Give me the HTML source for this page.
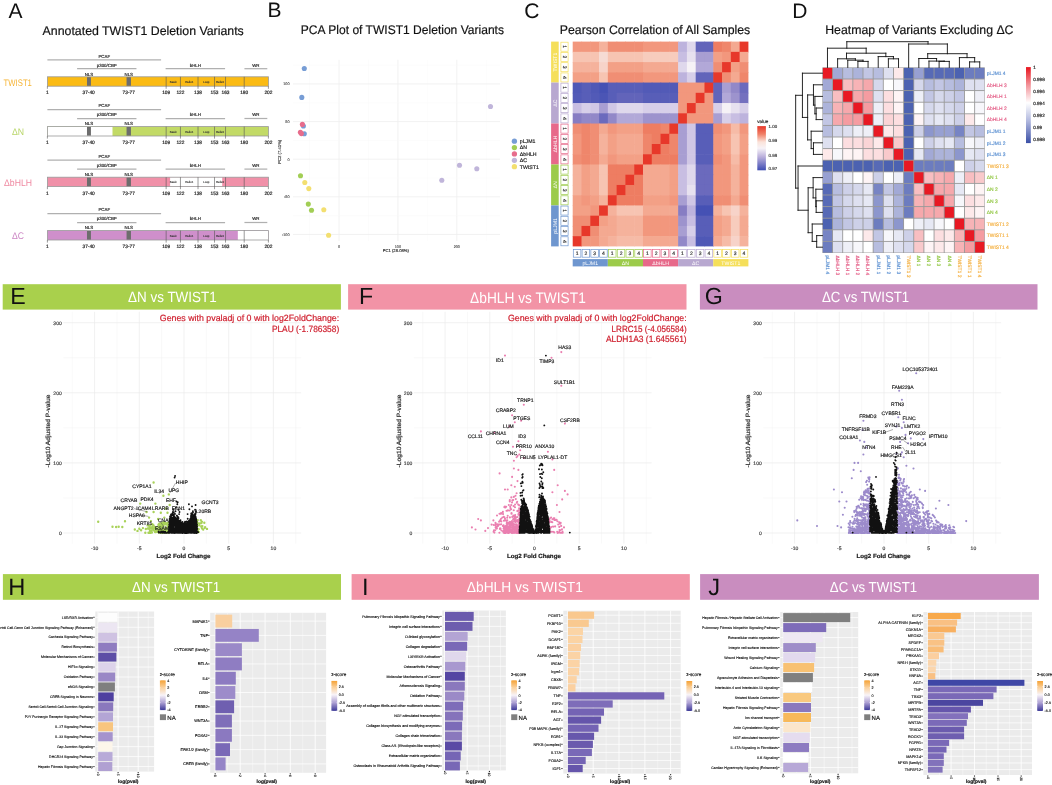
<!DOCTYPE html>
<html><head><meta charset="utf-8"><title>TWIST1 figure</title>
<style>
html,body{margin:0;padding:0;background:#fff;}
body{width:1052px;height:785px;overflow:hidden;}
svg{display:block;font-family:"Liberation Sans", sans-serif;text-rendering:geometricPrecision;will-change:transform;}
</style></head>
<body>
<svg width="1052" height="785" viewBox="0 0 1052 785">
<rect x="0" y="0" width="1052" height="785" fill="#ffffff"/>
<text x="8.6" y="18.2" font-size="21" fill="#111">A</text>
<text x="267.6" y="17.4" font-size="21" fill="#111">B</text>
<text x="524.2" y="17.6" font-size="21" fill="#111">C</text>
<text x="792.2" y="17.7" font-size="21" fill="#111">D</text>
<text x="42.6" y="34.9" font-size="12.5" fill="#111" textLength="201.2" lengthAdjust="spacingAndGlyphs" stroke="#111" stroke-width="0.18">Annotated TWIST1 Deletion Variants</text>
<text x="300.8" y="33.7" font-size="12.5" fill="#111" textLength="203.2" lengthAdjust="spacingAndGlyphs" stroke="#111" stroke-width="0.18">PCA Plot of TWIST1 Deletion Variants</text>
<text x="559.8" y="33.7" font-size="12.5" fill="#111" textLength="190.4" lengthAdjust="spacingAndGlyphs" stroke="#111" stroke-width="0.18">Pearson Correlation of All Samples</text>
<text x="825.2" y="33.9" font-size="12.5" fill="#111" textLength="188.3" lengthAdjust="spacingAndGlyphs" stroke="#111" stroke-width="0.18">Heatmap of Variants Excluding ΔC</text>
<text x="17.75" y="85.6" font-size="9.6" fill="#f6b435" text-anchor="middle" textLength="28.3" lengthAdjust="spacingAndGlyphs">TWIST1</text>
<line x1="47.4" y1="59.8" x2="161.09" y2="59.8" stroke="#b0b0b0" stroke-width="1.25"/>
<text x="104.24" y="57.6" font-size="4.4" fill="#1a1a1a" text-anchor="middle" stroke="#1a1a1a" stroke-width="0.15">PCAF</text>
<line x1="77.09" y1="68.7" x2="136.46" y2="68.7" stroke="#b0b0b0" stroke-width="1.25"/>
<text x="106.77" y="66.5" font-size="4.4" fill="#1a1a1a" text-anchor="middle" stroke="#1a1a1a" stroke-width="0.15">p300/CBP</text>
<line x1="165.6" y1="68.7" x2="225.08" y2="68.7" stroke="#b0b0b0" stroke-width="1.25"/>
<text x="195.34" y="66.5" font-size="4.4" fill="#1a1a1a" text-anchor="middle" stroke="#1a1a1a" stroke-width="0.15">bHLH</text>
<line x1="244.43" y1="68.7" x2="267.3" y2="68.7" stroke="#b0b0b0" stroke-width="1.25"/>
<text x="255.87" y="66.5" font-size="4.4" fill="#1a1a1a" text-anchor="middle" stroke="#1a1a1a" stroke-width="0.15">WR</text>
<rect x="47.4" y="76.8" width="221" height="9.4" fill="#fbbb14"/>
<rect x="47.4" y="76.8" width="221" height="9.4" fill="none" stroke="#9a9a9a" stroke-width="0.8"/>
<rect x="86.98" y="77.2" width="3.96" height="8.6" fill="#6d6d6d"/>
<text x="88.96" y="75.6" font-size="4.4" fill="#1a1a1a" text-anchor="middle" stroke="#1a1a1a" stroke-width="0.15">NLS</text>
<rect x="126.56" y="77.2" width="4.4" height="8.6" fill="#6d6d6d"/>
<text x="128.76" y="75.6" font-size="4.4" fill="#1a1a1a" text-anchor="middle" stroke="#1a1a1a" stroke-width="0.15">NLS</text>
<line x1="166.15" y1="76.8" x2="166.15" y2="88.8" stroke="#555" stroke-width="0.6"/>
<line x1="180.44" y1="76.8" x2="180.44" y2="88.8" stroke="#555" stroke-width="0.6"/>
<line x1="198.03" y1="76.8" x2="198.03" y2="88.8" stroke="#555" stroke-width="0.6"/>
<line x1="214.52" y1="76.8" x2="214.52" y2="88.8" stroke="#555" stroke-width="0.6"/>
<line x1="225.52" y1="76.8" x2="225.52" y2="88.8" stroke="#555" stroke-width="0.6"/>
<line x1="244.21" y1="76.8" x2="244.21" y2="88.8" stroke="#555" stroke-width="0.6"/>
<line x1="47.4" y1="86.2" x2="47.4" y2="88.8" stroke="#555" stroke-width="0.6"/>
<line x1="268.4" y1="86.2" x2="268.4" y2="88.8" stroke="#555" stroke-width="0.6"/>
<text x="173.29" y="82.7" font-size="2.9" fill="#333" text-anchor="middle" stroke="#333" stroke-width="0.1">Basic</text>
<text x="189.24" y="82.7" font-size="2.9" fill="#333" text-anchor="middle" stroke="#333" stroke-width="0.1">Helix1</text>
<text x="206.28" y="82.7" font-size="2.9" fill="#333" text-anchor="middle" stroke="#333" stroke-width="0.1">Loop</text>
<text x="220.02" y="82.7" font-size="2.9" fill="#333" text-anchor="middle" stroke="#333" stroke-width="0.1">Helix2</text>
<text x="47.4" y="94.4" font-size="4.8" fill="#1a1a1a" text-anchor="middle" stroke="#1a1a1a" stroke-width="0.17">1</text>
<text x="88.63" y="94.4" font-size="4.8" fill="#1a1a1a" text-anchor="middle" stroke="#1a1a1a" stroke-width="0.17">37-40</text>
<text x="128.76" y="94.4" font-size="4.8" fill="#1a1a1a" text-anchor="middle" stroke="#1a1a1a" stroke-width="0.17">73-77</text>
<text x="166.15" y="94.4" font-size="4.8" fill="#1a1a1a" text-anchor="middle" stroke="#1a1a1a" stroke-width="0.17">109</text>
<text x="180.44" y="94.4" font-size="4.8" fill="#1a1a1a" text-anchor="middle" stroke="#1a1a1a" stroke-width="0.17">122</text>
<text x="198.03" y="94.4" font-size="4.8" fill="#1a1a1a" text-anchor="middle" stroke="#1a1a1a" stroke-width="0.17">138</text>
<text x="214.52" y="94.4" font-size="4.8" fill="#1a1a1a" text-anchor="middle" stroke="#1a1a1a" stroke-width="0.17">153</text>
<text x="225.52" y="94.4" font-size="4.8" fill="#1a1a1a" text-anchor="middle" stroke="#1a1a1a" stroke-width="0.17">163</text>
<text x="244.21" y="94.4" font-size="4.8" fill="#1a1a1a" text-anchor="middle" stroke="#1a1a1a" stroke-width="0.17">180</text>
<text x="268.4" y="94.4" font-size="4.8" fill="#1a1a1a" text-anchor="middle" stroke="#1a1a1a" stroke-width="0.17">202</text>
<text x="18.05" y="135.4" font-size="9.6" fill="#b9d66a" text-anchor="middle" textLength="12.1" lengthAdjust="spacingAndGlyphs">ΔN</text>
<line x1="47.4" y1="109.6" x2="161.09" y2="109.6" stroke="#b0b0b0" stroke-width="1.25"/>
<text x="104.24" y="107.4" font-size="4.4" fill="#1a1a1a" text-anchor="middle" stroke="#1a1a1a" stroke-width="0.15">PCAF</text>
<line x1="77.09" y1="118.5" x2="136.46" y2="118.5" stroke="#b0b0b0" stroke-width="1.25"/>
<text x="106.77" y="116.3" font-size="4.4" fill="#1a1a1a" text-anchor="middle" stroke="#1a1a1a" stroke-width="0.15">p300/CBP</text>
<line x1="165.6" y1="118.5" x2="225.08" y2="118.5" stroke="#b0b0b0" stroke-width="1.25"/>
<text x="195.34" y="116.3" font-size="4.4" fill="#1a1a1a" text-anchor="middle" stroke="#1a1a1a" stroke-width="0.15">bHLH</text>
<line x1="244.43" y1="118.5" x2="267.3" y2="118.5" stroke="#b0b0b0" stroke-width="1.25"/>
<text x="255.87" y="116.3" font-size="4.4" fill="#1a1a1a" text-anchor="middle" stroke="#1a1a1a" stroke-width="0.15">WR</text>
<rect x="47.4" y="126.6" width="221" height="9.4" fill="#c2da66"/>
<rect x="47.4" y="126.6" width="65.09" height="9.4" fill="white"/>
<rect x="47.4" y="126.6" width="221" height="9.4" fill="none" stroke="#9a9a9a" stroke-width="0.8"/>
<rect x="86.98" y="127" width="3.96" height="8.6" fill="#6d6d6d"/>
<text x="88.96" y="125.4" font-size="4.4" fill="#1a1a1a" text-anchor="middle" stroke="#1a1a1a" stroke-width="0.15">NLS</text>
<rect x="126.56" y="127" width="4.4" height="8.6" fill="#6d6d6d"/>
<text x="128.76" y="125.4" font-size="4.4" fill="#1a1a1a" text-anchor="middle" stroke="#1a1a1a" stroke-width="0.15">NLS</text>
<line x1="166.15" y1="126.6" x2="166.15" y2="138.6" stroke="#555" stroke-width="0.6"/>
<line x1="180.44" y1="126.6" x2="180.44" y2="138.6" stroke="#555" stroke-width="0.6"/>
<line x1="198.03" y1="126.6" x2="198.03" y2="138.6" stroke="#555" stroke-width="0.6"/>
<line x1="214.52" y1="126.6" x2="214.52" y2="138.6" stroke="#555" stroke-width="0.6"/>
<line x1="225.52" y1="126.6" x2="225.52" y2="138.6" stroke="#555" stroke-width="0.6"/>
<line x1="244.21" y1="126.6" x2="244.21" y2="138.6" stroke="#555" stroke-width="0.6"/>
<line x1="47.4" y1="136" x2="47.4" y2="138.6" stroke="#555" stroke-width="0.6"/>
<line x1="268.4" y1="136" x2="268.4" y2="138.6" stroke="#555" stroke-width="0.6"/>
<text x="173.29" y="132.5" font-size="2.9" fill="#333" text-anchor="middle" stroke="#333" stroke-width="0.1">Basic</text>
<text x="189.24" y="132.5" font-size="2.9" fill="#333" text-anchor="middle" stroke="#333" stroke-width="0.1">Helix1</text>
<text x="206.28" y="132.5" font-size="2.9" fill="#333" text-anchor="middle" stroke="#333" stroke-width="0.1">Loop</text>
<text x="220.02" y="132.5" font-size="2.9" fill="#333" text-anchor="middle" stroke="#333" stroke-width="0.1">Helix2</text>
<text x="47.4" y="144.2" font-size="4.8" fill="#1a1a1a" text-anchor="middle" stroke="#1a1a1a" stroke-width="0.17">1</text>
<text x="88.63" y="144.2" font-size="4.8" fill="#1a1a1a" text-anchor="middle" stroke="#1a1a1a" stroke-width="0.17">37-40</text>
<text x="128.76" y="144.2" font-size="4.8" fill="#1a1a1a" text-anchor="middle" stroke="#1a1a1a" stroke-width="0.17">73-77</text>
<text x="166.15" y="144.2" font-size="4.8" fill="#1a1a1a" text-anchor="middle" stroke="#1a1a1a" stroke-width="0.17">109</text>
<text x="180.44" y="144.2" font-size="4.8" fill="#1a1a1a" text-anchor="middle" stroke="#1a1a1a" stroke-width="0.17">122</text>
<text x="198.03" y="144.2" font-size="4.8" fill="#1a1a1a" text-anchor="middle" stroke="#1a1a1a" stroke-width="0.17">138</text>
<text x="214.52" y="144.2" font-size="4.8" fill="#1a1a1a" text-anchor="middle" stroke="#1a1a1a" stroke-width="0.17">153</text>
<text x="225.52" y="144.2" font-size="4.8" fill="#1a1a1a" text-anchor="middle" stroke="#1a1a1a" stroke-width="0.17">163</text>
<text x="244.21" y="144.2" font-size="4.8" fill="#1a1a1a" text-anchor="middle" stroke="#1a1a1a" stroke-width="0.17">180</text>
<text x="268.4" y="144.2" font-size="4.8" fill="#1a1a1a" text-anchor="middle" stroke="#1a1a1a" stroke-width="0.17">202</text>
<text x="18" y="186" font-size="9.6" fill="#ef8aa2" text-anchor="middle" textLength="28" lengthAdjust="spacingAndGlyphs">ΔbHLH</text>
<line x1="47.4" y1="160.2" x2="161.09" y2="160.2" stroke="#b0b0b0" stroke-width="1.25"/>
<text x="104.24" y="158" font-size="4.4" fill="#1a1a1a" text-anchor="middle" stroke="#1a1a1a" stroke-width="0.15">PCAF</text>
<line x1="77.09" y1="169.1" x2="136.46" y2="169.1" stroke="#b0b0b0" stroke-width="1.25"/>
<text x="106.77" y="166.9" font-size="4.4" fill="#1a1a1a" text-anchor="middle" stroke="#1a1a1a" stroke-width="0.15">p300/CBP</text>
<line x1="165.6" y1="169.1" x2="225.08" y2="169.1" stroke="#b0b0b0" stroke-width="1.25"/>
<text x="195.34" y="166.9" font-size="4.4" fill="#1a1a1a" text-anchor="middle" stroke="#1a1a1a" stroke-width="0.15">bHLH</text>
<line x1="244.43" y1="169.1" x2="267.3" y2="169.1" stroke="#b0b0b0" stroke-width="1.25"/>
<text x="255.87" y="166.9" font-size="4.4" fill="#1a1a1a" text-anchor="middle" stroke="#1a1a1a" stroke-width="0.15">WR</text>
<rect x="47.4" y="177.2" width="221" height="9.4" fill="#f090a8"/>
<rect x="170.1" y="177.2" width="52.12" height="9.4" fill="white"/>
<rect x="47.4" y="177.2" width="221" height="9.4" fill="none" stroke="#9a9a9a" stroke-width="0.8"/>
<rect x="86.98" y="177.6" width="3.96" height="8.6" fill="#6d6d6d"/>
<text x="88.96" y="176" font-size="4.4" fill="#1a1a1a" text-anchor="middle" stroke="#1a1a1a" stroke-width="0.15">NLS</text>
<rect x="126.56" y="177.6" width="4.4" height="8.6" fill="#6d6d6d"/>
<text x="128.76" y="176" font-size="4.4" fill="#1a1a1a" text-anchor="middle" stroke="#1a1a1a" stroke-width="0.15">NLS</text>
<line x1="166.15" y1="177.2" x2="166.15" y2="189.2" stroke="#555" stroke-width="0.6"/>
<line x1="180.44" y1="177.2" x2="180.44" y2="189.2" stroke="#555" stroke-width="0.6"/>
<line x1="198.03" y1="177.2" x2="198.03" y2="189.2" stroke="#555" stroke-width="0.6"/>
<line x1="214.52" y1="177.2" x2="214.52" y2="189.2" stroke="#555" stroke-width="0.6"/>
<line x1="225.52" y1="177.2" x2="225.52" y2="189.2" stroke="#555" stroke-width="0.6"/>
<line x1="244.21" y1="177.2" x2="244.21" y2="189.2" stroke="#555" stroke-width="0.6"/>
<line x1="47.4" y1="186.6" x2="47.4" y2="189.2" stroke="#555" stroke-width="0.6"/>
<line x1="268.4" y1="186.6" x2="268.4" y2="189.2" stroke="#555" stroke-width="0.6"/>
<text x="173.29" y="183.1" font-size="2.9" fill="#333" text-anchor="middle" stroke="#333" stroke-width="0.1">Basic</text>
<text x="189.24" y="183.1" font-size="2.9" fill="#333" text-anchor="middle" stroke="#333" stroke-width="0.1">Helix1</text>
<text x="206.28" y="183.1" font-size="2.9" fill="#333" text-anchor="middle" stroke="#333" stroke-width="0.1">Loop</text>
<text x="220.02" y="183.1" font-size="2.9" fill="#333" text-anchor="middle" stroke="#333" stroke-width="0.1">Helix2</text>
<text x="47.4" y="194.8" font-size="4.8" fill="#1a1a1a" text-anchor="middle" stroke="#1a1a1a" stroke-width="0.17">1</text>
<text x="88.63" y="194.8" font-size="4.8" fill="#1a1a1a" text-anchor="middle" stroke="#1a1a1a" stroke-width="0.17">37-40</text>
<text x="128.76" y="194.8" font-size="4.8" fill="#1a1a1a" text-anchor="middle" stroke="#1a1a1a" stroke-width="0.17">73-77</text>
<text x="166.15" y="194.8" font-size="4.8" fill="#1a1a1a" text-anchor="middle" stroke="#1a1a1a" stroke-width="0.17">109</text>
<text x="180.44" y="194.8" font-size="4.8" fill="#1a1a1a" text-anchor="middle" stroke="#1a1a1a" stroke-width="0.17">122</text>
<text x="198.03" y="194.8" font-size="4.8" fill="#1a1a1a" text-anchor="middle" stroke="#1a1a1a" stroke-width="0.17">138</text>
<text x="214.52" y="194.8" font-size="4.8" fill="#1a1a1a" text-anchor="middle" stroke="#1a1a1a" stroke-width="0.17">153</text>
<text x="225.52" y="194.8" font-size="4.8" fill="#1a1a1a" text-anchor="middle" stroke="#1a1a1a" stroke-width="0.17">163</text>
<text x="244.21" y="194.8" font-size="4.8" fill="#1a1a1a" text-anchor="middle" stroke="#1a1a1a" stroke-width="0.17">180</text>
<text x="268.4" y="194.8" font-size="4.8" fill="#1a1a1a" text-anchor="middle" stroke="#1a1a1a" stroke-width="0.17">202</text>
<text x="18" y="239.4" font-size="9.6" fill="#cc86c4" text-anchor="middle" textLength="12" lengthAdjust="spacingAndGlyphs">ΔC</text>
<line x1="47.4" y1="213.6" x2="161.09" y2="213.6" stroke="#b0b0b0" stroke-width="1.25"/>
<text x="104.24" y="211.4" font-size="4.4" fill="#1a1a1a" text-anchor="middle" stroke="#1a1a1a" stroke-width="0.15">PCAF</text>
<line x1="77.09" y1="222.5" x2="136.46" y2="222.5" stroke="#b0b0b0" stroke-width="1.25"/>
<text x="106.77" y="220.3" font-size="4.4" fill="#1a1a1a" text-anchor="middle" stroke="#1a1a1a" stroke-width="0.15">p300/CBP</text>
<line x1="165.6" y1="222.5" x2="225.08" y2="222.5" stroke="#b0b0b0" stroke-width="1.25"/>
<text x="195.34" y="220.3" font-size="4.4" fill="#1a1a1a" text-anchor="middle" stroke="#1a1a1a" stroke-width="0.15">bHLH</text>
<line x1="244.43" y1="222.5" x2="267.3" y2="222.5" stroke="#b0b0b0" stroke-width="1.25"/>
<text x="255.87" y="220.3" font-size="4.4" fill="#1a1a1a" text-anchor="middle" stroke="#1a1a1a" stroke-width="0.15">WR</text>
<rect x="47.4" y="230.6" width="221" height="9.4" fill="#cf8fcb"/>
<rect x="237.83" y="230.6" width="30.57" height="9.4" fill="white"/>
<rect x="47.4" y="230.6" width="221" height="9.4" fill="none" stroke="#9a9a9a" stroke-width="0.8"/>
<rect x="86.98" y="231" width="3.96" height="8.6" fill="#6d6d6d"/>
<text x="88.96" y="229.4" font-size="4.4" fill="#1a1a1a" text-anchor="middle" stroke="#1a1a1a" stroke-width="0.15">NLS</text>
<rect x="126.56" y="231" width="4.4" height="8.6" fill="#6d6d6d"/>
<text x="128.76" y="229.4" font-size="4.4" fill="#1a1a1a" text-anchor="middle" stroke="#1a1a1a" stroke-width="0.15">NLS</text>
<line x1="166.15" y1="230.6" x2="166.15" y2="242.6" stroke="#555" stroke-width="0.6"/>
<line x1="180.44" y1="230.6" x2="180.44" y2="242.6" stroke="#555" stroke-width="0.6"/>
<line x1="198.03" y1="230.6" x2="198.03" y2="242.6" stroke="#555" stroke-width="0.6"/>
<line x1="214.52" y1="230.6" x2="214.52" y2="242.6" stroke="#555" stroke-width="0.6"/>
<line x1="225.52" y1="230.6" x2="225.52" y2="242.6" stroke="#555" stroke-width="0.6"/>
<line x1="244.21" y1="230.6" x2="244.21" y2="242.6" stroke="#555" stroke-width="0.6"/>
<line x1="47.4" y1="240" x2="47.4" y2="242.6" stroke="#555" stroke-width="0.6"/>
<line x1="268.4" y1="240" x2="268.4" y2="242.6" stroke="#555" stroke-width="0.6"/>
<text x="173.29" y="236.5" font-size="2.9" fill="#333" text-anchor="middle" stroke="#333" stroke-width="0.1">Basic</text>
<text x="189.24" y="236.5" font-size="2.9" fill="#333" text-anchor="middle" stroke="#333" stroke-width="0.1">Helix1</text>
<text x="206.28" y="236.5" font-size="2.9" fill="#333" text-anchor="middle" stroke="#333" stroke-width="0.1">Loop</text>
<text x="220.02" y="236.5" font-size="2.9" fill="#333" text-anchor="middle" stroke="#333" stroke-width="0.1">Helix2</text>
<text x="47.4" y="248.2" font-size="4.8" fill="#1a1a1a" text-anchor="middle" stroke="#1a1a1a" stroke-width="0.17">1</text>
<text x="88.63" y="248.2" font-size="4.8" fill="#1a1a1a" text-anchor="middle" stroke="#1a1a1a" stroke-width="0.17">37-40</text>
<text x="128.76" y="248.2" font-size="4.8" fill="#1a1a1a" text-anchor="middle" stroke="#1a1a1a" stroke-width="0.17">73-77</text>
<text x="166.15" y="248.2" font-size="4.8" fill="#1a1a1a" text-anchor="middle" stroke="#1a1a1a" stroke-width="0.17">109</text>
<text x="180.44" y="248.2" font-size="4.8" fill="#1a1a1a" text-anchor="middle" stroke="#1a1a1a" stroke-width="0.17">122</text>
<text x="198.03" y="248.2" font-size="4.8" fill="#1a1a1a" text-anchor="middle" stroke="#1a1a1a" stroke-width="0.17">138</text>
<text x="214.52" y="248.2" font-size="4.8" fill="#1a1a1a" text-anchor="middle" stroke="#1a1a1a" stroke-width="0.17">153</text>
<text x="225.52" y="248.2" font-size="4.8" fill="#1a1a1a" text-anchor="middle" stroke="#1a1a1a" stroke-width="0.17">163</text>
<text x="244.21" y="248.2" font-size="4.8" fill="#1a1a1a" text-anchor="middle" stroke="#1a1a1a" stroke-width="0.17">180</text>
<text x="268.4" y="248.2" font-size="4.8" fill="#1a1a1a" text-anchor="middle" stroke="#1a1a1a" stroke-width="0.17">202</text>
<line x1="309.55" y1="59.8" x2="309.55" y2="241" stroke="#f8f8f8" stroke-width="0.5"/>
<line x1="339" y1="59.8" x2="339" y2="241" stroke="#efefef" stroke-width="0.8"/>
<line x1="368.45" y1="59.8" x2="368.45" y2="241" stroke="#f8f8f8" stroke-width="0.5"/>
<line x1="397.9" y1="59.8" x2="397.9" y2="241" stroke="#efefef" stroke-width="0.8"/>
<line x1="427.35" y1="59.8" x2="427.35" y2="241" stroke="#f8f8f8" stroke-width="0.5"/>
<line x1="456.8" y1="59.8" x2="456.8" y2="241" stroke="#efefef" stroke-width="0.8"/>
<line x1="486.25" y1="59.8" x2="486.25" y2="241" stroke="#f8f8f8" stroke-width="0.5"/>
<line x1="293" y1="234.45" x2="500" y2="234.45" stroke="#efefef" stroke-width="0.8"/>
<line x1="293" y1="215.64" x2="500" y2="215.64" stroke="#f8f8f8" stroke-width="0.5"/>
<line x1="293" y1="196.82" x2="500" y2="196.82" stroke="#efefef" stroke-width="0.8"/>
<line x1="293" y1="178.01" x2="500" y2="178.01" stroke="#f8f8f8" stroke-width="0.5"/>
<line x1="293" y1="159.2" x2="500" y2="159.2" stroke="#efefef" stroke-width="0.8"/>
<line x1="293" y1="140.39" x2="500" y2="140.39" stroke="#f8f8f8" stroke-width="0.5"/>
<line x1="293" y1="121.57" x2="500" y2="121.57" stroke="#efefef" stroke-width="0.8"/>
<line x1="293" y1="102.76" x2="500" y2="102.76" stroke="#f8f8f8" stroke-width="0.5"/>
<line x1="293" y1="83.95" x2="500" y2="83.95" stroke="#efefef" stroke-width="0.8"/>
<line x1="293" y1="65.14" x2="500" y2="65.14" stroke="#f8f8f8" stroke-width="0.5"/>
<text x="289.6" y="85.25" font-size="3.8" fill="#555" text-anchor="end" stroke="#555" stroke-width="0.13">100</text>
<text x="289.6" y="122.87" font-size="3.8" fill="#555" text-anchor="end" stroke="#555" stroke-width="0.13">50</text>
<text x="289.6" y="160.5" font-size="3.8" fill="#555" text-anchor="end" stroke="#555" stroke-width="0.13">0</text>
<text x="289.6" y="198.12" font-size="3.8" fill="#555" text-anchor="end" stroke="#555" stroke-width="0.13">-50</text>
<text x="289.6" y="235.75" font-size="3.8" fill="#555" text-anchor="end" stroke="#555" stroke-width="0.13">-100</text>
<text x="339" y="248" font-size="3.8" fill="#555" text-anchor="middle" stroke="#555" stroke-width="0.13">0</text>
<text x="397.9" y="248" font-size="3.8" fill="#555" text-anchor="middle" stroke="#555" stroke-width="0.13">100</text>
<text x="456.8" y="248" font-size="3.8" fill="#555" text-anchor="middle" stroke="#555" stroke-width="0.13">200</text>
<text x="395.8" y="252.3" font-size="4.2" fill="#333" text-anchor="middle" stroke="#333" stroke-width="0.15">PC1 (28.08%)</text>
<text x="280.6" y="151.7" font-size="4.2" fill="#333" text-anchor="middle" transform="rotate(-90 280.6 151.7)" stroke="#333" stroke-width="0.15">PC2 (7.41%)</text>
<circle cx="304.3" cy="68.5" r="2.55" fill="#779dd5"/>
<circle cx="301.8" cy="97.4" r="2.55" fill="#779dd5"/>
<circle cx="303.4" cy="126" r="2.55" fill="#779dd5"/>
<circle cx="304.3" cy="133.8" r="2.55" fill="#779dd5"/>
<circle cx="302.4" cy="124.4" r="2.55" fill="#e76c8c"/>
<circle cx="300.4" cy="132.2" r="2.55" fill="#e76c8c"/>
<circle cx="301.4" cy="133.6" r="2.55" fill="#e76c8c"/>
<circle cx="300.5" cy="175.8" r="2.55" fill="#a2ce55"/>
<circle cx="308.3" cy="204.1" r="2.55" fill="#a2ce55"/>
<circle cx="311.5" cy="210.3" r="2.55" fill="#a2ce55"/>
<circle cx="304.8" cy="182.5" r="2.55" fill="#f3df70"/>
<circle cx="308.8" cy="188.6" r="2.55" fill="#f3df70"/>
<circle cx="323.8" cy="209.8" r="2.55" fill="#f3df70"/>
<circle cx="328.6" cy="235.2" r="2.55" fill="#f3df70"/>
<circle cx="490.5" cy="106.5" r="2.55" fill="#c0b5da"/>
<circle cx="459.5" cy="165.3" r="2.55" fill="#c0b5da"/>
<circle cx="476.8" cy="168.8" r="2.55" fill="#c0b5da"/>
<circle cx="441.8" cy="180.3" r="2.55" fill="#c0b5da"/>
<circle cx="514.4" cy="141.2" r="2.65" fill="#779dd5"/>
<text x="519.8" y="143.1" font-size="5.2" fill="#222" stroke="#222" stroke-width="0.18">pLJM1</text>
<circle cx="514.4" cy="147.57" r="2.65" fill="#a2ce55"/>
<text x="519.8" y="149.47" font-size="5.2" fill="#222" stroke="#222" stroke-width="0.18">ΔN</text>
<circle cx="514.4" cy="153.94" r="2.65" fill="#e76c8c"/>
<text x="519.8" y="155.84" font-size="5.2" fill="#222" stroke="#222" stroke-width="0.18">ΔbHLH</text>
<circle cx="514.4" cy="160.31" r="2.65" fill="#c0b5da"/>
<text x="519.8" y="162.21" font-size="5.2" fill="#222" stroke="#222" stroke-width="0.18">ΔC</text>
<circle cx="514.4" cy="166.68" r="2.65" fill="#f3df70"/>
<text x="519.8" y="168.58" font-size="5.2" fill="#222" stroke="#222" stroke-width="0.18">TWIST1</text>
<rect x="572.7" y="41.6" width="9.38" height="10.84" fill="#f2977d"/>
<rect x="581.49" y="41.6" width="9.38" height="10.84" fill="#f2977d"/>
<rect x="590.27" y="41.6" width="9.38" height="10.84" fill="#f2977d"/>
<rect x="599.06" y="41.6" width="9.38" height="10.84" fill="#f5b29c"/>
<rect x="607.84" y="41.6" width="9.38" height="10.84" fill="#f08e74"/>
<rect x="616.62" y="41.6" width="9.38" height="10.84" fill="#f08e74"/>
<rect x="625.41" y="41.6" width="9.38" height="10.84" fill="#f08e74"/>
<rect x="634.2" y="41.6" width="9.38" height="10.84" fill="#f08e74"/>
<rect x="642.98" y="41.6" width="9.38" height="10.84" fill="#f2977d"/>
<rect x="651.77" y="41.6" width="9.38" height="10.84" fill="#f2977d"/>
<rect x="660.55" y="41.6" width="9.38" height="10.84" fill="#f2977d"/>
<rect x="669.34" y="41.6" width="9.38" height="10.84" fill="#f2977d"/>
<rect x="678.12" y="41.6" width="9.38" height="10.84" fill="#bdb3dd"/>
<rect x="686.91" y="41.6" width="9.38" height="10.84" fill="#dfd8ec"/>
<rect x="695.69" y="41.6" width="9.38" height="10.84" fill="#6264ba"/>
<rect x="704.48" y="41.6" width="9.38" height="10.84" fill="#6264ba"/>
<rect x="713.26" y="41.6" width="9.38" height="10.84" fill="#ee7d62"/>
<rect x="722.05" y="41.6" width="9.38" height="10.84" fill="#ef866b"/>
<rect x="730.83" y="41.6" width="9.38" height="10.84" fill="#f4a991"/>
<rect x="739.62" y="41.6" width="8.79" height="10.84" fill="#e7382a"/>
<rect x="572.7" y="51.84" width="9.38" height="10.84" fill="#f7c4b2"/>
<rect x="581.49" y="51.84" width="9.38" height="10.84" fill="#f7c4b2"/>
<rect x="590.27" y="51.84" width="9.38" height="10.84" fill="#f7c4b2"/>
<rect x="599.06" y="51.84" width="9.38" height="10.84" fill="#f6dbd4"/>
<rect x="607.84" y="51.84" width="9.38" height="10.84" fill="#f7c4b2"/>
<rect x="616.62" y="51.84" width="9.38" height="10.84" fill="#f7c4b2"/>
<rect x="625.41" y="51.84" width="9.38" height="10.84" fill="#f7c4b2"/>
<rect x="634.2" y="51.84" width="9.38" height="10.84" fill="#f7c4b2"/>
<rect x="642.98" y="51.84" width="9.38" height="10.84" fill="#f7ccbd"/>
<rect x="651.77" y="51.84" width="9.38" height="10.84" fill="#f7ccbd"/>
<rect x="660.55" y="51.84" width="9.38" height="10.84" fill="#f7ccbd"/>
<rect x="669.34" y="51.84" width="9.38" height="10.84" fill="#f7ccbd"/>
<rect x="678.12" y="51.84" width="9.38" height="10.84" fill="#c8bee2"/>
<rect x="686.91" y="51.84" width="9.38" height="10.84" fill="#e7e1ef"/>
<rect x="695.69" y="51.84" width="9.38" height="10.84" fill="#a89ed2"/>
<rect x="704.48" y="51.84" width="9.38" height="10.84" fill="#a89ed2"/>
<rect x="713.26" y="51.84" width="9.38" height="10.84" fill="#f3a086"/>
<rect x="722.05" y="51.84" width="9.38" height="10.84" fill="#f2977d"/>
<rect x="730.83" y="51.84" width="9.38" height="10.84" fill="#e7382a"/>
<rect x="739.62" y="51.84" width="8.79" height="10.84" fill="#f4a991"/>
<rect x="572.7" y="62.08" width="9.38" height="10.84" fill="#f5b29c"/>
<rect x="581.49" y="62.08" width="9.38" height="10.84" fill="#f5b29c"/>
<rect x="590.27" y="62.08" width="9.38" height="10.84" fill="#f5b29c"/>
<rect x="599.06" y="62.08" width="9.38" height="10.84" fill="#f7d3c9"/>
<rect x="607.84" y="62.08" width="9.38" height="10.84" fill="#f3a086"/>
<rect x="616.62" y="62.08" width="9.38" height="10.84" fill="#f3a086"/>
<rect x="625.41" y="62.08" width="9.38" height="10.84" fill="#f3a086"/>
<rect x="634.2" y="62.08" width="9.38" height="10.84" fill="#f3a086"/>
<rect x="642.98" y="62.08" width="9.38" height="10.84" fill="#f4a991"/>
<rect x="651.77" y="62.08" width="9.38" height="10.84" fill="#f4a991"/>
<rect x="660.55" y="62.08" width="9.38" height="10.84" fill="#f4a991"/>
<rect x="669.34" y="62.08" width="9.38" height="10.84" fill="#f4a991"/>
<rect x="678.12" y="62.08" width="9.38" height="10.84" fill="#dfd8ec"/>
<rect x="686.91" y="62.08" width="9.38" height="10.84" fill="#f6f2f6"/>
<rect x="695.69" y="62.08" width="9.38" height="10.84" fill="#b2a8d8"/>
<rect x="704.48" y="62.08" width="9.38" height="10.84" fill="#b2a8d8"/>
<rect x="713.26" y="62.08" width="9.38" height="10.84" fill="#f08e74"/>
<rect x="722.05" y="62.08" width="9.38" height="10.84" fill="#e7382a"/>
<rect x="730.83" y="62.08" width="9.38" height="10.84" fill="#f3a086"/>
<rect x="739.62" y="62.08" width="8.79" height="10.84" fill="#f08e74"/>
<rect x="572.7" y="72.32" width="9.38" height="10.84" fill="#f3a086"/>
<rect x="581.49" y="72.32" width="9.38" height="10.84" fill="#f3a086"/>
<rect x="590.27" y="72.32" width="9.38" height="10.84" fill="#f3a086"/>
<rect x="599.06" y="72.32" width="9.38" height="10.84" fill="#f7c4b2"/>
<rect x="607.84" y="72.32" width="9.38" height="10.84" fill="#f08e74"/>
<rect x="616.62" y="72.32" width="9.38" height="10.84" fill="#f08e74"/>
<rect x="625.41" y="72.32" width="9.38" height="10.84" fill="#f08e74"/>
<rect x="634.2" y="72.32" width="9.38" height="10.84" fill="#f08e74"/>
<rect x="642.98" y="72.32" width="9.38" height="10.84" fill="#f2977d"/>
<rect x="651.77" y="72.32" width="9.38" height="10.84" fill="#f2977d"/>
<rect x="660.55" y="72.32" width="9.38" height="10.84" fill="#f2977d"/>
<rect x="669.34" y="72.32" width="9.38" height="10.84" fill="#f2977d"/>
<rect x="678.12" y="72.32" width="9.38" height="10.84" fill="#bdb3dd"/>
<rect x="686.91" y="72.32" width="9.38" height="10.84" fill="#d7cfe9"/>
<rect x="695.69" y="72.32" width="9.38" height="10.84" fill="#6264ba"/>
<rect x="704.48" y="72.32" width="9.38" height="10.84" fill="#6264ba"/>
<rect x="713.26" y="72.32" width="9.38" height="10.84" fill="#e7382a"/>
<rect x="722.05" y="72.32" width="9.38" height="10.84" fill="#f08e74"/>
<rect x="730.83" y="72.32" width="9.38" height="10.84" fill="#f4a991"/>
<rect x="739.62" y="72.32" width="8.79" height="10.84" fill="#ef866b"/>
<rect x="572.7" y="82.56" width="9.38" height="10.84" fill="#4f58b6"/>
<rect x="581.49" y="82.56" width="9.38" height="10.84" fill="#585eb8"/>
<rect x="590.27" y="82.56" width="9.38" height="10.84" fill="#4f58b6"/>
<rect x="599.06" y="82.56" width="9.38" height="10.84" fill="#4551b4"/>
<rect x="607.84" y="82.56" width="9.38" height="10.84" fill="#585eb8"/>
<rect x="616.62" y="82.56" width="9.38" height="10.84" fill="#585eb8"/>
<rect x="625.41" y="82.56" width="9.38" height="10.84" fill="#585eb8"/>
<rect x="634.2" y="82.56" width="9.38" height="10.84" fill="#585eb8"/>
<rect x="642.98" y="82.56" width="9.38" height="10.84" fill="#525ab7"/>
<rect x="651.77" y="82.56" width="9.38" height="10.84" fill="#525ab7"/>
<rect x="660.55" y="82.56" width="9.38" height="10.84" fill="#525ab7"/>
<rect x="669.34" y="82.56" width="9.38" height="10.84" fill="#525ab7"/>
<rect x="678.12" y="82.56" width="9.38" height="10.84" fill="#f2977d"/>
<rect x="686.91" y="82.56" width="9.38" height="10.84" fill="#f2977d"/>
<rect x="695.69" y="82.56" width="9.38" height="10.84" fill="#f2977d"/>
<rect x="704.48" y="82.56" width="9.38" height="10.84" fill="#e7382a"/>
<rect x="713.26" y="82.56" width="9.38" height="10.84" fill="#6264ba"/>
<rect x="722.05" y="82.56" width="9.38" height="10.84" fill="#a89ed2"/>
<rect x="730.83" y="82.56" width="9.38" height="10.84" fill="#9288c8"/>
<rect x="739.62" y="82.56" width="8.79" height="10.84" fill="#6b6abd"/>
<rect x="572.7" y="92.8" width="9.38" height="10.84" fill="#525ab7"/>
<rect x="581.49" y="92.8" width="9.38" height="10.84" fill="#585eb8"/>
<rect x="590.27" y="92.8" width="9.38" height="10.84" fill="#525ab7"/>
<rect x="599.06" y="92.8" width="9.38" height="10.84" fill="#4b55b5"/>
<rect x="607.84" y="92.8" width="9.38" height="10.84" fill="#585eb8"/>
<rect x="616.62" y="92.8" width="9.38" height="10.84" fill="#6264ba"/>
<rect x="625.41" y="92.8" width="9.38" height="10.84" fill="#6264ba"/>
<rect x="634.2" y="92.8" width="9.38" height="10.84" fill="#6264ba"/>
<rect x="642.98" y="92.8" width="9.38" height="10.84" fill="#585eb8"/>
<rect x="651.77" y="92.8" width="9.38" height="10.84" fill="#585eb8"/>
<rect x="660.55" y="92.8" width="9.38" height="10.84" fill="#585eb8"/>
<rect x="669.34" y="92.8" width="9.38" height="10.84" fill="#585eb8"/>
<rect x="678.12" y="92.8" width="9.38" height="10.84" fill="#f2977d"/>
<rect x="686.91" y="92.8" width="9.38" height="10.84" fill="#f2977d"/>
<rect x="695.69" y="92.8" width="9.38" height="10.84" fill="#e7382a"/>
<rect x="704.48" y="92.8" width="9.38" height="10.84" fill="#f2977d"/>
<rect x="713.26" y="92.8" width="9.38" height="10.84" fill="#6264ba"/>
<rect x="722.05" y="92.8" width="9.38" height="10.84" fill="#b2a8d8"/>
<rect x="730.83" y="92.8" width="9.38" height="10.84" fill="#9d93cd"/>
<rect x="739.62" y="92.8" width="8.79" height="10.84" fill="#7470bf"/>
<rect x="572.7" y="103.04" width="9.38" height="10.84" fill="#c8bee2"/>
<rect x="581.49" y="103.04" width="9.38" height="10.84" fill="#d7cfe9"/>
<rect x="590.27" y="103.04" width="9.38" height="10.84" fill="#d0c7e5"/>
<rect x="599.06" y="103.04" width="9.38" height="10.84" fill="#a89ed2"/>
<rect x="607.84" y="103.04" width="9.38" height="10.84" fill="#d0c7e5"/>
<rect x="616.62" y="103.04" width="9.38" height="10.84" fill="#dfd8ec"/>
<rect x="625.41" y="103.04" width="9.38" height="10.84" fill="#dfd8ec"/>
<rect x="634.2" y="103.04" width="9.38" height="10.84" fill="#dfd8ec"/>
<rect x="642.98" y="103.04" width="9.38" height="10.84" fill="#d7cfe9"/>
<rect x="651.77" y="103.04" width="9.38" height="10.84" fill="#d7cfe9"/>
<rect x="660.55" y="103.04" width="9.38" height="10.84" fill="#d7cfe9"/>
<rect x="669.34" y="103.04" width="9.38" height="10.84" fill="#d7cfe9"/>
<rect x="678.12" y="103.04" width="9.38" height="10.84" fill="#f2977d"/>
<rect x="686.91" y="103.04" width="9.38" height="10.84" fill="#e7382a"/>
<rect x="695.69" y="103.04" width="9.38" height="10.84" fill="#f2977d"/>
<rect x="704.48" y="103.04" width="9.38" height="10.84" fill="#f2977d"/>
<rect x="713.26" y="103.04" width="9.38" height="10.84" fill="#d7cfe9"/>
<rect x="722.05" y="103.04" width="9.38" height="10.84" fill="#f6f2f6"/>
<rect x="730.83" y="103.04" width="9.38" height="10.84" fill="#e7e1ef"/>
<rect x="739.62" y="103.04" width="8.79" height="10.84" fill="#d7cfe9"/>
<rect x="572.7" y="113.28" width="9.38" height="10.84" fill="#877dc3"/>
<rect x="581.49" y="113.28" width="9.38" height="10.84" fill="#9288c8"/>
<rect x="590.27" y="113.28" width="9.38" height="10.84" fill="#9288c8"/>
<rect x="599.06" y="113.28" width="9.38" height="10.84" fill="#6b6abd"/>
<rect x="607.84" y="113.28" width="9.38" height="10.84" fill="#9288c8"/>
<rect x="616.62" y="113.28" width="9.38" height="10.84" fill="#b2a8d8"/>
<rect x="625.41" y="113.28" width="9.38" height="10.84" fill="#b2a8d8"/>
<rect x="634.2" y="113.28" width="9.38" height="10.84" fill="#b2a8d8"/>
<rect x="642.98" y="113.28" width="9.38" height="10.84" fill="#9d93cd"/>
<rect x="651.77" y="113.28" width="9.38" height="10.84" fill="#9d93cd"/>
<rect x="660.55" y="113.28" width="9.38" height="10.84" fill="#9d93cd"/>
<rect x="669.34" y="113.28" width="9.38" height="10.84" fill="#9d93cd"/>
<rect x="678.12" y="113.28" width="9.38" height="10.84" fill="#e7382a"/>
<rect x="686.91" y="113.28" width="9.38" height="10.84" fill="#f2977d"/>
<rect x="695.69" y="113.28" width="9.38" height="10.84" fill="#f2977d"/>
<rect x="704.48" y="113.28" width="9.38" height="10.84" fill="#f2977d"/>
<rect x="713.26" y="113.28" width="9.38" height="10.84" fill="#a89ed2"/>
<rect x="722.05" y="113.28" width="9.38" height="10.84" fill="#d7cfe9"/>
<rect x="730.83" y="113.28" width="9.38" height="10.84" fill="#c8bee2"/>
<rect x="739.62" y="113.28" width="8.79" height="10.84" fill="#bdb3dd"/>
<rect x="572.7" y="123.52" width="9.38" height="10.84" fill="#f08e74"/>
<rect x="581.49" y="123.52" width="9.38" height="10.84" fill="#ef866b"/>
<rect x="590.27" y="123.52" width="9.38" height="10.84" fill="#f08e74"/>
<rect x="599.06" y="123.52" width="9.38" height="10.84" fill="#f4a991"/>
<rect x="607.84" y="123.52" width="9.38" height="10.84" fill="#f2977d"/>
<rect x="616.62" y="123.52" width="9.38" height="10.84" fill="#f3a086"/>
<rect x="625.41" y="123.52" width="9.38" height="10.84" fill="#f3a086"/>
<rect x="634.2" y="123.52" width="9.38" height="10.84" fill="#f3a086"/>
<rect x="642.98" y="123.52" width="9.38" height="10.84" fill="#ee7d62"/>
<rect x="651.77" y="123.52" width="9.38" height="10.84" fill="#ee7d62"/>
<rect x="660.55" y="123.52" width="9.38" height="10.84" fill="#ef866b"/>
<rect x="669.34" y="123.52" width="9.38" height="10.84" fill="#e7382a"/>
<rect x="678.12" y="123.52" width="9.38" height="10.84" fill="#a89ed2"/>
<rect x="686.91" y="123.52" width="9.38" height="10.84" fill="#d0c7e5"/>
<rect x="695.69" y="123.52" width="9.38" height="10.84" fill="#585eb8"/>
<rect x="704.48" y="123.52" width="9.38" height="10.84" fill="#585eb8"/>
<rect x="713.26" y="123.52" width="9.38" height="10.84" fill="#f08e74"/>
<rect x="722.05" y="123.52" width="9.38" height="10.84" fill="#f2977d"/>
<rect x="730.83" y="123.52" width="9.38" height="10.84" fill="#f6bba7"/>
<rect x="739.62" y="123.52" width="8.79" height="10.84" fill="#f2977d"/>
<rect x="572.7" y="133.76" width="9.38" height="10.84" fill="#f2977d"/>
<rect x="581.49" y="133.76" width="9.38" height="10.84" fill="#ef866b"/>
<rect x="590.27" y="133.76" width="9.38" height="10.84" fill="#f08e74"/>
<rect x="599.06" y="133.76" width="9.38" height="10.84" fill="#f5b29c"/>
<rect x="607.84" y="133.76" width="9.38" height="10.84" fill="#f3a086"/>
<rect x="616.62" y="133.76" width="9.38" height="10.84" fill="#f4a991"/>
<rect x="625.41" y="133.76" width="9.38" height="10.84" fill="#f4a991"/>
<rect x="634.2" y="133.76" width="9.38" height="10.84" fill="#f4a991"/>
<rect x="642.98" y="133.76" width="9.38" height="10.84" fill="#ef866b"/>
<rect x="651.77" y="133.76" width="9.38" height="10.84" fill="#ee7d62"/>
<rect x="660.55" y="133.76" width="9.38" height="10.84" fill="#e7382a"/>
<rect x="669.34" y="133.76" width="9.38" height="10.84" fill="#ef866b"/>
<rect x="678.12" y="133.76" width="9.38" height="10.84" fill="#a89ed2"/>
<rect x="686.91" y="133.76" width="9.38" height="10.84" fill="#d0c7e5"/>
<rect x="695.69" y="133.76" width="9.38" height="10.84" fill="#585eb8"/>
<rect x="704.48" y="133.76" width="9.38" height="10.84" fill="#585eb8"/>
<rect x="713.26" y="133.76" width="9.38" height="10.84" fill="#f2977d"/>
<rect x="722.05" y="133.76" width="9.38" height="10.84" fill="#f3a086"/>
<rect x="730.83" y="133.76" width="9.38" height="10.84" fill="#f7c4b2"/>
<rect x="739.62" y="133.76" width="8.79" height="10.84" fill="#f3a086"/>
<rect x="572.7" y="144" width="9.38" height="10.84" fill="#f2977d"/>
<rect x="581.49" y="144" width="9.38" height="10.84" fill="#ef866b"/>
<rect x="590.27" y="144" width="9.38" height="10.84" fill="#f08e74"/>
<rect x="599.06" y="144" width="9.38" height="10.84" fill="#f5b29c"/>
<rect x="607.84" y="144" width="9.38" height="10.84" fill="#f3a086"/>
<rect x="616.62" y="144" width="9.38" height="10.84" fill="#f4a991"/>
<rect x="625.41" y="144" width="9.38" height="10.84" fill="#f4a991"/>
<rect x="634.2" y="144" width="9.38" height="10.84" fill="#f4a991"/>
<rect x="642.98" y="144" width="9.38" height="10.84" fill="#ef866b"/>
<rect x="651.77" y="144" width="9.38" height="10.84" fill="#e7382a"/>
<rect x="660.55" y="144" width="9.38" height="10.84" fill="#ee7d62"/>
<rect x="669.34" y="144" width="9.38" height="10.84" fill="#ef866b"/>
<rect x="678.12" y="144" width="9.38" height="10.84" fill="#a89ed2"/>
<rect x="686.91" y="144" width="9.38" height="10.84" fill="#d0c7e5"/>
<rect x="695.69" y="144" width="9.38" height="10.84" fill="#585eb8"/>
<rect x="704.48" y="144" width="9.38" height="10.84" fill="#585eb8"/>
<rect x="713.26" y="144" width="9.38" height="10.84" fill="#f2977d"/>
<rect x="722.05" y="144" width="9.38" height="10.84" fill="#f3a086"/>
<rect x="730.83" y="144" width="9.38" height="10.84" fill="#f7c4b2"/>
<rect x="739.62" y="144" width="8.79" height="10.84" fill="#f3a086"/>
<rect x="572.7" y="154.24" width="9.38" height="10.84" fill="#f08e74"/>
<rect x="581.49" y="154.24" width="9.38" height="10.84" fill="#ef866b"/>
<rect x="590.27" y="154.24" width="9.38" height="10.84" fill="#f08e74"/>
<rect x="599.06" y="154.24" width="9.38" height="10.84" fill="#f4a991"/>
<rect x="607.84" y="154.24" width="9.38" height="10.84" fill="#f2977d"/>
<rect x="616.62" y="154.24" width="9.38" height="10.84" fill="#f3a086"/>
<rect x="625.41" y="154.24" width="9.38" height="10.84" fill="#f3a086"/>
<rect x="634.2" y="154.24" width="9.38" height="10.84" fill="#f3a086"/>
<rect x="642.98" y="154.24" width="9.38" height="10.84" fill="#e7382a"/>
<rect x="651.77" y="154.24" width="9.38" height="10.84" fill="#ee7d62"/>
<rect x="660.55" y="154.24" width="9.38" height="10.84" fill="#ee7d62"/>
<rect x="669.34" y="154.24" width="9.38" height="10.84" fill="#ee7d62"/>
<rect x="678.12" y="154.24" width="9.38" height="10.84" fill="#a89ed2"/>
<rect x="686.91" y="154.24" width="9.38" height="10.84" fill="#d0c7e5"/>
<rect x="695.69" y="154.24" width="9.38" height="10.84" fill="#585eb8"/>
<rect x="704.48" y="154.24" width="9.38" height="10.84" fill="#585eb8"/>
<rect x="713.26" y="154.24" width="9.38" height="10.84" fill="#f08e74"/>
<rect x="722.05" y="154.24" width="9.38" height="10.84" fill="#f2977d"/>
<rect x="730.83" y="154.24" width="9.38" height="10.84" fill="#f6bba7"/>
<rect x="739.62" y="154.24" width="8.79" height="10.84" fill="#f2977d"/>
<rect x="572.7" y="164.48" width="9.38" height="10.84" fill="#f5b29c"/>
<rect x="581.49" y="164.48" width="9.38" height="10.84" fill="#f3a086"/>
<rect x="590.27" y="164.48" width="9.38" height="10.84" fill="#f4a991"/>
<rect x="599.06" y="164.48" width="9.38" height="10.84" fill="#f7c4b2"/>
<rect x="607.84" y="164.48" width="9.38" height="10.84" fill="#ee7d62"/>
<rect x="616.62" y="164.48" width="9.38" height="10.84" fill="#ee7d62"/>
<rect x="625.41" y="164.48" width="9.38" height="10.84" fill="#ee7d62"/>
<rect x="634.2" y="164.48" width="9.38" height="10.84" fill="#e7382a"/>
<rect x="642.98" y="164.48" width="9.38" height="10.84" fill="#f4a991"/>
<rect x="651.77" y="164.48" width="9.38" height="10.84" fill="#f4a991"/>
<rect x="660.55" y="164.48" width="9.38" height="10.84" fill="#f4a991"/>
<rect x="669.34" y="164.48" width="9.38" height="10.84" fill="#f3a086"/>
<rect x="678.12" y="164.48" width="9.38" height="10.84" fill="#c8bee2"/>
<rect x="686.91" y="164.48" width="9.38" height="10.84" fill="#dfd8ec"/>
<rect x="695.69" y="164.48" width="9.38" height="10.84" fill="#6b6abd"/>
<rect x="704.48" y="164.48" width="9.38" height="10.84" fill="#6b6abd"/>
<rect x="713.26" y="164.48" width="9.38" height="10.84" fill="#f2977d"/>
<rect x="722.05" y="164.48" width="9.38" height="10.84" fill="#f2977d"/>
<rect x="730.83" y="164.48" width="9.38" height="10.84" fill="#f5b29c"/>
<rect x="739.62" y="164.48" width="8.79" height="10.84" fill="#f2977d"/>
<rect x="572.7" y="174.72" width="9.38" height="10.84" fill="#f5b29c"/>
<rect x="581.49" y="174.72" width="9.38" height="10.84" fill="#f3a086"/>
<rect x="590.27" y="174.72" width="9.38" height="10.84" fill="#f4a991"/>
<rect x="599.06" y="174.72" width="9.38" height="10.84" fill="#f7c4b2"/>
<rect x="607.84" y="174.72" width="9.38" height="10.84" fill="#ee7d62"/>
<rect x="616.62" y="174.72" width="9.38" height="10.84" fill="#ee7d62"/>
<rect x="625.41" y="174.72" width="9.38" height="10.84" fill="#e7382a"/>
<rect x="634.2" y="174.72" width="9.38" height="10.84" fill="#ee7d62"/>
<rect x="642.98" y="174.72" width="9.38" height="10.84" fill="#f4a991"/>
<rect x="651.77" y="174.72" width="9.38" height="10.84" fill="#f4a991"/>
<rect x="660.55" y="174.72" width="9.38" height="10.84" fill="#f4a991"/>
<rect x="669.34" y="174.72" width="9.38" height="10.84" fill="#f3a086"/>
<rect x="678.12" y="174.72" width="9.38" height="10.84" fill="#c8bee2"/>
<rect x="686.91" y="174.72" width="9.38" height="10.84" fill="#dfd8ec"/>
<rect x="695.69" y="174.72" width="9.38" height="10.84" fill="#6b6abd"/>
<rect x="704.48" y="174.72" width="9.38" height="10.84" fill="#6b6abd"/>
<rect x="713.26" y="174.72" width="9.38" height="10.84" fill="#f2977d"/>
<rect x="722.05" y="174.72" width="9.38" height="10.84" fill="#f2977d"/>
<rect x="730.83" y="174.72" width="9.38" height="10.84" fill="#f5b29c"/>
<rect x="739.62" y="174.72" width="8.79" height="10.84" fill="#f2977d"/>
<rect x="572.7" y="184.96" width="9.38" height="10.84" fill="#f5b29c"/>
<rect x="581.49" y="184.96" width="9.38" height="10.84" fill="#f3a086"/>
<rect x="590.27" y="184.96" width="9.38" height="10.84" fill="#f4a991"/>
<rect x="599.06" y="184.96" width="9.38" height="10.84" fill="#f7c4b2"/>
<rect x="607.84" y="184.96" width="9.38" height="10.84" fill="#ee7d62"/>
<rect x="616.62" y="184.96" width="9.38" height="10.84" fill="#e7382a"/>
<rect x="625.41" y="184.96" width="9.38" height="10.84" fill="#ee7d62"/>
<rect x="634.2" y="184.96" width="9.38" height="10.84" fill="#ee7d62"/>
<rect x="642.98" y="184.96" width="9.38" height="10.84" fill="#f4a991"/>
<rect x="651.77" y="184.96" width="9.38" height="10.84" fill="#f4a991"/>
<rect x="660.55" y="184.96" width="9.38" height="10.84" fill="#f4a991"/>
<rect x="669.34" y="184.96" width="9.38" height="10.84" fill="#f3a086"/>
<rect x="678.12" y="184.96" width="9.38" height="10.84" fill="#c8bee2"/>
<rect x="686.91" y="184.96" width="9.38" height="10.84" fill="#e7e1ef"/>
<rect x="695.69" y="184.96" width="9.38" height="10.84" fill="#6b6abd"/>
<rect x="704.48" y="184.96" width="9.38" height="10.84" fill="#6b6abd"/>
<rect x="713.26" y="184.96" width="9.38" height="10.84" fill="#f2977d"/>
<rect x="722.05" y="184.96" width="9.38" height="10.84" fill="#f2977d"/>
<rect x="730.83" y="184.96" width="9.38" height="10.84" fill="#f5b29c"/>
<rect x="739.62" y="184.96" width="8.79" height="10.84" fill="#f2977d"/>
<rect x="572.7" y="195.2" width="9.38" height="10.84" fill="#f3a086"/>
<rect x="581.49" y="195.2" width="9.38" height="10.84" fill="#f2977d"/>
<rect x="590.27" y="195.2" width="9.38" height="10.84" fill="#f3a086"/>
<rect x="599.06" y="195.2" width="9.38" height="10.84" fill="#f5b29c"/>
<rect x="607.84" y="195.2" width="9.38" height="10.84" fill="#e7382a"/>
<rect x="616.62" y="195.2" width="9.38" height="10.84" fill="#ee7d62"/>
<rect x="625.41" y="195.2" width="9.38" height="10.84" fill="#ee7d62"/>
<rect x="634.2" y="195.2" width="9.38" height="10.84" fill="#ee7d62"/>
<rect x="642.98" y="195.2" width="9.38" height="10.84" fill="#f3a086"/>
<rect x="651.77" y="195.2" width="9.38" height="10.84" fill="#f3a086"/>
<rect x="660.55" y="195.2" width="9.38" height="10.84" fill="#f3a086"/>
<rect x="669.34" y="195.2" width="9.38" height="10.84" fill="#f2977d"/>
<rect x="678.12" y="195.2" width="9.38" height="10.84" fill="#a89ed2"/>
<rect x="686.91" y="195.2" width="9.38" height="10.84" fill="#d0c7e5"/>
<rect x="695.69" y="195.2" width="9.38" height="10.84" fill="#585eb8"/>
<rect x="704.48" y="195.2" width="9.38" height="10.84" fill="#585eb8"/>
<rect x="713.26" y="195.2" width="9.38" height="10.84" fill="#f08e74"/>
<rect x="722.05" y="195.2" width="9.38" height="10.84" fill="#f08e74"/>
<rect x="730.83" y="195.2" width="9.38" height="10.84" fill="#f4a991"/>
<rect x="739.62" y="195.2" width="8.79" height="10.84" fill="#f08e74"/>
<rect x="572.7" y="205.44" width="9.38" height="10.84" fill="#f3a086"/>
<rect x="581.49" y="205.44" width="9.38" height="10.84" fill="#f3a086"/>
<rect x="590.27" y="205.44" width="9.38" height="10.84" fill="#f2977d"/>
<rect x="599.06" y="205.44" width="9.38" height="10.84" fill="#e7382a"/>
<rect x="607.84" y="205.44" width="9.38" height="10.84" fill="#f5b29c"/>
<rect x="616.62" y="205.44" width="9.38" height="10.84" fill="#f7c4b2"/>
<rect x="625.41" y="205.44" width="9.38" height="10.84" fill="#f7c4b2"/>
<rect x="634.2" y="205.44" width="9.38" height="10.84" fill="#f7c4b2"/>
<rect x="642.98" y="205.44" width="9.38" height="10.84" fill="#f4a991"/>
<rect x="651.77" y="205.44" width="9.38" height="10.84" fill="#f4a991"/>
<rect x="660.55" y="205.44" width="9.38" height="10.84" fill="#f4a991"/>
<rect x="669.34" y="205.44" width="9.38" height="10.84" fill="#f4a991"/>
<rect x="678.12" y="205.44" width="9.38" height="10.84" fill="#877dc3"/>
<rect x="686.91" y="205.44" width="9.38" height="10.84" fill="#bdb3dd"/>
<rect x="695.69" y="205.44" width="9.38" height="10.84" fill="#4551b4"/>
<rect x="704.48" y="205.44" width="9.38" height="10.84" fill="#4551b4"/>
<rect x="713.26" y="205.44" width="9.38" height="10.84" fill="#f5b29c"/>
<rect x="722.05" y="205.44" width="9.38" height="10.84" fill="#f7c4b2"/>
<rect x="730.83" y="205.44" width="9.38" height="10.84" fill="#f7d3c9"/>
<rect x="739.62" y="205.44" width="8.79" height="10.84" fill="#f5b29c"/>
<rect x="572.7" y="215.68" width="9.38" height="10.84" fill="#f08e74"/>
<rect x="581.49" y="215.68" width="9.38" height="10.84" fill="#f08e74"/>
<rect x="590.27" y="215.68" width="9.38" height="10.84" fill="#e7382a"/>
<rect x="599.06" y="215.68" width="9.38" height="10.84" fill="#f3a086"/>
<rect x="607.84" y="215.68" width="9.38" height="10.84" fill="#f4a991"/>
<rect x="616.62" y="215.68" width="9.38" height="10.84" fill="#f5b29c"/>
<rect x="625.41" y="215.68" width="9.38" height="10.84" fill="#f5b29c"/>
<rect x="634.2" y="215.68" width="9.38" height="10.84" fill="#f5b29c"/>
<rect x="642.98" y="215.68" width="9.38" height="10.84" fill="#f2977d"/>
<rect x="651.77" y="215.68" width="9.38" height="10.84" fill="#f2977d"/>
<rect x="660.55" y="215.68" width="9.38" height="10.84" fill="#f2977d"/>
<rect x="669.34" y="215.68" width="9.38" height="10.84" fill="#f2977d"/>
<rect x="678.12" y="215.68" width="9.38" height="10.84" fill="#9d93cd"/>
<rect x="686.91" y="215.68" width="9.38" height="10.84" fill="#c8bee2"/>
<rect x="695.69" y="215.68" width="9.38" height="10.84" fill="#585eb8"/>
<rect x="704.48" y="215.68" width="9.38" height="10.84" fill="#585eb8"/>
<rect x="713.26" y="215.68" width="9.38" height="10.84" fill="#f3a086"/>
<rect x="722.05" y="215.68" width="9.38" height="10.84" fill="#f4a991"/>
<rect x="730.83" y="215.68" width="9.38" height="10.84" fill="#f7ccbd"/>
<rect x="739.62" y="215.68" width="8.79" height="10.84" fill="#f4a991"/>
<rect x="572.7" y="225.92" width="9.38" height="10.84" fill="#f08e74"/>
<rect x="581.49" y="225.92" width="9.38" height="10.84" fill="#e7382a"/>
<rect x="590.27" y="225.92" width="9.38" height="10.84" fill="#f08e74"/>
<rect x="599.06" y="225.92" width="9.38" height="10.84" fill="#f4a991"/>
<rect x="607.84" y="225.92" width="9.38" height="10.84" fill="#f4a991"/>
<rect x="616.62" y="225.92" width="9.38" height="10.84" fill="#f5b29c"/>
<rect x="625.41" y="225.92" width="9.38" height="10.84" fill="#f5b29c"/>
<rect x="634.2" y="225.92" width="9.38" height="10.84" fill="#f5b29c"/>
<rect x="642.98" y="225.92" width="9.38" height="10.84" fill="#f2977d"/>
<rect x="651.77" y="225.92" width="9.38" height="10.84" fill="#f2977d"/>
<rect x="660.55" y="225.92" width="9.38" height="10.84" fill="#f2977d"/>
<rect x="669.34" y="225.92" width="9.38" height="10.84" fill="#f2977d"/>
<rect x="678.12" y="225.92" width="9.38" height="10.84" fill="#a89ed2"/>
<rect x="686.91" y="225.92" width="9.38" height="10.84" fill="#d7cfe9"/>
<rect x="695.69" y="225.92" width="9.38" height="10.84" fill="#585eb8"/>
<rect x="704.48" y="225.92" width="9.38" height="10.84" fill="#585eb8"/>
<rect x="713.26" y="225.92" width="9.38" height="10.84" fill="#f3a086"/>
<rect x="722.05" y="225.92" width="9.38" height="10.84" fill="#f4a991"/>
<rect x="730.83" y="225.92" width="9.38" height="10.84" fill="#f7ccbd"/>
<rect x="739.62" y="225.92" width="8.79" height="10.84" fill="#f4a991"/>
<rect x="572.7" y="236.16" width="9.38" height="10.24" fill="#e7382a"/>
<rect x="581.49" y="236.16" width="9.38" height="10.24" fill="#f2977d"/>
<rect x="590.27" y="236.16" width="9.38" height="10.24" fill="#f2977d"/>
<rect x="599.06" y="236.16" width="9.38" height="10.24" fill="#f4a991"/>
<rect x="607.84" y="236.16" width="9.38" height="10.24" fill="#f5b29c"/>
<rect x="616.62" y="236.16" width="9.38" height="10.24" fill="#f6bba7"/>
<rect x="625.41" y="236.16" width="9.38" height="10.24" fill="#f6bba7"/>
<rect x="634.2" y="236.16" width="9.38" height="10.24" fill="#f6bba7"/>
<rect x="642.98" y="236.16" width="9.38" height="10.24" fill="#f4a991"/>
<rect x="651.77" y="236.16" width="9.38" height="10.24" fill="#f4a991"/>
<rect x="660.55" y="236.16" width="9.38" height="10.24" fill="#f4a991"/>
<rect x="669.34" y="236.16" width="9.38" height="10.24" fill="#f4a991"/>
<rect x="678.12" y="236.16" width="9.38" height="10.24" fill="#9288c8"/>
<rect x="686.91" y="236.16" width="9.38" height="10.24" fill="#c8bee2"/>
<rect x="695.69" y="236.16" width="9.38" height="10.24" fill="#4f58b6"/>
<rect x="704.48" y="236.16" width="9.38" height="10.24" fill="#4f58b6"/>
<rect x="713.26" y="236.16" width="9.38" height="10.24" fill="#f4a991"/>
<rect x="722.05" y="236.16" width="9.38" height="10.24" fill="#f6bba7"/>
<rect x="730.83" y="236.16" width="9.38" height="10.24" fill="#f7d3c9"/>
<rect x="739.62" y="236.16" width="8.79" height="10.24" fill="#f5b29c"/>
<rect x="551.1" y="41.6" width="7.6" height="40.96" fill="#f5df5a"/>
<text x="556.8" y="62.08" font-size="5.2" fill="white" text-anchor="middle" transform="rotate(-90 556.8 62.08)">TWIST1</text>
<rect x="560.9" y="42.2" width="7.2" height="9.04" fill="white" stroke="#f5df5a" stroke-width="0.7"/>
<text x="562.6" y="46.72" font-size="5" fill="#333" text-anchor="middle" transform="rotate(90 562.6 46.72)" stroke="#333" stroke-width="0.18">1</text>
<rect x="560.9" y="52.44" width="7.2" height="9.04" fill="white" stroke="#f5df5a" stroke-width="0.7"/>
<text x="562.6" y="56.96" font-size="5" fill="#333" text-anchor="middle" transform="rotate(90 562.6 56.96)" stroke="#333" stroke-width="0.18">2</text>
<rect x="560.9" y="62.68" width="7.2" height="9.04" fill="white" stroke="#f5df5a" stroke-width="0.7"/>
<text x="562.6" y="67.2" font-size="5" fill="#333" text-anchor="middle" transform="rotate(90 562.6 67.2)" stroke="#333" stroke-width="0.18">3</text>
<rect x="560.9" y="72.92" width="7.2" height="9.04" fill="white" stroke="#f5df5a" stroke-width="0.7"/>
<text x="562.6" y="77.44" font-size="5" fill="#333" text-anchor="middle" transform="rotate(90 562.6 77.44)" stroke="#333" stroke-width="0.18">4</text>
<rect x="551.1" y="82.56" width="7.6" height="40.96" fill="#b8a8d0"/>
<text x="556.8" y="103.04" font-size="5.2" fill="white" text-anchor="middle" transform="rotate(-90 556.8 103.04)">ΔC</text>
<rect x="560.9" y="83.16" width="7.2" height="9.04" fill="white" stroke="#b8a8d0" stroke-width="0.7"/>
<text x="562.6" y="87.68" font-size="5" fill="#333" text-anchor="middle" transform="rotate(90 562.6 87.68)" stroke="#333" stroke-width="0.18">1</text>
<rect x="560.9" y="93.4" width="7.2" height="9.04" fill="white" stroke="#b8a8d0" stroke-width="0.7"/>
<text x="562.6" y="97.92" font-size="5" fill="#333" text-anchor="middle" transform="rotate(90 562.6 97.92)" stroke="#333" stroke-width="0.18">2</text>
<rect x="560.9" y="103.64" width="7.2" height="9.04" fill="white" stroke="#b8a8d0" stroke-width="0.7"/>
<text x="562.6" y="108.16" font-size="5" fill="#333" text-anchor="middle" transform="rotate(90 562.6 108.16)" stroke="#333" stroke-width="0.18">3</text>
<rect x="560.9" y="113.88" width="7.2" height="9.04" fill="white" stroke="#b8a8d0" stroke-width="0.7"/>
<text x="562.6" y="118.4" font-size="5" fill="#333" text-anchor="middle" transform="rotate(90 562.6 118.4)" stroke="#333" stroke-width="0.18">4</text>
<rect x="551.1" y="123.52" width="7.6" height="40.96" fill="#e7698a"/>
<text x="556.8" y="144" font-size="5.2" fill="white" text-anchor="middle" transform="rotate(-90 556.8 144)">ΔbHLH</text>
<rect x="560.9" y="124.12" width="7.2" height="9.04" fill="white" stroke="#e7698a" stroke-width="0.7"/>
<text x="562.6" y="128.64" font-size="5" fill="#333" text-anchor="middle" transform="rotate(90 562.6 128.64)" stroke="#333" stroke-width="0.18">1</text>
<rect x="560.9" y="134.36" width="7.2" height="9.04" fill="white" stroke="#e7698a" stroke-width="0.7"/>
<text x="562.6" y="138.88" font-size="5" fill="#333" text-anchor="middle" transform="rotate(90 562.6 138.88)" stroke="#333" stroke-width="0.18">2</text>
<rect x="560.9" y="144.6" width="7.2" height="9.04" fill="white" stroke="#e7698a" stroke-width="0.7"/>
<text x="562.6" y="149.12" font-size="5" fill="#333" text-anchor="middle" transform="rotate(90 562.6 149.12)" stroke="#333" stroke-width="0.18">3</text>
<rect x="560.9" y="154.84" width="7.2" height="9.04" fill="white" stroke="#e7698a" stroke-width="0.7"/>
<text x="562.6" y="159.36" font-size="5" fill="#333" text-anchor="middle" transform="rotate(90 562.6 159.36)" stroke="#333" stroke-width="0.18">4</text>
<rect x="551.1" y="164.48" width="7.6" height="40.96" fill="#9ccb4a"/>
<text x="556.8" y="184.96" font-size="5.2" fill="white" text-anchor="middle" transform="rotate(-90 556.8 184.96)">ΔN</text>
<rect x="560.9" y="165.08" width="7.2" height="9.04" fill="white" stroke="#9ccb4a" stroke-width="0.7"/>
<text x="562.6" y="169.6" font-size="5" fill="#333" text-anchor="middle" transform="rotate(90 562.6 169.6)" stroke="#333" stroke-width="0.18">1</text>
<rect x="560.9" y="175.32" width="7.2" height="9.04" fill="white" stroke="#9ccb4a" stroke-width="0.7"/>
<text x="562.6" y="179.84" font-size="5" fill="#333" text-anchor="middle" transform="rotate(90 562.6 179.84)" stroke="#333" stroke-width="0.18">2</text>
<rect x="560.9" y="185.56" width="7.2" height="9.04" fill="white" stroke="#9ccb4a" stroke-width="0.7"/>
<text x="562.6" y="190.08" font-size="5" fill="#333" text-anchor="middle" transform="rotate(90 562.6 190.08)" stroke="#333" stroke-width="0.18">3</text>
<rect x="560.9" y="195.8" width="7.2" height="9.04" fill="white" stroke="#9ccb4a" stroke-width="0.7"/>
<text x="562.6" y="200.32" font-size="5" fill="#333" text-anchor="middle" transform="rotate(90 562.6 200.32)" stroke="#333" stroke-width="0.18">4</text>
<rect x="551.1" y="205.44" width="7.6" height="40.96" fill="#6e96cf"/>
<text x="556.8" y="225.92" font-size="5.2" fill="white" text-anchor="middle" transform="rotate(-90 556.8 225.92)">pLJM1</text>
<rect x="560.9" y="206.04" width="7.2" height="9.04" fill="white" stroke="#6e96cf" stroke-width="0.7"/>
<text x="562.6" y="210.56" font-size="5" fill="#333" text-anchor="middle" transform="rotate(90 562.6 210.56)" stroke="#333" stroke-width="0.18">1</text>
<rect x="560.9" y="216.28" width="7.2" height="9.04" fill="white" stroke="#6e96cf" stroke-width="0.7"/>
<text x="562.6" y="220.8" font-size="5" fill="#333" text-anchor="middle" transform="rotate(90 562.6 220.8)" stroke="#333" stroke-width="0.18">2</text>
<rect x="560.9" y="226.52" width="7.2" height="9.04" fill="white" stroke="#6e96cf" stroke-width="0.7"/>
<text x="562.6" y="231.04" font-size="5" fill="#333" text-anchor="middle" transform="rotate(90 562.6 231.04)" stroke="#333" stroke-width="0.18">3</text>
<rect x="560.9" y="236.76" width="7.2" height="9.04" fill="white" stroke="#6e96cf" stroke-width="0.7"/>
<text x="562.6" y="241.28" font-size="5" fill="#333" text-anchor="middle" transform="rotate(90 562.6 241.28)" stroke="#333" stroke-width="0.18">4</text>
<rect x="572.7" y="259.1" width="35.14" height="7.3" fill="#6e96cf"/>
<text x="590.27" y="264.7" font-size="5.2" fill="white" text-anchor="middle">pLJM1</text>
<rect x="573.3" y="249.5" width="7.58" height="7.7" fill="white" stroke="#6e96cf" stroke-width="0.7"/>
<text x="577.09" y="255.3" font-size="5" fill="#333" text-anchor="middle" stroke="#333" stroke-width="0.18">1</text>
<rect x="582.09" y="249.5" width="7.58" height="7.7" fill="white" stroke="#6e96cf" stroke-width="0.7"/>
<text x="585.88" y="255.3" font-size="5" fill="#333" text-anchor="middle" stroke="#333" stroke-width="0.18">2</text>
<rect x="590.87" y="249.5" width="7.58" height="7.7" fill="white" stroke="#6e96cf" stroke-width="0.7"/>
<text x="594.66" y="255.3" font-size="5" fill="#333" text-anchor="middle" stroke="#333" stroke-width="0.18">3</text>
<rect x="599.66" y="249.5" width="7.58" height="7.7" fill="white" stroke="#6e96cf" stroke-width="0.7"/>
<text x="603.45" y="255.3" font-size="5" fill="#333" text-anchor="middle" stroke="#333" stroke-width="0.18">4</text>
<rect x="607.84" y="259.1" width="35.14" height="7.3" fill="#9ccb4a"/>
<text x="625.41" y="264.7" font-size="5.2" fill="white" text-anchor="middle">ΔN</text>
<rect x="608.44" y="249.5" width="7.58" height="7.7" fill="white" stroke="#9ccb4a" stroke-width="0.7"/>
<text x="612.23" y="255.3" font-size="5" fill="#333" text-anchor="middle" stroke="#333" stroke-width="0.18">1</text>
<rect x="617.23" y="249.5" width="7.58" height="7.7" fill="white" stroke="#9ccb4a" stroke-width="0.7"/>
<text x="621.02" y="255.3" font-size="5" fill="#333" text-anchor="middle" stroke="#333" stroke-width="0.18">2</text>
<rect x="626.01" y="249.5" width="7.58" height="7.7" fill="white" stroke="#9ccb4a" stroke-width="0.7"/>
<text x="629.8" y="255.3" font-size="5" fill="#333" text-anchor="middle" stroke="#333" stroke-width="0.18">3</text>
<rect x="634.8" y="249.5" width="7.58" height="7.7" fill="white" stroke="#9ccb4a" stroke-width="0.7"/>
<text x="638.59" y="255.3" font-size="5" fill="#333" text-anchor="middle" stroke="#333" stroke-width="0.18">4</text>
<rect x="642.98" y="259.1" width="35.14" height="7.3" fill="#e7698a"/>
<text x="660.55" y="264.7" font-size="5.2" fill="white" text-anchor="middle">ΔbHLH</text>
<rect x="643.58" y="249.5" width="7.58" height="7.7" fill="white" stroke="#e7698a" stroke-width="0.7"/>
<text x="647.37" y="255.3" font-size="5" fill="#333" text-anchor="middle" stroke="#333" stroke-width="0.18">1</text>
<rect x="652.37" y="249.5" width="7.58" height="7.7" fill="white" stroke="#e7698a" stroke-width="0.7"/>
<text x="656.16" y="255.3" font-size="5" fill="#333" text-anchor="middle" stroke="#333" stroke-width="0.18">2</text>
<rect x="661.15" y="249.5" width="7.58" height="7.7" fill="white" stroke="#e7698a" stroke-width="0.7"/>
<text x="664.94" y="255.3" font-size="5" fill="#333" text-anchor="middle" stroke="#333" stroke-width="0.18">3</text>
<rect x="669.94" y="249.5" width="7.58" height="7.7" fill="white" stroke="#e7698a" stroke-width="0.7"/>
<text x="673.73" y="255.3" font-size="5" fill="#333" text-anchor="middle" stroke="#333" stroke-width="0.18">4</text>
<rect x="678.12" y="259.1" width="35.14" height="7.3" fill="#b8a8d0"/>
<text x="695.69" y="264.7" font-size="5.2" fill="white" text-anchor="middle">ΔC</text>
<rect x="678.72" y="249.5" width="7.58" height="7.7" fill="white" stroke="#b8a8d0" stroke-width="0.7"/>
<text x="682.51" y="255.3" font-size="5" fill="#333" text-anchor="middle" stroke="#333" stroke-width="0.18">1</text>
<rect x="687.5" y="249.5" width="7.58" height="7.7" fill="white" stroke="#b8a8d0" stroke-width="0.7"/>
<text x="691.3" y="255.3" font-size="5" fill="#333" text-anchor="middle" stroke="#333" stroke-width="0.18">2</text>
<rect x="696.29" y="249.5" width="7.58" height="7.7" fill="white" stroke="#b8a8d0" stroke-width="0.7"/>
<text x="700.08" y="255.3" font-size="5" fill="#333" text-anchor="middle" stroke="#333" stroke-width="0.18">3</text>
<rect x="705.08" y="249.5" width="7.58" height="7.7" fill="white" stroke="#b8a8d0" stroke-width="0.7"/>
<text x="708.87" y="255.3" font-size="5" fill="#333" text-anchor="middle" stroke="#333" stroke-width="0.18">4</text>
<rect x="713.26" y="259.1" width="35.14" height="7.3" fill="#f5df5a"/>
<text x="730.83" y="264.7" font-size="5.2" fill="white" text-anchor="middle">TWIST1</text>
<rect x="713.86" y="249.5" width="7.58" height="7.7" fill="white" stroke="#f5df5a" stroke-width="0.7"/>
<text x="717.65" y="255.3" font-size="5" fill="#333" text-anchor="middle" stroke="#333" stroke-width="0.18">1</text>
<rect x="722.64" y="249.5" width="7.58" height="7.7" fill="white" stroke="#f5df5a" stroke-width="0.7"/>
<text x="726.44" y="255.3" font-size="5" fill="#333" text-anchor="middle" stroke="#333" stroke-width="0.18">2</text>
<rect x="731.43" y="249.5" width="7.58" height="7.7" fill="white" stroke="#f5df5a" stroke-width="0.7"/>
<text x="735.22" y="255.3" font-size="5" fill="#333" text-anchor="middle" stroke="#333" stroke-width="0.18">3</text>
<rect x="740.22" y="249.5" width="7.58" height="7.7" fill="white" stroke="#f5df5a" stroke-width="0.7"/>
<text x="744.01" y="255.3" font-size="5" fill="#333" text-anchor="middle" stroke="#333" stroke-width="0.18">4</text>
<text x="757.3" y="123" font-size="4.6" fill="#222" stroke="#222" stroke-width="0.16">value</text>
<defs><linearGradient id="gc" x1="0" y1="0" x2="0" y2="1"><stop offset="0" stop-color="#e8392b"/><stop offset="0.18" stop-color="#f07f66"/><stop offset="0.36" stop-color="#fbe3da"/><stop offset="0.5" stop-color="#f7f3f7"/><stop offset="0.7" stop-color="#b9aedb"/><stop offset="1" stop-color="#3e4cb3"/></linearGradient></defs>
<rect x="757.3" y="126.1" width="8.6" height="44.2" fill="url(#gc)"/>
<text x="768.6" y="128" font-size="4.4" fill="#333" stroke="#333" stroke-width="0.15">1.00</text>
<text x="768.6" y="141.9" font-size="4.4" fill="#333" stroke="#333" stroke-width="0.15">0.99</text>
<text x="768.6" y="156.5" font-size="4.4" fill="#333" stroke="#333" stroke-width="0.15">0.98</text>
<text x="768.6" y="170.4" font-size="4.4" fill="#333" stroke="#333" stroke-width="0.15">0.97</text>
<rect x="822.4" y="67.4" width="162.4" height="185.6" fill="#999999"/>
<rect x="822.85" y="67.85" width="9.25" height="10.7" fill="#e81923"/>
<rect x="833" y="67.85" width="9.25" height="10.7" fill="#a2a9d6"/>
<rect x="843.15" y="67.85" width="9.25" height="10.7" fill="#b7bddf"/>
<rect x="853.3" y="67.85" width="9.25" height="10.7" fill="#acb3da"/>
<rect x="863.45" y="67.85" width="9.25" height="10.7" fill="#c2c6e4"/>
<rect x="873.6" y="67.85" width="9.25" height="10.7" fill="#b7bddf"/>
<rect x="883.75" y="67.85" width="9.25" height="10.7" fill="#dee0f0"/>
<rect x="893.9" y="67.85" width="9.25" height="10.7" fill="#fde9ea"/>
<rect x="904.05" y="67.85" width="9.25" height="10.7" fill="#4c62b1"/>
<rect x="914.2" y="67.85" width="9.25" height="10.7" fill="#97a0d2"/>
<rect x="924.35" y="67.85" width="9.25" height="10.7" fill="#576ab6"/>
<rect x="934.5" y="67.85" width="9.25" height="10.7" fill="#576ab6"/>
<rect x="944.65" y="67.85" width="9.25" height="10.7" fill="#576ab6"/>
<rect x="954.8" y="67.85" width="9.25" height="10.7" fill="#4c62b1"/>
<rect x="964.95" y="67.85" width="9.25" height="10.7" fill="#6c7cbf"/>
<rect x="975.1" y="67.85" width="9.25" height="10.7" fill="#6c7cbf"/>
<rect x="822.85" y="79.45" width="9.25" height="10.7" fill="#a2a9d6"/>
<rect x="833" y="79.45" width="9.25" height="10.7" fill="#e81923"/>
<rect x="843.15" y="79.45" width="9.25" height="10.7" fill="#f8bec1"/>
<rect x="853.3" y="79.45" width="9.25" height="10.7" fill="#f7b3b6"/>
<rect x="863.45" y="79.45" width="9.25" height="10.7" fill="#f6a8ac"/>
<rect x="873.6" y="79.45" width="9.25" height="10.7" fill="#d5d8ec"/>
<rect x="883.75" y="79.45" width="9.25" height="10.7" fill="#ffffff"/>
<rect x="893.9" y="79.45" width="9.25" height="10.7" fill="#f7f7fb"/>
<rect x="904.05" y="79.45" width="9.25" height="10.7" fill="#4c62b1"/>
<rect x="914.2" y="79.45" width="9.25" height="10.7" fill="#d5d8ec"/>
<rect x="924.35" y="79.45" width="9.25" height="10.7" fill="#b7bddf"/>
<rect x="934.5" y="79.45" width="9.25" height="10.7" fill="#c2c6e4"/>
<rect x="944.65" y="79.45" width="9.25" height="10.7" fill="#b7bddf"/>
<rect x="954.8" y="79.45" width="9.25" height="10.7" fill="#acb3da"/>
<rect x="964.95" y="79.45" width="9.25" height="10.7" fill="#dee0f0"/>
<rect x="975.1" y="79.45" width="9.25" height="10.7" fill="#dee0f0"/>
<rect x="822.85" y="91.05" width="9.25" height="10.7" fill="#b7bddf"/>
<rect x="833" y="91.05" width="9.25" height="10.7" fill="#f8bec1"/>
<rect x="843.15" y="91.05" width="9.25" height="10.7" fill="#e81923"/>
<rect x="853.3" y="91.05" width="9.25" height="10.7" fill="#f6a8ac"/>
<rect x="863.45" y="91.05" width="9.25" height="10.7" fill="#f59ca1"/>
<rect x="873.6" y="91.05" width="9.25" height="10.7" fill="#dee0f0"/>
<rect x="883.75" y="91.05" width="9.25" height="10.7" fill="#fcdee0"/>
<rect x="893.9" y="91.05" width="9.25" height="10.7" fill="#fef4f5"/>
<rect x="904.05" y="91.05" width="9.25" height="10.7" fill="#4c62b1"/>
<rect x="914.2" y="91.05" width="9.25" height="10.7" fill="#eeeff7"/>
<rect x="924.35" y="91.05" width="9.25" height="10.7" fill="#c2c6e4"/>
<rect x="934.5" y="91.05" width="9.25" height="10.7" fill="#d5d8ec"/>
<rect x="944.65" y="91.05" width="9.25" height="10.7" fill="#cdd0e8"/>
<rect x="954.8" y="91.05" width="9.25" height="10.7" fill="#c2c6e4"/>
<rect x="964.95" y="91.05" width="9.25" height="10.7" fill="#ffffff"/>
<rect x="975.1" y="91.05" width="9.25" height="10.7" fill="#eeeff7"/>
<rect x="822.85" y="102.65" width="9.25" height="10.7" fill="#acb3da"/>
<rect x="833" y="102.65" width="9.25" height="10.7" fill="#f7b3b6"/>
<rect x="843.15" y="102.65" width="9.25" height="10.7" fill="#f6a8ac"/>
<rect x="853.3" y="102.65" width="9.25" height="10.7" fill="#e81923"/>
<rect x="863.45" y="102.65" width="9.25" height="10.7" fill="#f59ca1"/>
<rect x="873.6" y="102.65" width="9.25" height="10.7" fill="#eeeff7"/>
<rect x="883.75" y="102.65" width="9.25" height="10.7" fill="#fcdee0"/>
<rect x="893.9" y="102.65" width="9.25" height="10.7" fill="#fef4f5"/>
<rect x="904.05" y="102.65" width="9.25" height="10.7" fill="#4c62b1"/>
<rect x="914.2" y="102.65" width="9.25" height="10.7" fill="#ffffff"/>
<rect x="924.35" y="102.65" width="9.25" height="10.7" fill="#d5d8ec"/>
<rect x="934.5" y="102.65" width="9.25" height="10.7" fill="#dee0f0"/>
<rect x="944.65" y="102.65" width="9.25" height="10.7" fill="#d5d8ec"/>
<rect x="954.8" y="102.65" width="9.25" height="10.7" fill="#cdd0e8"/>
<rect x="964.95" y="102.65" width="9.25" height="10.7" fill="#ffffff"/>
<rect x="975.1" y="102.65" width="9.25" height="10.7" fill="#f7f7fb"/>
<rect x="822.85" y="114.25" width="9.25" height="10.7" fill="#c2c6e4"/>
<rect x="833" y="114.25" width="9.25" height="10.7" fill="#f6a8ac"/>
<rect x="843.15" y="114.25" width="9.25" height="10.7" fill="#f59ca1"/>
<rect x="853.3" y="114.25" width="9.25" height="10.7" fill="#f59ca1"/>
<rect x="863.45" y="114.25" width="9.25" height="10.7" fill="#e81923"/>
<rect x="873.6" y="114.25" width="9.25" height="10.7" fill="#eeeff7"/>
<rect x="883.75" y="114.25" width="9.25" height="10.7" fill="#fad4d6"/>
<rect x="893.9" y="114.25" width="9.25" height="10.7" fill="#fcdee0"/>
<rect x="904.05" y="114.25" width="9.25" height="10.7" fill="#4c62b1"/>
<rect x="914.2" y="114.25" width="9.25" height="10.7" fill="#fef4f5"/>
<rect x="924.35" y="114.25" width="9.25" height="10.7" fill="#dee0f0"/>
<rect x="934.5" y="114.25" width="9.25" height="10.7" fill="#e6e8f4"/>
<rect x="944.65" y="114.25" width="9.25" height="10.7" fill="#dee0f0"/>
<rect x="954.8" y="114.25" width="9.25" height="10.7" fill="#cdd0e8"/>
<rect x="964.95" y="114.25" width="9.25" height="10.7" fill="#fde9ea"/>
<rect x="975.1" y="114.25" width="9.25" height="10.7" fill="#ffffff"/>
<rect x="822.85" y="125.85" width="9.25" height="10.7" fill="#b7bddf"/>
<rect x="833" y="125.85" width="9.25" height="10.7" fill="#d5d8ec"/>
<rect x="843.15" y="125.85" width="9.25" height="10.7" fill="#dee0f0"/>
<rect x="853.3" y="125.85" width="9.25" height="10.7" fill="#eeeff7"/>
<rect x="863.45" y="125.85" width="9.25" height="10.7" fill="#eeeff7"/>
<rect x="873.6" y="125.85" width="9.25" height="10.7" fill="#e81923"/>
<rect x="883.75" y="125.85" width="9.25" height="10.7" fill="#fde9ea"/>
<rect x="893.9" y="125.85" width="9.25" height="10.7" fill="#fcdee0"/>
<rect x="904.05" y="125.85" width="9.25" height="10.7" fill="#4c62b1"/>
<rect x="914.2" y="125.85" width="9.25" height="10.7" fill="#cdd0e8"/>
<rect x="924.35" y="125.85" width="9.25" height="10.7" fill="#8c96cd"/>
<rect x="934.5" y="125.85" width="9.25" height="10.7" fill="#97a0d2"/>
<rect x="944.65" y="125.85" width="9.25" height="10.7" fill="#97a0d2"/>
<rect x="954.8" y="125.85" width="9.25" height="10.7" fill="#7784c4"/>
<rect x="964.95" y="125.85" width="9.25" height="10.7" fill="#c2c6e4"/>
<rect x="975.1" y="125.85" width="9.25" height="10.7" fill="#b7bddf"/>
<rect x="822.85" y="137.45" width="9.25" height="10.7" fill="#dee0f0"/>
<rect x="833" y="137.45" width="9.25" height="10.7" fill="#ffffff"/>
<rect x="843.15" y="137.45" width="9.25" height="10.7" fill="#fcdee0"/>
<rect x="853.3" y="137.45" width="9.25" height="10.7" fill="#fcdee0"/>
<rect x="863.45" y="137.45" width="9.25" height="10.7" fill="#fad4d6"/>
<rect x="873.6" y="137.45" width="9.25" height="10.7" fill="#fde9ea"/>
<rect x="883.75" y="137.45" width="9.25" height="10.7" fill="#e81923"/>
<rect x="893.9" y="137.45" width="9.25" height="10.7" fill="#f9c9cb"/>
<rect x="904.05" y="137.45" width="9.25" height="10.7" fill="#4c62b1"/>
<rect x="914.2" y="137.45" width="9.25" height="10.7" fill="#ffffff"/>
<rect x="924.35" y="137.45" width="9.25" height="10.7" fill="#cdd0e8"/>
<rect x="934.5" y="137.45" width="9.25" height="10.7" fill="#dee0f0"/>
<rect x="944.65" y="137.45" width="9.25" height="10.7" fill="#e6e8f4"/>
<rect x="954.8" y="137.45" width="9.25" height="10.7" fill="#b7bddf"/>
<rect x="964.95" y="137.45" width="9.25" height="10.7" fill="#f7f7fb"/>
<rect x="975.1" y="137.45" width="9.25" height="10.7" fill="#eeeff7"/>
<rect x="822.85" y="149.05" width="9.25" height="10.7" fill="#fde9ea"/>
<rect x="833" y="149.05" width="9.25" height="10.7" fill="#f7f7fb"/>
<rect x="843.15" y="149.05" width="9.25" height="10.7" fill="#fef4f5"/>
<rect x="853.3" y="149.05" width="9.25" height="10.7" fill="#fef4f5"/>
<rect x="863.45" y="149.05" width="9.25" height="10.7" fill="#fcdee0"/>
<rect x="873.6" y="149.05" width="9.25" height="10.7" fill="#fcdee0"/>
<rect x="883.75" y="149.05" width="9.25" height="10.7" fill="#f9c9cb"/>
<rect x="893.9" y="149.05" width="9.25" height="10.7" fill="#e81923"/>
<rect x="904.05" y="149.05" width="9.25" height="10.7" fill="#4c62b1"/>
<rect x="914.2" y="149.05" width="9.25" height="10.7" fill="#e6e8f4"/>
<rect x="924.35" y="149.05" width="9.25" height="10.7" fill="#a2a9d6"/>
<rect x="934.5" y="149.05" width="9.25" height="10.7" fill="#acb3da"/>
<rect x="944.65" y="149.05" width="9.25" height="10.7" fill="#acb3da"/>
<rect x="954.8" y="149.05" width="9.25" height="10.7" fill="#8c96cd"/>
<rect x="964.95" y="149.05" width="9.25" height="10.7" fill="#e6e8f4"/>
<rect x="975.1" y="149.05" width="9.25" height="10.7" fill="#dee0f0"/>
<rect x="822.85" y="160.65" width="9.25" height="10.7" fill="#4c62b1"/>
<rect x="833" y="160.65" width="9.25" height="10.7" fill="#4c62b1"/>
<rect x="843.15" y="160.65" width="9.25" height="10.7" fill="#4c62b1"/>
<rect x="853.3" y="160.65" width="9.25" height="10.7" fill="#4c62b1"/>
<rect x="863.45" y="160.65" width="9.25" height="10.7" fill="#4c62b1"/>
<rect x="873.6" y="160.65" width="9.25" height="10.7" fill="#576ab6"/>
<rect x="883.75" y="160.65" width="9.25" height="10.7" fill="#4c62b1"/>
<rect x="893.9" y="160.65" width="9.25" height="10.7" fill="#4c62b1"/>
<rect x="904.05" y="160.65" width="9.25" height="10.7" fill="#e81923"/>
<rect x="914.2" y="160.65" width="9.25" height="10.7" fill="#6c7cbf"/>
<rect x="924.35" y="160.65" width="9.25" height="10.7" fill="#6c7cbf"/>
<rect x="934.5" y="160.65" width="9.25" height="10.7" fill="#6c7cbf"/>
<rect x="944.65" y="160.65" width="9.25" height="10.7" fill="#6c7cbf"/>
<rect x="954.8" y="160.65" width="9.25" height="10.7" fill="#ffffff"/>
<rect x="964.95" y="160.65" width="9.25" height="10.7" fill="#cdd0e8"/>
<rect x="975.1" y="160.65" width="9.25" height="10.7" fill="#d5d8ec"/>
<rect x="822.85" y="172.25" width="9.25" height="10.7" fill="#97a0d2"/>
<rect x="833" y="172.25" width="9.25" height="10.7" fill="#dee0f0"/>
<rect x="843.15" y="172.25" width="9.25" height="10.7" fill="#eeeff7"/>
<rect x="853.3" y="172.25" width="9.25" height="10.7" fill="#ffffff"/>
<rect x="863.45" y="172.25" width="9.25" height="10.7" fill="#fef4f5"/>
<rect x="873.6" y="172.25" width="9.25" height="10.7" fill="#cdd0e8"/>
<rect x="883.75" y="172.25" width="9.25" height="10.7" fill="#ffffff"/>
<rect x="893.9" y="172.25" width="9.25" height="10.7" fill="#eeeff7"/>
<rect x="904.05" y="172.25" width="9.25" height="10.7" fill="#6c7cbf"/>
<rect x="914.2" y="172.25" width="9.25" height="10.7" fill="#e81923"/>
<rect x="924.35" y="172.25" width="9.25" height="10.7" fill="#f8bec1"/>
<rect x="934.5" y="172.25" width="9.25" height="10.7" fill="#f7b3b6"/>
<rect x="944.65" y="172.25" width="9.25" height="10.7" fill="#f6a8ac"/>
<rect x="954.8" y="172.25" width="9.25" height="10.7" fill="#eeeff7"/>
<rect x="964.95" y="172.25" width="9.25" height="10.7" fill="#f8bec1"/>
<rect x="975.1" y="172.25" width="9.25" height="10.7" fill="#f9c9cb"/>
<rect x="822.85" y="183.85" width="9.25" height="10.7" fill="#576ab6"/>
<rect x="833" y="183.85" width="9.25" height="10.7" fill="#b7bddf"/>
<rect x="843.15" y="183.85" width="9.25" height="10.7" fill="#cdd0e8"/>
<rect x="853.3" y="183.85" width="9.25" height="10.7" fill="#d5d8ec"/>
<rect x="863.45" y="183.85" width="9.25" height="10.7" fill="#e6e8f4"/>
<rect x="873.6" y="183.85" width="9.25" height="10.7" fill="#7784c4"/>
<rect x="883.75" y="183.85" width="9.25" height="10.7" fill="#c2c6e4"/>
<rect x="893.9" y="183.85" width="9.25" height="10.7" fill="#a2a9d6"/>
<rect x="904.05" y="183.85" width="9.25" height="10.7" fill="#6c7cbf"/>
<rect x="914.2" y="183.85" width="9.25" height="10.7" fill="#f8bec1"/>
<rect x="924.35" y="183.85" width="9.25" height="10.7" fill="#e81923"/>
<rect x="934.5" y="183.85" width="9.25" height="10.7" fill="#f6a8ac"/>
<rect x="944.65" y="183.85" width="9.25" height="10.7" fill="#f6a8ac"/>
<rect x="954.8" y="183.85" width="9.25" height="10.7" fill="#e6e8f4"/>
<rect x="964.95" y="183.85" width="9.25" height="10.7" fill="#ffffff"/>
<rect x="975.1" y="183.85" width="9.25" height="10.7" fill="#fef4f5"/>
<rect x="822.85" y="195.45" width="9.25" height="10.7" fill="#576ab6"/>
<rect x="833" y="195.45" width="9.25" height="10.7" fill="#c2c6e4"/>
<rect x="843.15" y="195.45" width="9.25" height="10.7" fill="#d5d8ec"/>
<rect x="853.3" y="195.45" width="9.25" height="10.7" fill="#dee0f0"/>
<rect x="863.45" y="195.45" width="9.25" height="10.7" fill="#e6e8f4"/>
<rect x="873.6" y="195.45" width="9.25" height="10.7" fill="#8c96cd"/>
<rect x="883.75" y="195.45" width="9.25" height="10.7" fill="#dee0f0"/>
<rect x="893.9" y="195.45" width="9.25" height="10.7" fill="#acb3da"/>
<rect x="904.05" y="195.45" width="9.25" height="10.7" fill="#6c7cbf"/>
<rect x="914.2" y="195.45" width="9.25" height="10.7" fill="#f7b3b6"/>
<rect x="924.35" y="195.45" width="9.25" height="10.7" fill="#f6a8ac"/>
<rect x="934.5" y="195.45" width="9.25" height="10.7" fill="#e81923"/>
<rect x="944.65" y="195.45" width="9.25" height="10.7" fill="#f6a8ac"/>
<rect x="954.8" y="195.45" width="9.25" height="10.7" fill="#f7f7fb"/>
<rect x="964.95" y="195.45" width="9.25" height="10.7" fill="#fcdee0"/>
<rect x="975.1" y="195.45" width="9.25" height="10.7" fill="#fde9ea"/>
<rect x="822.85" y="207.05" width="9.25" height="10.7" fill="#576ab6"/>
<rect x="833" y="207.05" width="9.25" height="10.7" fill="#b7bddf"/>
<rect x="843.15" y="207.05" width="9.25" height="10.7" fill="#cdd0e8"/>
<rect x="853.3" y="207.05" width="9.25" height="10.7" fill="#d5d8ec"/>
<rect x="863.45" y="207.05" width="9.25" height="10.7" fill="#dee0f0"/>
<rect x="873.6" y="207.05" width="9.25" height="10.7" fill="#8c96cd"/>
<rect x="883.75" y="207.05" width="9.25" height="10.7" fill="#dee0f0"/>
<rect x="893.9" y="207.05" width="9.25" height="10.7" fill="#acb3da"/>
<rect x="904.05" y="207.05" width="9.25" height="10.7" fill="#6c7cbf"/>
<rect x="914.2" y="207.05" width="9.25" height="10.7" fill="#f6a8ac"/>
<rect x="924.35" y="207.05" width="9.25" height="10.7" fill="#f6a8ac"/>
<rect x="934.5" y="207.05" width="9.25" height="10.7" fill="#f6a8ac"/>
<rect x="944.65" y="207.05" width="9.25" height="10.7" fill="#e81923"/>
<rect x="954.8" y="207.05" width="9.25" height="10.7" fill="#ffffff"/>
<rect x="964.95" y="207.05" width="9.25" height="10.7" fill="#fde9ea"/>
<rect x="975.1" y="207.05" width="9.25" height="10.7" fill="#fef4f5"/>
<rect x="822.85" y="218.65" width="9.25" height="10.7" fill="#4c62b1"/>
<rect x="833" y="218.65" width="9.25" height="10.7" fill="#acb3da"/>
<rect x="843.15" y="218.65" width="9.25" height="10.7" fill="#c2c6e4"/>
<rect x="853.3" y="218.65" width="9.25" height="10.7" fill="#cdd0e8"/>
<rect x="863.45" y="218.65" width="9.25" height="10.7" fill="#cdd0e8"/>
<rect x="873.6" y="218.65" width="9.25" height="10.7" fill="#6c7cbf"/>
<rect x="883.75" y="218.65" width="9.25" height="10.7" fill="#b7bddf"/>
<rect x="893.9" y="218.65" width="9.25" height="10.7" fill="#8c96cd"/>
<rect x="904.05" y="218.65" width="9.25" height="10.7" fill="#ffffff"/>
<rect x="914.2" y="218.65" width="9.25" height="10.7" fill="#eeeff7"/>
<rect x="924.35" y="218.65" width="9.25" height="10.7" fill="#e6e8f4"/>
<rect x="934.5" y="218.65" width="9.25" height="10.7" fill="#f7f7fb"/>
<rect x="944.65" y="218.65" width="9.25" height="10.7" fill="#ffffff"/>
<rect x="954.8" y="218.65" width="9.25" height="10.7" fill="#e81923"/>
<rect x="964.95" y="218.65" width="9.25" height="10.7" fill="#f7b3b6"/>
<rect x="975.1" y="218.65" width="9.25" height="10.7" fill="#f7b3b6"/>
<rect x="822.85" y="230.25" width="9.25" height="10.7" fill="#7784c4"/>
<rect x="833" y="230.25" width="9.25" height="10.7" fill="#e6e8f4"/>
<rect x="843.15" y="230.25" width="9.25" height="10.7" fill="#ffffff"/>
<rect x="853.3" y="230.25" width="9.25" height="10.7" fill="#ffffff"/>
<rect x="863.45" y="230.25" width="9.25" height="10.7" fill="#fde9ea"/>
<rect x="873.6" y="230.25" width="9.25" height="10.7" fill="#c2c6e4"/>
<rect x="883.75" y="230.25" width="9.25" height="10.7" fill="#f7f7fb"/>
<rect x="893.9" y="230.25" width="9.25" height="10.7" fill="#e6e8f4"/>
<rect x="904.05" y="230.25" width="9.25" height="10.7" fill="#cdd0e8"/>
<rect x="914.2" y="230.25" width="9.25" height="10.7" fill="#f8bec1"/>
<rect x="924.35" y="230.25" width="9.25" height="10.7" fill="#ffffff"/>
<rect x="934.5" y="230.25" width="9.25" height="10.7" fill="#fcdee0"/>
<rect x="944.65" y="230.25" width="9.25" height="10.7" fill="#fde9ea"/>
<rect x="954.8" y="230.25" width="9.25" height="10.7" fill="#f7b3b6"/>
<rect x="964.95" y="230.25" width="9.25" height="10.7" fill="#e81923"/>
<rect x="975.1" y="230.25" width="9.25" height="10.7" fill="#f59ca1"/>
<rect x="822.85" y="241.85" width="9.25" height="10.7" fill="#6c7cbf"/>
<rect x="833" y="241.85" width="9.25" height="10.7" fill="#dee0f0"/>
<rect x="843.15" y="241.85" width="9.25" height="10.7" fill="#eeeff7"/>
<rect x="853.3" y="241.85" width="9.25" height="10.7" fill="#f7f7fb"/>
<rect x="863.45" y="241.85" width="9.25" height="10.7" fill="#ffffff"/>
<rect x="873.6" y="241.85" width="9.25" height="10.7" fill="#b7bddf"/>
<rect x="883.75" y="241.85" width="9.25" height="10.7" fill="#eeeff7"/>
<rect x="893.9" y="241.85" width="9.25" height="10.7" fill="#dee0f0"/>
<rect x="904.05" y="241.85" width="9.25" height="10.7" fill="#d5d8ec"/>
<rect x="914.2" y="241.85" width="9.25" height="10.7" fill="#f9c9cb"/>
<rect x="924.35" y="241.85" width="9.25" height="10.7" fill="#fef4f5"/>
<rect x="934.5" y="241.85" width="9.25" height="10.7" fill="#fde9ea"/>
<rect x="944.65" y="241.85" width="9.25" height="10.7" fill="#fef4f5"/>
<rect x="954.8" y="241.85" width="9.25" height="10.7" fill="#f7b3b6"/>
<rect x="964.95" y="241.85" width="9.25" height="10.7" fill="#f59ca1"/>
<rect x="975.1" y="241.85" width="9.25" height="10.7" fill="#e81923"/>
<text x="986.8" y="74.9" font-size="4.9" fill="#5e92d2" stroke="#5e92d2" stroke-width="0.17">pLJM1 4</text>
<text x="825.77" y="255.4" font-size="4.9" fill="#5e92d2" transform="rotate(90 825.77 255.4)" stroke="#5e92d2" stroke-width="0.17">pLJM1 4</text>
<text x="986.8" y="86.5" font-size="4.9" fill="#e5628a" stroke="#e5628a" stroke-width="0.17">ΔbHLH 3</text>
<text x="835.92" y="255.4" font-size="4.9" fill="#e5628a" transform="rotate(90 835.92 255.4)" stroke="#e5628a" stroke-width="0.17">ΔbHLH 3</text>
<text x="986.8" y="98.1" font-size="4.9" fill="#e5628a" stroke="#e5628a" stroke-width="0.17">ΔbHLH 1</text>
<text x="846.07" y="255.4" font-size="4.9" fill="#e5628a" transform="rotate(90 846.07 255.4)" stroke="#e5628a" stroke-width="0.17">ΔbHLH 1</text>
<text x="986.8" y="109.7" font-size="4.9" fill="#e5628a" stroke="#e5628a" stroke-width="0.17">ΔbHLH 2</text>
<text x="856.23" y="255.4" font-size="4.9" fill="#e5628a" transform="rotate(90 856.23 255.4)" stroke="#e5628a" stroke-width="0.17">ΔbHLH 2</text>
<text x="986.8" y="121.3" font-size="4.9" fill="#e5628a" stroke="#e5628a" stroke-width="0.17">ΔbHLH 4</text>
<text x="866.38" y="255.4" font-size="4.9" fill="#e5628a" transform="rotate(90 866.38 255.4)" stroke="#e5628a" stroke-width="0.17">ΔbHLH 4</text>
<text x="986.8" y="132.9" font-size="4.9" fill="#5e92d2" stroke="#5e92d2" stroke-width="0.17">pLJM1 1</text>
<text x="876.52" y="255.4" font-size="4.9" fill="#5e92d2" transform="rotate(90 876.52 255.4)" stroke="#5e92d2" stroke-width="0.17">pLJM1 1</text>
<text x="986.8" y="144.5" font-size="4.9" fill="#5e92d2" stroke="#5e92d2" stroke-width="0.17">pLJM1 2</text>
<text x="886.67" y="255.4" font-size="4.9" fill="#5e92d2" transform="rotate(90 886.67 255.4)" stroke="#5e92d2" stroke-width="0.17">pLJM1 2</text>
<text x="986.8" y="156.1" font-size="4.9" fill="#5e92d2" stroke="#5e92d2" stroke-width="0.17">pLJM1 3</text>
<text x="896.82" y="255.4" font-size="4.9" fill="#5e92d2" transform="rotate(90 896.82 255.4)" stroke="#5e92d2" stroke-width="0.17">pLJM1 3</text>
<text x="986.8" y="167.7" font-size="4.9" fill="#f4b040" stroke="#f4b040" stroke-width="0.17">TWIST1 3</text>
<text x="906.98" y="255.4" font-size="4.9" fill="#f4b040" transform="rotate(90 906.98 255.4)" stroke="#f4b040" stroke-width="0.17">TWIST1 3</text>
<text x="986.8" y="179.3" font-size="4.9" fill="#96c94a" stroke="#96c94a" stroke-width="0.17">ΔN 1</text>
<text x="917.12" y="255.4" font-size="4.9" fill="#96c94a" transform="rotate(90 917.12 255.4)" stroke="#96c94a" stroke-width="0.17">ΔN 1</text>
<text x="986.8" y="190.9" font-size="4.9" fill="#96c94a" stroke="#96c94a" stroke-width="0.17">ΔN 2</text>
<text x="927.27" y="255.4" font-size="4.9" fill="#96c94a" transform="rotate(90 927.27 255.4)" stroke="#96c94a" stroke-width="0.17">ΔN 2</text>
<text x="986.8" y="202.5" font-size="4.9" fill="#96c94a" stroke="#96c94a" stroke-width="0.17">ΔN 3</text>
<text x="937.42" y="255.4" font-size="4.9" fill="#96c94a" transform="rotate(90 937.42 255.4)" stroke="#96c94a" stroke-width="0.17">ΔN 3</text>
<text x="986.8" y="214.1" font-size="4.9" fill="#96c94a" stroke="#96c94a" stroke-width="0.17">ΔN 4</text>
<text x="947.58" y="255.4" font-size="4.9" fill="#96c94a" transform="rotate(90 947.58 255.4)" stroke="#96c94a" stroke-width="0.17">ΔN 4</text>
<text x="986.8" y="225.7" font-size="4.9" fill="#f4b040" stroke="#f4b040" stroke-width="0.17">TWIST1 2</text>
<text x="957.73" y="255.4" font-size="4.9" fill="#f4b040" transform="rotate(90 957.73 255.4)" stroke="#f4b040" stroke-width="0.17">TWIST1 2</text>
<text x="986.8" y="237.3" font-size="4.9" fill="#f4b040" stroke="#f4b040" stroke-width="0.17">TWIST1 1</text>
<text x="967.88" y="255.4" font-size="4.9" fill="#f4b040" transform="rotate(90 967.88 255.4)" stroke="#f4b040" stroke-width="0.17">TWIST1 1</text>
<text x="986.8" y="248.9" font-size="4.9" fill="#f4b040" stroke="#f4b040" stroke-width="0.17">TWIST1 4</text>
<text x="978.02" y="255.4" font-size="4.9" fill="#f4b040" transform="rotate(90 978.02 255.4)" stroke="#f4b040" stroke-width="0.17">TWIST1 4</text>
<path d="M857.92 67.4L857.92 61.4M868.07 67.4L868.07 61.4M857.92 61.4L868.07 61.4M847.77 67.4L847.77 60.2M863 61.4L863 60.2M847.77 60.2L863 60.2M837.62 67.4L837.62 58.8M855.39 60.2L855.39 58.8M837.62 58.8L855.39 58.8M888.38 67.4L888.38 58.8M898.52 67.4L898.52 58.8M888.38 58.8L898.52 58.8M878.23 67.4L878.23 56.6M893.45 58.8L893.45 56.6M878.23 56.6L893.45 56.6M846.51 58.8L846.51 53.2M885.84 56.6L885.84 53.2M846.51 53.2L885.84 53.2M827.48 67.4L827.48 48.2M866.17 53.2L866.17 48.2M827.48 48.2L866.17 48.2M939.12 67.4L939.12 61.4M949.27 67.4L949.27 61.4M939.12 61.4L949.27 61.4M928.98 67.4L928.98 61.1M944.2 61.4L944.2 61.1M928.98 61.1L944.2 61.1M918.82 67.4L918.82 58.5M936.59 61.1L936.59 58.5M918.82 58.5L936.59 58.5M969.58 67.4L969.58 61.9M979.73 67.4L979.73 61.9M969.58 61.9L979.73 61.9M959.42 67.4L959.42 57.6M974.65 61.9L974.65 57.6M959.42 57.6L974.65 57.6M927.71 58.5L927.71 53.7M967.04 57.6L967.04 53.7M927.71 53.7L967.04 53.7M908.67 67.4L908.67 44M947.37 53.7L947.37 44M908.67 44L947.37 44M846.82 48.2L846.82 41.7M928.02 44L928.02 41.7M846.82 41.7L928.02 41.7" stroke="#111" fill="none" stroke-width="0.9" stroke-linecap="square"/>
<path d="M822.4 108L816.16 108M822.4 119.6L816.16 119.6M816.16 108L816.16 119.6M822.4 96.4L814.91 96.4M816.16 113.8L814.91 113.8M814.91 96.4L814.91 113.8M822.4 84.8L813.46 84.8M814.91 105.1L813.46 105.1M813.46 84.8L813.46 105.1M822.4 142.8L813.46 142.8M822.4 154.4L813.46 154.4M813.46 142.8L813.46 154.4M822.4 131.2L811.17 131.2M813.46 148.6L811.17 148.6M811.17 131.2L811.17 148.6M813.46 94.95L807.63 94.95M811.17 139.9L807.63 139.9M807.63 94.95L807.63 139.9M822.4 73.2L802.43 73.2M807.63 117.43L802.43 117.43M802.43 73.2L802.43 117.43M822.4 200.8L816.16 200.8M822.4 212.4L816.16 212.4M816.16 200.8L816.16 212.4M822.4 189.2L815.85 189.2M816.16 206.6L815.85 206.6M815.85 189.2L815.85 206.6M822.4 177.6L813.14 177.6M815.85 197.9L813.14 197.9M813.14 177.6L813.14 197.9M822.4 235.6L816.68 235.6M822.4 247.2L816.68 247.2M816.68 235.6L816.68 247.2M822.4 224L812.21 224M816.68 241.4L812.21 241.4M812.21 224L812.21 241.4M813.14 187.75L808.15 187.75M812.21 232.7L808.15 232.7M808.15 187.75L808.15 232.7M822.4 166L798.06 166M808.15 210.22L798.06 210.22M798.06 166L798.06 210.22M802.43 95.31L795.67 95.31M798.06 188.11L795.67 188.11M795.67 95.31L795.67 188.11" stroke="#111" fill="none" stroke-width="0.9" stroke-linecap="square"/>
<defs><linearGradient id="gd" x1="0" y1="0" x2="0" y2="1"><stop offset="0" stop-color="#e8141e"/><stop offset="0.25" stop-color="#f39aa0"/><stop offset="0.47" stop-color="#ffffff"/><stop offset="0.7" stop-color="#b4bbe0"/><stop offset="1" stop-color="#3a4fa6"/></linearGradient></defs>
<rect x="1026" y="67.1" width="4.8" height="76" fill="url(#gd)"/>
<text x="1033.2" y="68.7" font-size="4.6" fill="#222" stroke="#222" stroke-width="0.16">1</text>
<text x="1033.2" y="80.8" font-size="4.6" fill="#222" stroke="#222" stroke-width="0.16">0.998</text>
<text x="1033.2" y="92.9" font-size="4.6" fill="#222" stroke="#222" stroke-width="0.16">0.996</text>
<text x="1033.2" y="105" font-size="4.6" fill="#222" stroke="#222" stroke-width="0.16">0.994</text>
<text x="1033.2" y="117.1" font-size="4.6" fill="#222" stroke="#222" stroke-width="0.16">0.992</text>
<text x="1033.2" y="129.2" font-size="4.6" fill="#222" stroke="#222" stroke-width="0.16">0.99</text>
<text x="1033.2" y="141.3" font-size="4.6" fill="#222" stroke="#222" stroke-width="0.16">0.988</text>
<rect x="2.7" y="284.2" width="338.2" height="25.4" fill="#a9d04c"/>
<text x="10.2" y="304.2" font-size="23.2" fill="#111">E</text>
<text x="172.35" y="302.2" font-size="14.8" fill="white" text-anchor="middle" textLength="88.7" lengthAdjust="spacingAndGlyphs">ΔN vs TWIST1</text>
<rect x="348.1" y="284.2" width="338.4" height="25.4" fill="#f293a6"/>
<text x="358.9" y="304.2" font-size="23.2" fill="#111">F</text>
<text x="527.95" y="303.4" font-size="15.2" fill="white" text-anchor="middle" textLength="115.7" lengthAdjust="spacingAndGlyphs">ΔbHLH vs TWIST1</text>
<rect x="699.9" y="284.2" width="337.6" height="25.4" fill="#c98dbf"/>
<text x="704.8" y="304.2" font-size="23.2" fill="#111">G</text>
<text x="865.6" y="302.2" font-size="14.8" fill="white" text-anchor="middle" textLength="87.2" lengthAdjust="spacingAndGlyphs">ΔC vs TWIST1</text>
<rect x="2.9" y="574.1" width="338.1" height="25.7" fill="#a9d04c"/>
<text x="8.2" y="595.2" font-size="23.7" fill="#111">H</text>
<text x="176.1" y="591.8" font-size="14.5" fill="white" text-anchor="middle" textLength="88.2" lengthAdjust="spacingAndGlyphs">ΔN vs TWIST1</text>
<rect x="351.6" y="574.1" width="338.2" height="25.7" fill="#f293a6"/>
<text x="361.9" y="595.2" font-size="23.7" fill="#111">I</text>
<text x="524.85" y="592.2" font-size="14.6" fill="white" text-anchor="middle" textLength="116.1" lengthAdjust="spacingAndGlyphs">ΔbHLH vs TWIST1</text>
<rect x="700.1" y="574.1" width="338.8" height="25.7" fill="#c98dbf"/>
<text x="708.2" y="595.2" font-size="23.7" fill="#111">J</text>
<text x="873.45" y="591.9" font-size="14.5" fill="white" text-anchor="middle" textLength="87.3" lengthAdjust="spacingAndGlyphs">ΔC vs TWIST1</text>
<line x1="72.25" y1="311.8" x2="72.25" y2="543.6" stroke="#f3f3f3" stroke-width="0.5"/>
<line x1="116.95" y1="311.8" x2="116.95" y2="543.6" stroke="#f3f3f3" stroke-width="0.5"/>
<line x1="161.65" y1="311.8" x2="161.65" y2="543.6" stroke="#f3f3f3" stroke-width="0.5"/>
<line x1="206.35" y1="311.8" x2="206.35" y2="543.6" stroke="#f3f3f3" stroke-width="0.5"/>
<line x1="251.05" y1="311.8" x2="251.05" y2="543.6" stroke="#f3f3f3" stroke-width="0.5"/>
<line x1="295.75" y1="311.8" x2="295.75" y2="543.6" stroke="#f3f3f3" stroke-width="0.5"/>
<line x1="94.6" y1="311.8" x2="94.6" y2="543.6" stroke="#ebebeb" stroke-width="0.7"/>
<line x1="139.3" y1="311.8" x2="139.3" y2="543.6" stroke="#ebebeb" stroke-width="0.7"/>
<line x1="184" y1="311.8" x2="184" y2="543.6" stroke="#ebebeb" stroke-width="0.7"/>
<line x1="228.7" y1="311.8" x2="228.7" y2="543.6" stroke="#ebebeb" stroke-width="0.7"/>
<line x1="273.4" y1="311.8" x2="273.4" y2="543.6" stroke="#ebebeb" stroke-width="0.7"/>
<line x1="63.31" y1="497.95" x2="301.11" y2="497.95" stroke="#f3f3f3" stroke-width="0.5"/>
<line x1="63.31" y1="427.85" x2="301.11" y2="427.85" stroke="#f3f3f3" stroke-width="0.5"/>
<line x1="63.31" y1="357.75" x2="301.11" y2="357.75" stroke="#f3f3f3" stroke-width="0.5"/>
<line x1="63.31" y1="533" x2="301.11" y2="533" stroke="#ebebeb" stroke-width="0.7"/>
<text x="61.71" y="534.8" font-size="5" fill="#444" text-anchor="end" stroke="#444" stroke-width="0.18">0</text>
<line x1="63.31" y1="462.9" x2="301.11" y2="462.9" stroke="#ebebeb" stroke-width="0.7"/>
<text x="61.71" y="464.7" font-size="5" fill="#444" text-anchor="end" stroke="#444" stroke-width="0.18">100</text>
<line x1="63.31" y1="392.8" x2="301.11" y2="392.8" stroke="#ebebeb" stroke-width="0.7"/>
<text x="61.71" y="394.6" font-size="5" fill="#444" text-anchor="end" stroke="#444" stroke-width="0.18">200</text>
<line x1="63.31" y1="322.7" x2="301.11" y2="322.7" stroke="#ebebeb" stroke-width="0.7"/>
<text x="61.71" y="324.5" font-size="5" fill="#444" text-anchor="end" stroke="#444" stroke-width="0.18">300</text>
<text x="94.6" y="550" font-size="5" fill="#444" text-anchor="middle" stroke="#444" stroke-width="0.18">-10</text>
<text x="139.3" y="550" font-size="5" fill="#444" text-anchor="middle" stroke="#444" stroke-width="0.18">-5</text>
<text x="184" y="550" font-size="5" fill="#444" text-anchor="middle" stroke="#444" stroke-width="0.18">0</text>
<text x="228.7" y="550" font-size="5" fill="#444" text-anchor="middle" stroke="#444" stroke-width="0.18">5</text>
<text x="273.4" y="550" font-size="5" fill="#444" text-anchor="middle" stroke="#444" stroke-width="0.18">10</text>
<text x="183.4" y="557.6" font-size="6" fill="#222" text-anchor="middle" font-weight="bold" textLength="54" lengthAdjust="spacingAndGlyphs" stroke="#222" stroke-width="0.21">Log2 Fold Change</text>
<text x="50" y="431" font-size="6.2" fill="#333" text-anchor="middle" textLength="73" lengthAdjust="spacingAndGlyphs" transform="rotate(-90 50 431)" stroke="#333" stroke-width="0.22">-Log10 Adjusted P-value</text>
<path d="M161.4 527.3h0M158.8 524.5h0M158.3 530.6h0M165.6 523.9h0M167.6 531.7h0M153.4 529.4h0M169.1 526.7h0M163 530.2h0M169.5 531.5h0M161.8 526.4h0M166.4 524.2h0M158.2 530.9h0M169.4 527.5h0M155.8 532.1h0M166.3 523.8h0M162 529.6h0M163.7 522.4h0M162.1 525.1h0M167.7 525h0M160.4 531.7h0M164.3 524.2h0M169.1 531.8h0M150.8 528.1h0M166.7 532.5h0M162.8 530.8h0M169.7 529.7h0M149.5 527h0M156.2 529.6h0M151.4 530.7h0M151.5 531.3h0M162.1 530.5h0M163.8 523.4h0M162.1 532.9h0M169 531.4h0M157.3 528.4h0M162.9 530h0M159.4 527.2h0M159.7 530.8h0M158.8 529.8h0M156 527.8h0M160.9 529.4h0M164.6 524.4h0M163.5 530h0M168.6 532.3h0M166.3 529h0M158.5 524.8h0M163.6 522.5h0M167.6 532.2h0M160.7 525.5h0M149.5 529.1h0M169.6 531h0M150.9 531.1h0M157.3 530.8h0M159.2 524.9h0M161 527.5h0M150.6 532.7h0M168.9 529.8h0M168.8 530h0M163.3 526.4h0M149.8 532.7h0M159.4 532.1h0M156.1 531.6h0M156.5 529.2h0M156.5 530.4h0M160.3 526.5h0M147.6 525.4h0M159.2 523.8h0M145.3 532.8h0M150.2 525.6h0M158.8 524.8h0M164.3 532.4h0M157.7 530.4h0M159.7 525.7h0M149.6 525.6h0M160.1 529.9h0M164.4 530.7h0M164.6 529.2h0M160.2 531.6h0M153.6 525.5h0M162.1 529.2h0M165.8 523h0M152.3 524.3h0M145.8 529h0M155.3 531.2h0M160.5 527.4h0M159.3 526.2h0M168.8 531.7h0M154.6 527.9h0M158.8 530.5h0M160.7 526.3h0M168.1 522.6h0M166.6 529.9h0M167.7 525.6h0M152.8 524.7h0M154.8 527.1h0M164.3 523.3h0M163.8 522.4h0M148.5 532.8h0M153.4 528.4h0M159 532.5h0M153.6 528.3h0M158.6 525.7h0M160 524.2h0M165.5 528.2h0M157.6 531.4h0M156 530.2h0M157.7 531.7h0M160.1 532.3h0M167.4 527.5h0M150 530.8h0M155.1 532h0M160.2 531.7h0M152.1 527.3h0M159.2 526.7h0M160 528.5h0M156.5 529.5h0M160.2 530.2h0M166.7 530.9h0M154.1 530.5h0M165.9 523.8h0M161.9 529.9h0M163.5 524.4h0M154.7 527.3h0M164.6 529.5h0M151.8 528.3h0M153.8 530.3h0M161.5 523h0M151.9 532.6h0M161.4 523.2h0M147.8 528.5h0M196.7 524.5h0M197.5 523h0M199.6 523.4h0M198.7 531.9h0M198 528.9h0M197.9 530h0M201.4 526.8h0M204.7 527.9h0M201.4 523h0M205.1 527.3h0M196.8 526h0M196.8 523.7h0M197 524.7h0M197.7 520.1h0M197.3 523h0M203.2 529.6h0M202 528.4h0M198.7 529.1h0M196.6 522.6h0M197.1 530h0M197.2 520.7h0M201.3 526.4h0M201.9 521.7h0M202.3 526.1h0M199.2 525.4h0M207 528.9h0M200.8 520.3h0M196.9 532h0M204.3 522.7h0M196.9 532.6h0M98.2 521.8h0M112.5 526.7h0M116.1 527h0M118.7 526.7h0M122.3 527h0M125 521.3h0M134.8 529.5h0M137.5 530.9h0M139.3 528.8h0M141.1 530.2h0M142.9 528.1h0M140.2 503.6h0M146.5 512h0M149.1 517.6h0M153.6 482.5h0M153.6 512h0M155.4 503.6h0M160.8 512.7h0M163.4 495.8h0M168.8 494.4h0M167.5 512.7h0M158.1 519h0M164.3 517.6h0M169.7 505h0M150.9 521.1h0M166.1 508.5h0" stroke="#a9d25a" stroke-width="2.4" stroke-linecap="round" fill="none"/>
<path d="M178.1 521.4h0M172.3 528.4h0M169.1 526.7h0M175.8 529.2h0M172.7 526h0M177 519h0M178 520h0M171.3 515.7h0M176.5 527h0M178.2 526.9h0M172.6 532.9h0M179.1 531.1h0M169 526.7h0M172.9 517.8h0M181.3 526.8h0M170.3 524.7h0M181.7 529.9h0M169.8 528.4h0M171.2 517.8h0M183.2 528.3h0M178.3 524.7h0M175.4 530h0M170.4 516.3h0M178.8 529.9h0M178.6 531.8h0M182.8 524.9h0M171.1 530.1h0M177 531h0M178.3 526.2h0M175 513.9h0M175.8 525.4h0M179.9 532.8h0M169.4 532h0M178.6 528.2h0M181.7 530.1h0M178.9 529.2h0M180.1 522.8h0M182.6 533h0M180.8 531.9h0M180.9 532.9h0M180.5 527.9h0M172.3 530.2h0M171.6 527.5h0M177.3 529h0M182.9 529.5h0M176.5 526.1h0M179.8 526.8h0M181.8 529.4h0M170 527.5h0M182.8 531.2h0M178.8 524.5h0M183.1 530.5h0M171.9 532.4h0M182.3 525.2h0M177.8 527.2h0M178.6 529.7h0M175.8 524.1h0M171.7 532.2h0M180.1 524h0M170.6 516h0M181.8 528.3h0M169.7 520.8h0M172.6 530.4h0M169.5 526.7h0M178.9 532.9h0M182.7 528.5h0M178.6 525.8h0M177.4 532.7h0M183 523.9h0M173.6 531.6h0M180.6 530.1h0M180.6 532h0M181.8 531.5h0M178.3 525.7h0M178.6 525.5h0M180.7 530h0M181.6 524.1h0M169.4 526.8h0M177.2 520h0M172.7 525.8h0M170.5 527.2h0M178.6 522.8h0M174.4 525h0M172.6 528h0M170.2 521.6h0M173.3 532.1h0M170.9 531.1h0M170.2 518.9h0M173.4 519.1h0M171.7 525.8h0M174.5 522h0M179.6 524.1h0M178.8 529h0M176.5 522.5h0M172.9 524.4h0M182 532.1h0M180.6 526.4h0M183.5 525.1h0M180.3 529.1h0M171.7 519.4h0M179.5 528.3h0M175.1 532.7h0M176.9 528.2h0M179.5 529.1h0M182.4 529.8h0M180.1 521.7h0M179.4 523.3h0M170.8 531.8h0M170.7 530.4h0M175.5 521.9h0M182.3 531.4h0M170 518.4h0M173.5 521.3h0M169.8 519.7h0M182.3 531.1h0M172.3 513.5h0M170.8 530.4h0M176 530.9h0M172.9 524.5h0M176.5 524.5h0M174.7 520.8h0M171.6 531.1h0M183.3 524.9h0M183.1 531.6h0M176.2 518.1h0M177.7 532.4h0M175.8 519.9h0M181.1 525.3h0M181.4 526.4h0M173.4 530.8h0M171.4 515.8h0M173.8 517.4h0M176.5 532.1h0M177.4 522.3h0M180.7 525.7h0M182.8 529.5h0M179.1 523h0M178.7 530.9h0M180.2 532.5h0M169.2 524.4h0M174.9 522.1h0M179.6 532.3h0M177.1 518.2h0M178.2 526.4h0M177.6 530.6h0M181.8 531.5h0M179.9 525.2h0M180.7 528.5h0M180.9 526.2h0M174.9 524.9h0M179.8 529.2h0M180 527.8h0M181 529.5h0M180.4 528.6h0M169.5 529.3h0M177.4 526h0M178.9 526.3h0M171.7 528.4h0M175.3 517.4h0M175.5 528.1h0M182.8 525.1h0M172.9 517.7h0M179 532.4h0M173.5 525.4h0M175.1 520.3h0M175.9 521.9h0M174.4 524.9h0M173.6 521.6h0M169.8 523.7h0M175.5 532.4h0M172.6 522.2h0M178.3 530.3h0M176.6 524.5h0M183 530.9h0M172.7 532.2h0M180.2 525.4h0M171 527.8h0M176.1 519.4h0M178 523.3h0M174 529.5h0M176.1 531.4h0M178.3 531.7h0M171.5 528.6h0M169.4 531.6h0M175.9 532.9h0M171.4 528.8h0M171.7 522.3h0M175.1 520.5h0M182.4 524.8h0M169.7 525.1h0M180.2 531.1h0M181.9 532.2h0M169.5 524.2h0M183.4 528.1h0M178.9 526.5h0M177.8 529.2h0M169.3 526.5h0M175.1 519.9h0M173.9 532.1h0M171.7 528.2h0M182.5 530.9h0M178.9 522.6h0M169 527.1h0M171.1 518.1h0M172.1 529h0M172.9 521.2h0M180.9 532.1h0M169.5 527.4h0M170.2 529.4h0M177.8 529.5h0M175.6 520.1h0M180 526.2h0M174.5 521.8h0M174.6 532.8h0M179.4 531.1h0M173 525.7h0M175.5 529.3h0M170.1 530.3h0M171.5 532.2h0M172.1 520.1h0M173 523.7h0M170.1 531.6h0M175.9 521.3h0M177.6 521.5h0M169.1 529.2h0M180.1 532.4h0M180.8 528.5h0M183.1 523.9h0M171.2 531.9h0M182.9 528.2h0M173.7 524.1h0M177.6 522.4h0M171.9 523h0M171.4 522.1h0M170.9 523.4h0M174.9 529.5h0M176.9 523.8h0M170.5 518.5h0M170.5 529.4h0M181.4 522.5h0M171.8 525.2h0M170 531.1h0M176.6 522.7h0M171 527.2h0M179.9 532h0M173.5 512.4h0M171.3 525.3h0M176.4 531.2h0M173.1 532.4h0M170.9 525h0M177.5 519.2h0M180 530.6h0M180 528.9h0M182.4 530.5h0M172.7 531.1h0M177.8 520.6h0M179.4 527.9h0M183.2 527.2h0M182.2 532.3h0M173.8 512.4h0M177.9 532.4h0M175.7 525.1h0M178.9 520.6h0M180.8 529.1h0M182 523.3h0M175.6 518.7h0M174.4 517.8h0M174.4 521.2h0M175.5 527.9h0M171 532.2h0M177.2 524.2h0M172.3 529.6h0M173.4 520.4h0M173.7 522.9h0M170.5 521h0M173.3 515h0M177.4 530.2h0M177.9 525.7h0M179.3 532.3h0M171.9 529.2h0M183.4 531h0M183.4 523.8h0M177.7 524h0M173.8 514.5h0M170.1 530.6h0M170 532.7h0M175.3 530.5h0M169.1 531.3h0M182.1 527.2h0M173.6 532.7h0M169.4 532.1h0M170.4 530.9h0M173.9 528.3h0M180.6 526h0M178 532.1h0M177.5 520.1h0M178.3 517.3h0M170 531.6h0M180.8 524.8h0M171.6 532.6h0M183.2 531.3h0M174.8 528.8h0M169.1 529.8h0M179.4 527.5h0M182 530.4h0M182.7 528.8h0M169.6 520.9h0M169.8 526.9h0M175.3 518.3h0M170.8 530.8h0M181.1 526.9h0M177.4 530.7h0M169.2 527.1h0M175.8 518.3h0M169.8 527.9h0M169.8 518.5h0M174.5 525.6h0M178.6 531.3h0M183 529h0M181.5 530.5h0M173.2 521.1h0M177.8 517.1h0M176.9 528.3h0M170 529.9h0M170.4 522h0M183.3 525.4h0M171.6 514.9h0M181.6 524.3h0M176.6 530.7h0M173.2 531.4h0M180.7 523h0M169.2 531.1h0M171.7 523h0M175.2 530.5h0M173.2 527h0M182.2 531.1h0M173.5 517.9h0M176.3 520.4h0M170.4 531.3h0M169.4 530.4h0M169.2 531.9h0M170.2 526.1h0M173.6 531.7h0M180.7 527.4h0M176.9 524.7h0M181.6 529.6h0M170.6 523.2h0M179.6 530.5h0M179.5 528.5h0M180.3 531.5h0M179.5 527.4h0M175.8 526.7h0M182.4 530.5h0M174.9 518.3h0M169.4 522.5h0M170.1 516.5h0M171.7 527.1h0M177.8 522.3h0M173.8 515.6h0M183 532.2h0M178.5 529.9h0M173.2 517.7h0M170.7 519h0M171.1 524.1h0M177 523h0M169.8 525.6h0M175.7 521.7h0M181.7 527.6h0M180.5 520.2h0M171.9 529h0M177.6 525.1h0M169.2 531.7h0M180.9 527.6h0M180.1 526h0M170.3 526.3h0M177.7 532.5h0M174.6 524.3h0M182.8 530.4h0M177.9 521.4h0M175.8 521.1h0M183 530.9h0M181.1 530.4h0M177.9 526.9h0M180.4 532.5h0M181.8 530.5h0M181.9 528.8h0M176.2 530.1h0M178.3 521.3h0M171.3 524.9h0M183.4 532.5h0M182.3 529.7h0M177.1 529.2h0M170.2 530.4h0M179.4 530.1h0M182 524h0M169 530.5h0M180.1 532.6h0M182.3 523.9h0M181.6 524.7h0M170.4 520.8h0M174.6 516.9h0M176.6 519.4h0M183.5 525.4h0M173.7 531.4h0M171.7 532.9h0M177.7 524.5h0M169.6 532.2h0M169.7 527.2h0M178.6 520.5h0M182.1 532.1h0M169.7 521.2h0M175 525.1h0M182.6 526.5h0M170.1 522.8h0M169.2 526.1h0M175.7 525.8h0M183.4 527.4h0M179.4 528h0M174.3 525.7h0M172.5 531h0M173.3 518.9h0M174 523.4h0M174.2 524.6h0M178.5 520.8h0M183 527.5h0M178.2 521.9h0M179.3 530.4h0M178.9 531h0M180.5 524.3h0M173.7 522.5h0M178.6 526.3h0M175.5 530.2h0M175.7 522.2h0M170.3 524.9h0M182.4 522h0M172.8 521.3h0M173.7 525.6h0M179.1 525.7h0M174.6 522.7h0M177.8 527.5h0M169.2 528.8h0M174.6 532.2h0M182 530h0M178 531.8h0M170.8 526.9h0M170.7 527.8h0M179.4 521.2h0M180.5 531.8h0M175.3 529.3h0M179.9 531.8h0M180.9 522.4h0M181.7 523.2h0M178.4 530.7h0M178.1 520.9h0M174.7 532.8h0M175.4 521.1h0M178.6 524.9h0M171.7 526.4h0M171.7 531.8h0M172.4 519h0M182.8 525.6h0M171.7 518.1h0M179.9 525.3h0M173.3 522.1h0M173.9 528.4h0M176.1 528.3h0M181.4 526.4h0M183.3 531.5h0M170.3 527.2h0M170.2 521.2h0M176.4 521.7h0M174.1 525.4h0M173.5 528.6h0M173.9 529.9h0M171 514.5h0M178.4 528.2h0M170.5 531.7h0M174.9 518.5h0M183.4 527.1h0M177 515.7h0M173.9 530.5h0M178.5 518.3h0M172.7 519.6h0M176.8 527.2h0M183.4 526.4h0M176.2 530.2h0M171.8 529.3h0M179.8 523.3h0M173.6 527.2h0M173.3 526.6h0M170.1 529.5h0M178.8 525.4h0M170.5 530.5h0M173.1 520.3h0M178.9 532.8h0M180.7 523h0M174.1 527.9h0M181.6 530.1h0M169 532.2h0M178.1 520h0M174.3 520.4h0M170 528h0M179 528h0M183.1 529.3h0M176.8 532.2h0M169.9 530.9h0M175 528.7h0M180.9 532.9h0M180.8 527.7h0M172.9 524.3h0M181.5 524.8h0M169.3 524.3h0M178.6 522.3h0M181.5 528.5h0M175.7 529.7h0M173.9 520.6h0M171 530.6h0M175.7 518.6h0M183.1 526.9h0M172.9 512h0M173 532h0M173.7 516.4h0M182 524.9h0M177.1 530.5h0M180.1 527.7h0M172.1 527h0M169.9 528.1h0M173.2 527.2h0M174.5 523.6h0M171.9 518.8h0M175.7 522.7h0M181.4 524.9h0M179.5 531.6h0M172.7 529.3h0M174.8 532.8h0M179.9 524.3h0M178.3 520.5h0M172.9 525.7h0M176.8 528.8h0M176.7 523.7h0M179.3 524.5h0M170 519.4h0M172.9 526.3h0M176.5 530.1h0M174.3 520.6h0M169.5 528.4h0M169.2 524.5h0M176.8 515.7h0M182.6 531.7h0M174.4 530.9h0M180.4 524.9h0M169.2 531.3h0M179.2 528.9h0M181.2 532.9h0M173.2 515.8h0M169.7 528.5h0M171.2 517.4h0M179.2 531.5h0M171.9 520.1h0M172.7 531.8h0M190.8 526.7h0M191.3 526.2h0M191.4 527.6h0M193.4 529.2h0M187.2 532.1h0M190.5 529.2h0M192.4 525.6h0M184.8 525.7h0M191.4 527.4h0M185.1 532.6h0M188.7 526.1h0M185.2 529.7h0M196 518.3h0M192.1 519h0M185.7 525.3h0M196.7 528.7h0M184.9 533h0M194.6 532.9h0M196.2 519.5h0M192.4 519.6h0M193 519h0M189.3 529h0M185.2 530.3h0M186.1 526.7h0M189.9 529.4h0M192.8 516h0M184.6 531.5h0M184.8 533h0M186.7 532.3h0M186.5 531.9h0M190.1 523.8h0M192.3 529.9h0M194.9 516.2h0M192.6 522.2h0M193.6 527.8h0M192.8 524.1h0M193.4 519.5h0M187.8 523.8h0M184.8 527.1h0M193.6 524.7h0M196.1 526.8h0M187.3 532.9h0M194 528.6h0M185.8 526.1h0M191.3 520.7h0M186.9 524.8h0M185.8 529.8h0M189 529.4h0M189.4 526.5h0M184.6 522.5h0M190.4 531.7h0M191.6 522.4h0M190.3 532.5h0M188.3 522h0M187.2 523.5h0M191.9 517.4h0M192.9 531.7h0M191.7 524.8h0M192.6 521.1h0M189.6 528h0M185.8 530.9h0M188.4 532.3h0M190.8 530.1h0M186.8 526.7h0M196 525.1h0M185.5 527.3h0M192.2 524.5h0M185.7 525.3h0M185.4 532.6h0M191.3 522.1h0M191.2 517.8h0M190.9 520.6h0M186.7 530.9h0M190.1 524.4h0M186 531h0M189.1 528.6h0M185.7 528.8h0M195.5 530.5h0M193.3 523.7h0M195.3 519.1h0M195.3 528.9h0M185.6 524.9h0M192.5 526.5h0M190.8 530.3h0M192.3 532.3h0M188.3 525.5h0M185.9 527.2h0M191.5 521.1h0M190.5 518.9h0M190.7 521.9h0M186.6 532.9h0M194.9 529.1h0M196.8 530.5h0M188.2 523.9h0M194.3 517.8h0M196.3 530.4h0M185.2 526.6h0M190.5 523.5h0M192.9 531.9h0M187.2 526.4h0M196.6 522.3h0M185.4 527.9h0M186.8 526.8h0M195.1 522.3h0M196.2 531.5h0M193.8 520h0M197 524.2h0M190.7 530.6h0M192 514h0M184.6 528.6h0M194.2 530.4h0M186.3 533h0M188.7 532.9h0M187.8 525.5h0M186.2 531.3h0M195.7 521.5h0M194.9 519.2h0M188.7 524.1h0M194.6 520.7h0M193.7 526h0M195.8 521.9h0M192.4 527.5h0M190.5 525.3h0M196.6 522.5h0M192.7 521.5h0M188.9 529.9h0M186 532.2h0M196.9 524.9h0M196.6 524.3h0M195.5 523.7h0M192.9 525.4h0M189.1 527.1h0M195.6 516.8h0M186.5 527.4h0M190.4 522.9h0M190.8 526.8h0M194.4 532.7h0M194.9 517.3h0M187.6 528.5h0M191.2 520.2h0M189.1 528.8h0M189.2 527.3h0M193.9 521.3h0M189.8 530.1h0M192.4 526h0M188 524.6h0M186.5 529.5h0M185.8 527h0M190.2 523.1h0M184.6 526.4h0M194.1 523.5h0M195.3 514.7h0M184.5 526.9h0M192.5 531.9h0M189.2 523.3h0M192.5 517.7h0M185.2 524.7h0M186.2 526.2h0M186.5 527.9h0M192.5 519.1h0M195.1 518.9h0M194.8 530.1h0M193.6 529.6h0M193 514.9h0M189.5 532.6h0M185.6 523.5h0M195 519.1h0M195 524.9h0M186 529.6h0M185.7 523.5h0M194.3 524h0M191 528.5h0M193.4 532.5h0M185 533h0M187.1 529.1h0M194.3 521.5h0M187.8 527.8h0M186.1 527.7h0M193.7 516.6h0M185.8 530.7h0M195.8 524.2h0M194.7 519.3h0M192.3 530.6h0M196.1 528.5h0M188.4 524.8h0M196.8 526.8h0M187.6 525.1h0M196.1 521.1h0M193.8 532.9h0M196 521h0M186.9 532.3h0M195.9 519.8h0M194.2 515.7h0M192.9 519h0M185.2 530.7h0M196.3 523.2h0M191.8 517.7h0M195.8 520.3h0M190.8 528.9h0M185.3 528.8h0M188.2 523.3h0M196.1 526.5h0M196.9 524.3h0M191.9 531.4h0M190.4 531.1h0M185.1 524.7h0M190.4 529.4h0M195.2 522h0M197 527h0M188.3 523.8h0M189.3 522h0M185.4 523.7h0M192.2 529.7h0M186.1 532.9h0M187.5 531h0M184.9 526.5h0M195.4 528.7h0M187.1 532.5h0M192.4 521.8h0M195.5 532.8h0M186.2 524.1h0M187.6 531.2h0M185.7 523.5h0M187.3 522.6h0M193.4 522.4h0M191.2 526.8h0M196.9 526.1h0M186.5 531.8h0M189.6 520.5h0M194.6 522.8h0M186.1 524.1h0M193.8 517.9h0M186.3 529.5h0M194.1 517.7h0M192.5 518.9h0M191.5 525h0M193.7 529.1h0M190.6 532h0M194.9 525.6h0M195.4 526.1h0M190.2 520.6h0M195.6 517.2h0M188.5 531.5h0M188.3 523.6h0M194.4 518.2h0M188.7 522.5h0M185.5 524.8h0M192.3 525.2h0M187.5 523h0M187.7 518.8h0M191.1 515.4h0M192.9 525.2h0M189.4 528.4h0M188.7 524.3h0M196.3 520.9h0M189 521.2h0M189.5 528.1h0M190.9 530.4h0M190.7 532.7h0M193.5 522.7h0M189.3 524.7h0M193.9 527.2h0M185.1 521.8h0M186.2 527.3h0M189.6 520.9h0M191.5 523.3h0M188.1 530.4h0M186.9 528.9h0M189.1 520.7h0M188.1 521.7h0M185.6 532.6h0M186 527.2h0M188.2 530.6h0M188.3 527h0M197.1 531.8h0M194.4 532.1h0M190.6 525.2h0M186.3 523.1h0M191.4 531.4h0M194.2 522.5h0M186.8 531.3h0M194.4 517.6h0M189.1 529.5h0M186.3 525.5h0M184.5 528.7h0M189.4 529.8h0M191.3 525.1h0M186.9 529.1h0M186.2 525.4h0M185.7 528.7h0M193.7 522.1h0M191.8 527.5h0M196 532.5h0M193 526.1h0M189.2 522.7h0M185 532.6h0M185.1 529.3h0M194.8 532.3h0M191.9 525.7h0M194.4 515.4h0M194 529.6h0M191.2 519.1h0M195.2 522.3h0M191.1 524.5h0M196.9 531.1h0M192.9 517.2h0M194.3 533h0M193.1 526.4h0M190.2 519h0M184.9 532.9h0M191.1 522.9h0M192.4 525.3h0M193 512.6h0M193.2 531.5h0M186.4 527.2h0M192 513.3h0M191.3 531.5h0M184.6 526.2h0M194.7 524.1h0M186 523.4h0M192.8 524h0M190.6 532.3h0M195.6 528.1h0M188.2 532.4h0M188.8 524.9h0M188 525.6h0M187.7 532.3h0M187.7 531.2h0M193.8 526.3h0M188.8 528h0M186.9 526.3h0M186.1 526.4h0M188.7 521.8h0M188.1 523.1h0M191.1 515.3h0M188.1 521.9h0M191.2 519.4h0M186.5 529.1h0M193.6 530h0M195.1 517.7h0M195.9 511.7h0M196.2 523.3h0M194.6 529.3h0M196.9 525.1h0M194.2 530h0M189.2 529.5h0M191.3 519.4h0M186.5 526.7h0M190.9 523.5h0M187.9 531.3h0M186.1 529.6h0M185.2 528.1h0M187.5 525.8h0M186.2 523.6h0M194.2 522.7h0M195.9 532.8h0M191.9 526.8h0M185.5 523.9h0M197.1 532.1h0M185 532.5h0M192.1 527.3h0M193.7 529.6h0M190.1 527.5h0M189 520.7h0M185.9 529.7h0M186.9 529.2h0M189.1 532h0M195.9 529.9h0M184.8 524.2h0M195.3 524h0M192.3 521h0M190 524.9h0M188.5 521.5h0M184.7 525.7h0M191.4 521.5h0M189.4 532.5h0M192.1 532.2h0M194.2 517.7h0M192.3 520.4h0M196.5 530.8h0M194.6 529.3h0M190.9 529.7h0M189.1 532.7h0M193.2 515.5h0M194.7 520.8h0M196.4 521.7h0M194.4 516.5h0M187.1 532.4h0M190.7 520.1h0M190.2 532.5h0M192.4 516.8h0M192 528h0M195.9 519.4h0M191.6 522.5h0M195.3 515.1h0M191.6 520.6h0M190.8 518.6h0M185.7 526.9h0M189.8 525.4h0M192.6 529.8h0M192.5 520.9h0M195.1 509.8h0M188.9 526.5h0M186.7 521.5h0M193.4 526.9h0M196.6 521.2h0M195.9 520.6h0M188.4 524.3h0M195.6 513.7h0M194.6 527h0M185.8 528.4h0M188.1 527.6h0M196.6 522.6h0M197 529.5h0M190.4 532.1h0M194.8 521.2h0M193.1 530.1h0M196.6 530.6h0M189.7 528.7h0M189.9 523.5h0M190.9 516.9h0M189.2 527.9h0M194.6 518.4h0M185.7 524.2h0M185.4 529.7h0M185 528h0M196.2 524.8h0M192.2 527.7h0M189 524h0M193.3 518.2h0M185 529.6h0M190.6 527.3h0M191.8 522.6h0M195 525.7h0M191.5 526.2h0M195.8 526.6h0M192.8 519.4h0M196.6 529.1h0M190.5 523.9h0M188.6 526.8h0M191.7 532.9h0M189.6 520.3h0M193.5 515.7h0M194.2 523.8h0M195.7 520.3h0M184.8 532.1h0M187 530.7h0M189.1 529.5h0M186.5 531.7h0M191.6 519.2h0M191.8 517.7h0M187.9 530.8h0M187.6 523.7h0M194.3 522.2h0M193.2 532.8h0M185.3 524.3h0M185.8 529.8h0M188.2 528.4h0M191.3 525.5h0M197.1 528.8h0M193.6 517.9h0M195.8 522.5h0M196.4 529h0M193.6 515.8h0M190.7 518.6h0M185.5 528.6h0M189.9 523.4h0M196.6 532.7h0M196.9 532.5h0M191.6 532.1h0M192.5 518.8h0M189.3 528.1h0M194.1 529.2h0M194.6 526.8h0M193 527.7h0M194.5 529.4h0M193.6 528.1h0M193.1 516.1h0M186.4 531.1h0M187.6 523.7h0M194.5 529.4h0M191.8 525.9h0M196.4 531h0M193.7 530.5h0M192.4 531.3h0M184.8 526.3h0M192.3 527.3h0M186.9 524.6h0M186.2 526.8h0M193.7 529.6h0M185.6 525.6h0M186.7 524.7h0M187.4 531.6h0M196.6 521.6h0M195 519h0M196.6 526.8h0M189.3 521.5h0M194.5 523.7h0M197 532.2h0M194.9 529.4h0M184.9 529.4h0M187.5 525.8h0M197.1 526.6h0M194.9 524.4h0M187.5 530.2h0M189.2 522.2h0M196.2 532.9h0M191.7 526.9h0M194.9 525h0M185.8 531.7h0M186.2 529.6h0M189.8 527.3h0M186.6 531.3h0M196.7 533h0M193.3 526.6h0M191.2 519.5h0M192.7 529h0M194.6 526.5h0M197.1 527.1h0M192.2 529.8h0M182.9 531.7h0M185.7 528.8h0M184.5 531.1h0M183 529.3h0M185.7 529.2h0M184.6 527.9h0M182 528.1h0M183.5 530.5h0M183.9 529.1h0M186.4 532h0M183 532.5h0M183.7 529h0M186.6 527.9h0M183.6 528.8h0M185.8 530.1h0M181.8 529.5h0M183.4 528.9h0M182.3 529.8h0M186.1 531h0M184.3 528.2h0M182.5 530.9h0M181.8 527.9h0M183.6 528.5h0M181.8 528.6h0M183.9 528.3h0M185.2 527.5h0M183 527.4h0M182.2 530.2h0M183.3 530.9h0M182.2 528.9h0M185.8 527.6h0M181.8 529.5h0M185.3 532.9h0M183.1 532.8h0M185.2 530.4h0M185.5 528.6h0M182 528h0M185.4 530.9h0M186.4 530.1h0M184.4 530.1h0M184.8 532.5h0M183 533h0M182.3 530.1h0M185.3 530.2h0M185.7 528.2h0M182.4 532h0M181.9 528.2h0M183.2 531.5h0M184.7 530h0M183.3 529h0M186.5 532.2h0M185.6 527.7h0M186.2 527.6h0M184.5 527.6h0M185.4 533h0M186.4 529.4h0M181.5 529.2h0M184.4 528.1h0M182.3 531.9h0M185.6 532.3h0M190.7 531.7h0M168.9 532.7h0M161.1 531.5h0M162.2 532.8h0M184.2 532h0M179.8 532.6h0M188.3 532.7h0M190.6 532.8h0M158.6 531.5h0M195.6 532.8h0M193.5 531.6h0M195.6 532.7h0M189.1 532.5h0M173.8 532.7h0M168.4 531.5h0M194.8 532.9h0M175.2 531.7h0M177.9 532.5h0M186.3 531.5h0M185.9 531.8h0M186.1 532.6h0M183.3 532.2h0M178.8 532.8h0M189 532.4h0M174.3 533h0M169 531.9h0M194.7 532.1h0M192.2 532.6h0M187.1 533h0M165.2 531.6h0M160.3 532.8h0M195.2 532.5h0M196 533h0M169.4 532.4h0M183.6 532.4h0M159.3 532.2h0M174.2 532.5h0M186.5 532.6h0M172.9 531.8h0M190.6 532.6h0M194.8 532.5h0M164 532.2h0M185.9 532.6h0M173.5 531.9h0M165.5 532.9h0M172.4 532.5h0M177.7 532.4h0M194.2 532.6h0M189 531.7h0M158.7 532.5h0M160.8 532.4h0M198.1 532.3h0M180.7 531.7h0M182.8 532.7h0M172.6 531.7h0M191.6 531.5h0M180.7 532.6h0M182.1 532.7h0M168.4 531.8h0M189.4 532.5h0M167 532.6h0M164 532.9h0M182.3 532.1h0M191.6 531.6h0M170.2 531.6h0M170.5 532.1h0M164.5 532.3h0M182.5 531.5h0M189.2 532h0M163.5 531.5h0M179.8 531.9h0M180 531.9h0M162.8 531.9h0M179.6 532.8h0M169.3 532.6h0M166.4 532.9h0M197.7 531.6h0M162.1 531.5h0M172.2 532.1h0M183.1 532.8h0M174.6 532.8h0M159.2 532.3h0M193 532.4h0M168 532.7h0M174.9 532.9h0M194.7 532h0M197.1 531.8h0M194.9 532.9h0M174.9 532.5h0M188.1 532.5h0M174.6 477.6h0M175.1 475.9h0M176.4 501.5h0M177.7 502.2h0M177.3 504.3h0M176 507.8h0M178.6 509.9h0M179.5 512h0M175.5 511.3h0M173.3 509.9h0M188.9 504.3h0M192 506.4h0M195.6 505h0M189.4 509.2h0M192.9 511.3h0M187.6 514.1h0M179.1 514.1h0M194.7 514.1h0M191.2 513.4h0M172.4 513.4h0M174.2 516.2h0" stroke="#111" stroke-width="1.9" stroke-linecap="round" fill="none"/>
<text x="181.8" y="483.8" font-size="5" fill="#1a1a1a" text-anchor="middle" stroke="#1a1a1a" stroke-width="0.18">HHIP</text>
<text x="141.9" y="488" font-size="5" fill="#1a1a1a" text-anchor="middle" stroke="#1a1a1a" stroke-width="0.18">CYP1A1</text>
<text x="159.1" y="493.4" font-size="5" fill="#1a1a1a" text-anchor="middle" stroke="#1a1a1a" stroke-width="0.18">IL34</text>
<text x="173.8" y="492.4" font-size="5" fill="#1a1a1a" text-anchor="middle" stroke="#1a1a1a" stroke-width="0.18">UPG</text>
<text x="128.9" y="502.3" font-size="5" fill="#1a1a1a" text-anchor="middle" stroke="#1a1a1a" stroke-width="0.18">CRYAB</text>
<text x="147" y="501" font-size="5" fill="#1a1a1a" text-anchor="middle" stroke="#1a1a1a" stroke-width="0.18">PDK4</text>
<text x="170.9" y="502.3" font-size="5" fill="#1a1a1a" text-anchor="middle" stroke="#1a1a1a" stroke-width="0.18">EHF</text>
<text x="210.1" y="503.9" font-size="5" fill="#1a1a1a" text-anchor="middle" stroke="#1a1a1a" stroke-width="0.18">GCNT3</text>
<text x="123.5" y="510" font-size="5" fill="#1a1a1a" text-anchor="middle" stroke="#1a1a1a" stroke-width="0.18">ANGPT2</text>
<text x="143.9" y="510" font-size="5" fill="#1a1a1a" text-anchor="middle" stroke="#1a1a1a" stroke-width="0.18">ICAM4</text>
<text x="160.4" y="510" font-size="5" fill="#1a1a1a" text-anchor="middle" stroke="#1a1a1a" stroke-width="0.18">LRARB</text>
<text x="178.3" y="510" font-size="5" fill="#1a1a1a" text-anchor="middle" stroke="#1a1a1a" stroke-width="0.18">EDN1</text>
<text x="202.8" y="512.5" font-size="5" fill="#1a1a1a" text-anchor="middle" stroke="#1a1a1a" stroke-width="0.18">IL20RB</text>
<text x="136.8" y="517.3" font-size="5" fill="#1a1a1a" text-anchor="middle" stroke="#1a1a1a" stroke-width="0.18">HSPA6</text>
<text x="144.5" y="525.2" font-size="5" fill="#1a1a1a" text-anchor="middle" stroke="#1a1a1a" stroke-width="0.18">KRT81</text>
<text x="163.9" y="522.1" font-size="5" fill="#1a1a1a" text-anchor="middle" stroke="#1a1a1a" stroke-width="0.18">CNAI</text>
<text x="162" y="530" font-size="5" fill="#1a1a1a" text-anchor="middle" stroke="#1a1a1a" stroke-width="0.18">ESAM</text>
<line x1="170.2" y1="492.2" x2="175.6" y2="483" stroke="#333" stroke-width="0.4"/>
<line x1="134" y1="508.6" x2="147.5" y2="511.8" stroke="#333" stroke-width="0.4"/>
<line x1="142.4" y1="515.4" x2="148.5" y2="516.4" stroke="#333" stroke-width="0.4"/>
<line x1="160.5" y1="522" x2="164.5" y2="527.5" stroke="#333" stroke-width="0.4"/>
<text x="339.2" y="320.6" font-size="9" fill="#cf1f2e" text-anchor="end" textLength="179.4" lengthAdjust="spacingAndGlyphs" stroke="#cf1f2e" stroke-width="0.2">Genes with pvaladj of 0 with log2FoldChange:</text>
<text x="339.2" y="331.5" font-size="9" fill="#cf1f2e" text-anchor="end" textLength="67.3" lengthAdjust="spacingAndGlyphs" stroke="#cf1f2e" stroke-width="0.2">PLAU (-1.786358)</text>
<line x1="422.75" y1="311.8" x2="422.75" y2="543.6" stroke="#f3f3f3" stroke-width="0.5"/>
<line x1="467.45" y1="311.8" x2="467.45" y2="543.6" stroke="#f3f3f3" stroke-width="0.5"/>
<line x1="512.15" y1="311.8" x2="512.15" y2="543.6" stroke="#f3f3f3" stroke-width="0.5"/>
<line x1="556.85" y1="311.8" x2="556.85" y2="543.6" stroke="#f3f3f3" stroke-width="0.5"/>
<line x1="601.55" y1="311.8" x2="601.55" y2="543.6" stroke="#f3f3f3" stroke-width="0.5"/>
<line x1="646.25" y1="311.8" x2="646.25" y2="543.6" stroke="#f3f3f3" stroke-width="0.5"/>
<line x1="445.1" y1="311.8" x2="445.1" y2="543.6" stroke="#ebebeb" stroke-width="0.7"/>
<line x1="489.8" y1="311.8" x2="489.8" y2="543.6" stroke="#ebebeb" stroke-width="0.7"/>
<line x1="534.5" y1="311.8" x2="534.5" y2="543.6" stroke="#ebebeb" stroke-width="0.7"/>
<line x1="579.2" y1="311.8" x2="579.2" y2="543.6" stroke="#ebebeb" stroke-width="0.7"/>
<line x1="623.9" y1="311.8" x2="623.9" y2="543.6" stroke="#ebebeb" stroke-width="0.7"/>
<line x1="413.81" y1="497.95" x2="651.61" y2="497.95" stroke="#f3f3f3" stroke-width="0.5"/>
<line x1="413.81" y1="427.85" x2="651.61" y2="427.85" stroke="#f3f3f3" stroke-width="0.5"/>
<line x1="413.81" y1="357.75" x2="651.61" y2="357.75" stroke="#f3f3f3" stroke-width="0.5"/>
<line x1="413.81" y1="533" x2="651.61" y2="533" stroke="#ebebeb" stroke-width="0.7"/>
<text x="412.21" y="534.8" font-size="5" fill="#444" text-anchor="end" stroke="#444" stroke-width="0.18">0</text>
<line x1="413.81" y1="462.9" x2="651.61" y2="462.9" stroke="#ebebeb" stroke-width="0.7"/>
<text x="412.21" y="464.7" font-size="5" fill="#444" text-anchor="end" stroke="#444" stroke-width="0.18">100</text>
<line x1="413.81" y1="392.8" x2="651.61" y2="392.8" stroke="#ebebeb" stroke-width="0.7"/>
<text x="412.21" y="394.6" font-size="5" fill="#444" text-anchor="end" stroke="#444" stroke-width="0.18">200</text>
<line x1="413.81" y1="322.7" x2="651.61" y2="322.7" stroke="#ebebeb" stroke-width="0.7"/>
<text x="412.21" y="324.5" font-size="5" fill="#444" text-anchor="end" stroke="#444" stroke-width="0.18">300</text>
<text x="445.1" y="550" font-size="5" fill="#444" text-anchor="middle" stroke="#444" stroke-width="0.18">-10</text>
<text x="489.8" y="550" font-size="5" fill="#444" text-anchor="middle" stroke="#444" stroke-width="0.18">-5</text>
<text x="534.5" y="550" font-size="5" fill="#444" text-anchor="middle" stroke="#444" stroke-width="0.18">0</text>
<text x="579.2" y="550" font-size="5" fill="#444" text-anchor="middle" stroke="#444" stroke-width="0.18">5</text>
<text x="623.9" y="550" font-size="5" fill="#444" text-anchor="middle" stroke="#444" stroke-width="0.18">10</text>
<text x="533.9" y="557.6" font-size="6" fill="#222" text-anchor="middle" font-weight="bold" textLength="54" lengthAdjust="spacingAndGlyphs" stroke="#222" stroke-width="0.21">Log2 Fold Change</text>
<text x="400.5" y="431" font-size="6.2" fill="#333" text-anchor="middle" textLength="73" lengthAdjust="spacingAndGlyphs" transform="rotate(-90 400.5 431)" stroke="#333" stroke-width="0.22">-Log10 Adjusted P-value</text>
<path d="M514.6 518.1h0M509.2 527.9h0M513.1 519.2h0M508.1 527.8h0M505.1 529.7h0M519.3 520.8h0M503.4 525.6h0M513.7 526.6h0M519.1 524.3h0M508.2 530.3h0M516.6 528.9h0M507 530.8h0M505.4 532.8h0M505.9 529.9h0M510.1 532.2h0M516.5 524.8h0M517.5 532h0M514.9 531.1h0M513 529h0M514.3 526.5h0M518.8 523.5h0M510.6 524.5h0M506.9 526.6h0M514.2 531.2h0M516.7 532.4h0M503.5 532h0M513.1 525.9h0M510 528.1h0M519.5 512.2h0M516.3 530.4h0M512.7 522.8h0M518.4 514.7h0M511.3 530.7h0M510.4 524.8h0M519.2 524.8h0M512.2 525.8h0M511.8 527.5h0M507.5 532.8h0M511.6 531.4h0M506.7 524h0M515.9 529.1h0M519.7 532.4h0M510.6 522.9h0M519.4 518.7h0M507.4 529h0M504.6 532.9h0M518.1 533h0M505.3 532.8h0M516.1 524.6h0M508.1 530.5h0M519.2 531.3h0M504.5 528.9h0M505.6 529.5h0M508.8 533h0M515.4 522.2h0M510 532.4h0M519.5 530.8h0M508.7 530.8h0M508.5 531.9h0M518.8 532.6h0M517.7 525.9h0M503.5 532.6h0M515.4 526.3h0M508.6 531.5h0M518.9 520.6h0M515.4 517.9h0M508.4 531.2h0M517.8 527.8h0M512.2 523.1h0M519.7 515.6h0M516.9 527.9h0M516.1 531.4h0M508.8 532.1h0M515.7 517.1h0M516.7 530.8h0M515.4 529.8h0M517.6 527h0M508.7 531.5h0M505 531.3h0M510.4 529.5h0M515.4 517.9h0M517.5 525.2h0M510.8 532.3h0M514.4 532.8h0M504.1 529h0M506.9 525.5h0M515.6 526.9h0M519 532.2h0M509.9 529.1h0M519.3 532.6h0M514.6 518.8h0M506.5 527.6h0M515.8 529.6h0M513.6 519.3h0M512.6 528.9h0M514 532.9h0M517.4 532.8h0M519.5 513.2h0M517.5 517h0M514.8 530.5h0M514.6 524.2h0M506.4 526.7h0M509.8 529h0M509.1 531.5h0M518.3 520h0M504.3 527.6h0M518.9 521.5h0M515.9 530.9h0M516 529.3h0M518.8 521.5h0M510.1 523.3h0M517 531.6h0M508 533h0M516.9 532.6h0M509.2 526.2h0M509.8 531.4h0M504.4 532.9h0M514.2 532.3h0M519.3 532.9h0M510 532.2h0M518.5 520.4h0M505.7 532.9h0M504.9 527.7h0M516.6 524.2h0M512.9 528.7h0M514.5 532.5h0M517.2 520.5h0M515.7 531.3h0M508 523h0M519.1 520.1h0M517.1 527.6h0M518.3 522.1h0M512.1 525.5h0M504.8 531.1h0M517.9 527h0M513.9 526.8h0M519.1 531.4h0M515.7 528.2h0M508.5 532.9h0M514.7 531.9h0M514.3 528.9h0M511.6 522h0M505.1 529.6h0M511.7 532.3h0M511.4 522.6h0M507.7 527.5h0M509.1 529.1h0M513.9 532.8h0M517.4 529h0M507.9 532.2h0M519.6 514h0M512.6 531.2h0M516.1 532.8h0M518 533h0M503.9 531.6h0M512.4 533h0M509.4 522.1h0M517 532.8h0M518.3 527.2h0M519.6 529.6h0M509.9 526.7h0M512.9 531.1h0M513.5 525.6h0M509.9 524.4h0M516.6 521.4h0M515.4 531.4h0M516.1 531.9h0M506.4 529.9h0M507.1 532.6h0M514.5 517.5h0M504.1 530.8h0M505.1 529.8h0M514.2 527.9h0M503.6 528.6h0M513.2 526.9h0M515.5 518.3h0M512 521.1h0M507.2 530.2h0M507.2 531h0M518.6 513.8h0M512.6 531.2h0M510.1 523h0M512.1 532h0M517.7 526.5h0M511.9 521.4h0M516.6 533h0M519.4 527.1h0M507.3 524.5h0M511.8 525.6h0M516.7 531.7h0M519.6 524.7h0M504.2 530h0M502.9 525.9h0M515.5 529.4h0M517.3 520h0M516 531.3h0M505.2 526.2h0M518.4 529.4h0M511.2 530h0M509.3 523h0M513.6 524.2h0M514.6 532.7h0M504.6 532.6h0M513 526h0M519.7 515.2h0M516.5 529.1h0M510.5 526.1h0M510.5 525h0M516.4 532.4h0M517.3 532.6h0M510 521.7h0M515.3 519.8h0M518.9 530.6h0M517.2 529.1h0M504.4 532.8h0M506 528.6h0M515.2 520.1h0M509.6 525.6h0M509.1 531.3h0M515.4 529.2h0M519.7 522.7h0M502.9 511.9h0M517.2 528.7h0M505.7 520.4h0M496.9 528.5h0M515.1 504.5h0M500.1 528.4h0M503.8 516.7h0M499.5 513.8h0M498.9 524.6h0M513.8 496.9h0M512 502.5h0M510.2 527.6h0M507.7 515.7h0M510.2 506.7h0M510.4 522.2h0M509.9 517.4h0M494 530.2h0M511.1 509.2h0M507.9 510.4h0M509.6 522.9h0M503.1 514.1h0M518.2 504.6h0M502.4 517.5h0M509.7 501.1h0M493.7 525h0M508.8 505h0M511.8 532.9h0M513.5 515.5h0M503 531.2h0M507.2 517.7h0M509.1 532.8h0M500.1 520.4h0M510.5 508.2h0M507.6 527.1h0M515.7 527h0M496.6 528.6h0M508.5 528.3h0M518.9 526.1h0M499.1 521.7h0M499.9 528.9h0M507.6 526.6h0M512.8 529.8h0M512.6 530.5h0M511.3 497.4h0M515.5 495.7h0M510.6 529.4h0M506.5 510.8h0M499.5 521.3h0M505.3 507.4h0M506 525.8h0M503.9 520.8h0M518.8 513.2h0M514.5 515.7h0M497.6 524.4h0M511.6 513.7h0M504.6 527.7h0M505.5 532.6h0M500.5 528.6h0M509.8 501.5h0M513.7 516.1h0M514 518.9h0M496 524h0M513.8 510.2h0M516.8 502.8h0M516.3 532.1h0M519.7 510.6h0M511.5 513.1h0M503.9 527.1h0M517.3 511.1h0M519 527h0M511.4 513.7h0M495.5 525.4h0M506.9 522.2h0M501.3 521.4h0M513.2 500h0M516.6 493.2h0M519.3 505.4h0M504.2 520.6h0M497.6 524.8h0M504.8 520.2h0M514.7 531.8h0M517.3 532.3h0M509.3 527.8h0M495.6 527.5h0M503.6 531.9h0M516.2 526h0M518.5 510.2h0M506.1 532.1h0M516.8 530.4h0M515.2 515.1h0M508.6 531.6h0M507.7 532.8h0M515 507.3h0M499.7 524.5h0M501.1 518.7h0M501.4 530.5h0M504.3 507.1h0M516.1 520h0M515.6 521.8h0M501.4 513.5h0M495.5 522.8h0M518.9 531.1h0M516.9 502.8h0M495.8 527.9h0M503.6 525.2h0M506.8 523.3h0M493.9 530.8h0M504.4 517.2h0M513.6 506.1h0M512.4 500.4h0M510.8 524.5h0M495.6 523.7h0M510.9 529.2h0M509.8 500.1h0M511.8 524.5h0M515.9 520.4h0M494.3 532.5h0M519 530.8h0M515.4 532.5h0M507.8 526.3h0M505.9 531.5h0M507.3 510.6h0M510.1 530.2h0M515.8 499.1h0M508.6 523.6h0M494.4 532.6h0M506.6 531h0M519.1 508.2h0M505 518.6h0M500.8 513.8h0M509.6 510.5h0M501.2 524.3h0M514 521.2h0M496.8 526.9h0M516.2 517.5h0M519.3 512.1h0M517.4 532.4h0M512.3 516.9h0M506.2 506.7h0M498 526h0M504.9 506.6h0M515.3 527.6h0M499.4 532.8h0M501.1 513h0M517.2 501.7h0M507.3 520.3h0M511.2 505h0M493.6 531.7h0M511.3 529.8h0M561.7 532.8h0M562.5 531.6h0M551.2 527.1h0M556.6 519.8h0M554.4 520h0M560.7 522.9h0M553 526.6h0M549.4 527.5h0M553 531.7h0M559.7 530.6h0M550.5 531.7h0M549.5 520.6h0M555.1 526.4h0M553.7 518.4h0M553.2 526.7h0M557.4 521.2h0M560.1 523.8h0M551.1 517.5h0M559.5 530h0M559.2 522.2h0M558.2 524.5h0M559.8 523.6h0M558.8 532.4h0M551.3 531.7h0M554.3 532.4h0M555.4 520h0M562.7 532.8h0M557.2 531.7h0M560.2 532.8h0M550.2 528.6h0M549.3 522.3h0M551.3 521.9h0M562 529.2h0M554.4 518.2h0M552.5 519.3h0M557.7 533h0M552.3 522.2h0M549.7 518.6h0M561.2 525.9h0M559.3 526.9h0M471.9 527.4h0M475.5 529.5h0M478.2 519h0M480.9 520.4h0M485.3 530.9h0M488 528.1h0M491.6 524.6h0M495.2 530.2h0M493.4 520.4h0M497 515.5h0M499.6 473.4h0M505 489.5h0M507.7 489.5h0M511.3 485.3h0M514.8 486.7h0M517.5 481.1h0M512.1 476.9h0M513.9 468.5h0M518.4 469.9h0M516.6 457.3h0M519.3 454.5h0M513.9 460.8h0M554.2 469.9h0M557.7 485.3h0M562.2 499.4h0M564.9 490.9h0M567.6 494.4h0M552.4 492.3h0M556.9 505h0M559.5 512h0M564 527.4h0M560.4 530.2h0M505 355.6h0M561.3 352.1h0M551.5 357.8h0M561.3 385.8h0M523.8 404.7h0M512.1 415.2h0M514.8 422.2h0M521.1 420.8h0M564.9 423.6h0M509.5 426.4h0M494.3 432.8h0M480.9 431.4h0M518.4 441.2h0M513 446.8h0M520.2 450.3h0M547.9 451.7h0M517.5 455.9h0M523.8 458h0M552.4 459.4h0" stroke="#ea7fb0" stroke-width="2.1" stroke-linecap="round" fill="none"/>
<path d="M519.6 530h0M521.7 516.8h0M528.2 532.8h0M531.2 530.8h0M526.8 524.5h0M524.2 520.5h0M519.5 531.6h0M523.2 522.1h0M522 523.6h0M528.7 513.3h0M522.4 505.5h0M527.6 531h0M519.7 526.8h0M522.9 530.2h0M528.1 517.8h0M531.6 528.9h0M523.8 523.1h0M522.5 513.3h0M532.5 532.6h0M524.7 522.7h0M520.8 518.6h0M533.3 532.2h0M529.1 516.5h0M523.3 501.9h0M529.4 522.3h0M522.4 525.2h0M521.2 506.8h0M530.3 532.1h0M526.5 528h0M529.6 524.1h0M532.5 529h0M521.1 523h0M527.1 509.6h0M524.6 527.8h0M523.5 525.6h0M521.9 523.4h0M523 517h0M531.6 524.6h0M521.9 516.2h0M528.3 530.3h0M526.5 528.3h0M524.5 523.4h0M530.3 530.3h0M526.6 517.9h0M524 501.3h0M524.1 523h0M528.6 523.8h0M529 530.6h0M521.8 510.9h0M524.8 505.7h0M522.8 526.1h0M531.1 529.5h0M521.3 527.4h0M529.7 529.2h0M526.8 511.2h0M527.5 515h0M533.1 532h0M531.3 527.9h0M522.4 529.5h0M524 529.1h0M529.7 524.6h0M520.3 519.2h0M527.3 522.7h0M521.7 519.6h0M532 528.9h0M525.6 515.7h0M526.8 517.1h0M522.4 529h0M519.7 527.8h0M519.5 532.3h0M527.2 521.1h0M531.8 531.5h0M521.3 529h0M526.1 525.6h0M525.6 513.1h0M523.9 510.9h0M519.8 528.6h0M531.9 525.5h0M527 507.4h0M522.9 524.3h0M525.5 518.6h0M530.4 527.5h0M520.3 521.5h0M522.7 504.4h0M522.6 524.5h0M521.6 524.8h0M527.4 527.1h0M520.3 523.5h0M529.2 531.4h0M525.2 531.4h0M519.8 530.4h0M523.5 503.2h0M519.7 528.9h0M529.2 526.1h0M526.2 526.9h0M523.1 531.7h0M531.8 532.8h0M521.6 511.5h0M525.6 518.7h0M523.6 528.3h0M530.1 531.6h0M523.6 507.6h0M523.6 500.1h0M522.1 517.4h0M526.6 520.3h0M529.7 532.5h0M526.7 512.2h0M520.4 523.9h0M525.4 521.7h0M526.6 516.8h0M528.7 515.4h0M528.1 510.8h0M528.2 527.8h0M521.8 531.3h0M523.3 529.7h0M528.5 519.1h0M527.5 524.5h0M525.7 526.3h0M532.1 532.9h0M523.9 514.2h0M522.2 506.3h0M525.9 523.2h0M520.6 527.8h0M527.3 526.7h0M520.3 524.1h0M523.7 503.9h0M528.6 518.7h0M531.6 525.8h0M524 514.5h0M523.2 527.2h0M522.5 530.1h0M522.9 526.6h0M528.3 528.3h0M520.3 526.6h0M522.4 511.6h0M522.7 515.8h0M522.1 518.8h0M531.2 530.2h0M526.5 521.9h0M520.7 532.7h0M530.8 529.4h0M528.5 525.2h0M530.7 531h0M525.9 518h0M530 532.7h0M524.4 518.4h0M527.3 530h0M526.7 514.9h0M529.1 529.5h0M525.4 524.9h0M524.8 522.4h0M532.5 532.9h0M532.6 532.9h0M520.8 528.6h0M523.5 503.9h0M530.8 522h0M524.8 532.7h0M527.7 511.8h0M521.2 508.8h0M519.5 531h0M526.1 507.1h0M531.3 532.7h0M526.1 527h0M525.4 531.5h0M524.4 520.6h0M519.5 531.4h0M531.6 532.6h0M532.5 530.4h0M522.6 501.6h0M525.8 521.2h0M524.6 504.5h0M521.5 527.5h0M523.5 531.4h0M530.8 527.7h0M527.4 511.1h0M526.1 526h0M526.5 520.2h0M523.7 526h0M524.4 509.2h0M522 501.8h0M522.9 525.1h0M521.5 522.2h0M524.6 511.4h0M531.7 531.1h0M530.3 529.2h0M525 529.7h0M531.6 530h0M528.7 532.6h0M528.6 529.1h0M525.5 513.5h0M522.1 517.4h0M530.7 531.3h0M525.7 528.4h0M521.7 519h0M525.6 514.5h0M531 525.6h0M524.1 517.6h0M528.3 515.4h0M528.5 523.2h0M521.6 506.9h0M523.4 520.3h0M531.5 531.3h0M532 531.5h0M521 520h0M530 527.6h0M530.8 528.7h0M530.3 531.8h0M523.5 529.6h0M529.2 525.2h0M528.1 528.4h0M529.2 515h0M520.8 525.9h0M531.2 524.4h0M531.3 531h0M526.9 531.2h0M525.3 516.2h0M523.2 519.9h0M524.5 530.8h0M520.7 515.9h0M519.5 529.8h0M531.7 524.5h0M529.9 533h0M521.4 524.5h0M522.2 531.5h0M532 526.2h0M529.6 529.4h0M530.9 524h0M524 529.4h0M521.6 521.6h0M530.6 532.3h0M525.3 523.1h0M531.6 531.9h0M528.1 526.6h0M528 514.6h0M530.5 522.3h0M523.6 524.6h0M521.5 526.3h0M521.4 510h0M520.3 530.3h0M530 521.8h0M533.1 531.6h0M520.3 520.2h0M523.5 507h0M519.8 532.8h0M527.4 516.4h0M526.9 519.8h0M527.4 530.3h0M520.6 526.3h0M526.7 527.2h0M522.2 519.9h0M525 525.6h0M532.2 526.6h0M520.3 525.6h0M522.9 523h0M520 532.3h0M520.1 531.7h0M528 531.6h0M531.5 525.7h0M523.3 510.3h0M532.7 532.5h0M526.9 521.6h0M523.8 524.1h0M520.9 516.3h0M522.4 520.5h0M532.2 530.9h0M523.9 500.8h0M527.2 519.1h0M522.7 512.9h0M524.7 516.3h0M524.9 531h0M531.3 526.5h0M532.8 531.7h0M523.4 529.2h0M523.7 522.8h0M522.2 525.6h0M523.6 503.7h0M525.5 508.6h0M520.4 530.2h0M532.7 532.8h0M520.7 522h0M523.5 527.3h0M527.5 518.7h0M522.3 516.8h0M525.6 508h0M520.7 528.5h0M527 532.4h0M530.8 521.8h0M524 507h0M523 501.4h0M522.6 532.9h0M520.7 523.5h0M520.2 519.1h0M527.8 520.3h0M527.7 523.9h0M531.5 526.6h0M525.3 525.3h0M521.7 524.4h0M524.3 530.9h0M532.2 531.4h0M526.6 531.6h0M526.8 516.5h0M520.8 508.4h0M522 525.8h0M529.2 527.6h0M531.3 531h0M523.8 509.7h0M531.1 523.6h0M523.5 515.8h0M525 512.5h0M522.8 505.8h0M528.9 530.2h0M523.8 522.5h0M532.3 530.2h0M527.6 510.6h0M524.9 502.9h0M523.6 532.7h0M521.2 513.2h0M524.7 506.4h0M526.6 514.9h0M524.3 514.3h0M528.7 526.1h0M526 509.1h0M532.2 530.9h0M520.6 514.7h0M525.5 503.7h0M529.6 527.5h0M530.9 527.2h0M528.9 516.2h0M527.1 508.7h0M524.9 522h0M527.9 524.5h0M528.8 523.2h0M529.3 518.7h0M527 509.2h0M529.8 519.9h0M519.8 532.9h0M527.8 526h0M531.3 529.4h0M529.3 529.2h0M527.8 512h0M531.1 529.5h0M525.9 518.3h0M524.2 517.8h0M532.9 529.1h0M523.9 510.1h0M532.6 531.2h0M530.9 524.1h0M531.5 532.4h0M532.1 526h0M522.9 512.8h0M521 517h0M528.8 518.9h0M531 530.2h0M521.4 509h0M519.9 530.9h0M522.9 507.9h0M525.4 507.9h0M528.3 515h0M529.9 519.8h0M523.4 522h0M527.7 519.9h0M529.8 520.6h0M523.7 529.6h0M529.3 521.3h0M523.4 531.5h0M519.9 530.9h0M523.3 526.9h0M520.4 530.5h0M524.3 530.6h0M522.5 519.9h0M530.9 523.2h0M525 529.8h0M523.3 510.9h0M525 515.9h0M529.2 521.6h0M531 532.3h0M523.6 532.2h0M526.4 516.7h0M523.1 531.6h0M525.7 528.8h0M522.4 521.9h0M532.5 531.1h0M528.8 526.4h0M525 529.3h0M522.2 509.1h0M525.3 525.2h0M533.3 530.4h0M523.2 519.5h0M527 529.4h0M525.2 525.2h0M530.3 532h0M533.4 532.4h0M524.1 531h0M531.9 526.7h0M520.7 522h0M524.8 514.4h0M524.1 500.5h0M522.7 506.7h0M523.3 511.9h0M525.3 517.7h0M526.4 516.4h0M520.7 532h0M533 532.1h0M524.4 526.1h0M528 510.6h0M524.9 523.9h0M524.3 532.4h0M521 532h0M524 499.1h0M521.7 517.1h0M522.5 532.1h0M530.7 531.7h0M521.6 508.5h0M523 527.4h0M532.5 532h0M530.6 529.6h0M527 525.7h0M524.2 501.5h0M531.9 531.8h0M529 530.9h0M523.7 531.1h0M528 517h0M529.3 519.8h0M524.8 528.2h0M519.5 531.5h0M532.3 530.3h0M527.6 510.9h0M531.1 525.4h0M527.3 527.9h0M529.4 526.4h0M528.8 529.2h0M532.4 532.2h0M530 519.9h0M521.8 506.6h0M528 519.9h0M523.1 523.1h0M522.9 519.5h0M528 517h0M528.8 526.9h0M524.1 507.7h0M533.1 532.3h0M525.1 525.4h0M533.1 533h0M531.6 526.3h0M524.1 510.6h0M524.5 512.9h0M525.2 504.8h0M525.6 509.2h0M527.1 524.3h0M532.9 532.3h0M531.9 525.2h0M530.9 526.4h0M527.7 510.9h0M525.3 508.1h0M529.7 519.6h0M525.4 513.9h0M521 531.4h0M521.2 511.8h0M524.4 502.9h0M520.8 529.4h0M530.7 528.3h0M522.7 508h0M522.9 500.8h0M523.4 504.1h0M525.9 505.9h0M523.6 501.1h0M523.7 518.6h0M527.8 520.7h0M528.3 518.6h0M523.3 532.8h0M529 522.3h0M526.9 520.8h0M532.2 531.2h0M531.9 531.9h0M528.6 514h0M521.9 509.7h0M523.3 531.5h0M525.3 512.2h0M523.5 500.5h0M519.5 532.3h0M524.2 521.6h0M523.7 532.5h0M522.6 525.6h0M528.3 525.7h0M529 525.3h0M524.2 528.5h0M522.8 503.6h0M525.6 524.6h0M522.7 504.7h0M528.7 519.8h0M530.2 530h0M529.1 532h0M528.2 526.7h0M528.2 528.7h0M524.3 511.4h0M532.4 531.1h0M522 529.8h0M528.3 514h0M519.8 530.6h0M522 503.1h0M521.6 531.4h0M529.6 516.8h0M529.7 531.5h0M525 517.6h0M531.7 526.7h0M520.5 524.5h0M529.8 525h0M528.2 512.1h0M533.2 530.1h0M527 525.9h0M521.9 528.6h0M527.9 515.6h0M531 523.2h0M523.5 522.7h0M522.4 516.5h0M532.6 528.8h0M525.4 528.9h0M530.8 522.6h0M529.6 528.8h0M524.8 515.2h0M532 531.4h0M525.2 531.6h0M519.5 532.3h0M530.3 524h0M525.9 522h0M523.2 507.7h0M526 531.4h0M527.7 509.4h0M520.7 509.5h0M521.1 524.9h0M533.1 529.4h0M522.2 510.8h0M527.5 524.1h0M529.9 523.7h0M522.7 518h0M528.8 521.5h0M526.7 513.6h0M521.6 532h0M520.1 525.5h0M525.3 507.8h0M533 532.6h0M524.6 520.4h0M526.7 508.7h0M527.4 526.2h0M528.2 526.5h0M526.8 530.9h0M526.9 521.3h0M528 520.8h0M527.1 514.4h0M521.6 510.7h0M527.7 517.1h0M524.9 530.9h0M532.1 527.2h0M533.1 531.4h0M531.5 524.9h0M526.8 509.1h0M530.3 531.9h0M521.6 521.6h0M526.6 515.9h0M526.9 510.2h0M530.1 531.8h0M524.2 503.2h0M529.5 532.8h0M527.7 530.6h0M526.2 504.8h0M520.8 513.5h0M525.9 504.6h0M531 532.5h0M527.9 513.6h0M523.4 509.7h0M523.1 527.1h0M524.1 524.1h0M532.9 532.1h0M525.2 518.9h0M528.6 513.2h0M527.6 512.3h0M521.6 513.7h0M522.1 505.9h0M527.3 530.2h0M530.9 527.4h0M526 531.2h0M531.8 529.1h0M531.1 532.4h0M528.4 525.8h0M526.6 516.8h0M530.5 521.2h0M522 506.4h0M521.4 532.8h0M523.7 524.2h0M529.7 524.5h0M524.8 508h0M532.4 529.1h0M528.1 514h0M523.6 498.5h0M522.1 531.9h0M530.5 531.1h0M524.1 516.6h0M521.3 521.4h0M524.3 530.8h0M527.4 522.6h0M521.9 509h0M525 532.4h0M531.4 529.4h0M521 525.8h0M523.1 531.9h0M524.1 528.2h0M522.6 511.9h0M521.9 532.5h0M522.2 524.7h0M522 515.2h0M531.4 525.1h0M525.8 510.4h0M530 523.9h0M530.2 528.1h0M529.4 524.5h0M529.2 520.2h0M520.6 515.2h0M520.1 527.7h0M527.3 512.5h0M520.5 520.4h0M524.2 532h0M524.1 512h0M520.9 511.2h0M520.3 529.8h0M524 531.3h0M532.2 526.3h0M531.8 531.6h0M530.6 529.2h0M523.5 510h0M520.9 532.9h0M532.3 530.9h0M530 527.3h0M521 520.5h0M522.1 531h0M519.8 529.9h0M523.2 522.8h0M532.8 529.2h0M528.8 528.8h0M529.4 521.4h0M526.5 527.3h0M522.5 520.5h0M523.4 503.1h0M525.7 513.6h0M531.7 527.9h0M521.9 524.1h0M532.1 532.8h0M522.7 513.7h0M531 524.1h0M529.1 520.6h0M524.6 531.5h0M527.8 531.7h0M530.1 531.5h0M519.9 522.9h0M522 515.7h0M520.6 512.8h0M519.8 527.9h0M530.8 529.9h0M519.6 532.9h0M520.5 518h0M526.5 508.6h0M527.8 519.8h0M522.5 526.8h0M533.2 529.6h0M525.4 509.2h0M529 528.4h0M522.4 509.5h0M532.9 528.5h0M524.4 531.3h0M523.9 531.1h0M533.4 532.2h0M530.9 530.5h0M532.8 530.8h0M530.6 526h0M529.6 532.1h0M521 524.2h0M531.3 524.2h0M528.8 522h0M520.4 517.1h0M528.2 520h0M530.8 530.6h0M527.6 517.2h0M529.5 531.7h0M529.1 516.5h0M527.7 529.6h0M532.1 532.4h0M522.8 505.2h0M527.3 525.3h0M530.2 524.2h0M521.4 527h0M530.3 522.1h0M520.8 521.3h0M528.9 527.4h0M520.6 525h0M532.3 528.5h0M522.6 505.9h0M528.3 527.4h0M523.3 527.9h0M525 522.7h0M523.5 503.3h0M529.5 525.4h0M548.8 527h0M548.6 524h0M544 509.8h0M545.8 511.7h0M547.2 526.7h0M540.6 525.5h0M548 518.9h0M541.6 518.8h0M537.5 514.4h0M544.5 500.6h0M544 516.3h0M545.5 505.9h0M546.8 525.8h0M542.4 497.5h0M542.4 503.3h0M542.6 502.5h0M536.5 533h0M536.9 527.3h0M540.6 499.5h0M549.5 532.6h0M546.6 521.5h0M546.7 525.1h0M545.8 532.9h0M541.9 521.4h0M539.1 525.2h0M541.3 515.6h0M542.6 506.4h0M546.5 509.3h0M544.4 525.4h0M543.3 518.5h0M538.9 524.6h0M538.9 518.8h0M536.4 527.3h0M541.2 532.9h0M539.4 503.6h0M543.3 531.2h0M543.3 508.5h0M537.5 525.9h0M538.7 519.1h0M546.5 527.8h0M537.6 530.7h0M543.8 531.1h0M542.6 503.4h0M545.7 514h0M535.4 531.6h0M539 519.2h0M537.8 530.6h0M548.6 523.3h0M537 520.7h0M536.4 529.6h0M549.4 529.3h0M541.9 506.7h0M540.8 503.1h0M540 527.3h0M537.7 520.7h0M543 500.3h0M537.7 516.7h0M548.4 524h0M537.2 530.8h0M536.8 528.8h0M545.6 529.4h0M541.6 531.7h0M544.6 530.4h0M546.1 517h0M538.3 516h0M540.4 516.3h0M543 524.3h0M541.2 504.1h0M547.1 515h0M543.2 501.8h0M537.6 513.3h0M536.1 525.5h0M546 523.2h0M546 506.6h0M538 519h0M535.3 531.4h0M536.4 526.2h0M535.7 530.8h0M547.1 527.2h0M548.9 529.4h0M538.2 510.3h0M537.8 520.8h0M548.4 521.3h0M543 526.3h0M542.3 523.2h0M539.9 523.8h0M538.5 532.3h0M545.5 532.7h0M543.2 521h0M544.2 514.2h0M542 503.8h0M543.2 500.8h0M543.4 502h0M547.1 518.3h0M540.1 518h0M536.7 524h0M544.2 505.4h0M536.8 531.6h0M544.2 508.6h0M536.6 532.7h0M540.1 523h0M536.2 532.3h0M538.5 532.8h0M537.7 532.6h0M540.6 507.4h0M544.3 513.5h0M541.9 526.8h0M536.1 531.6h0M548.5 523.5h0M543.2 511.8h0M545.4 507.9h0M539 510.6h0M544.2 524.6h0M539.6 528.6h0M542.9 497.5h0M546 529.1h0M537.3 528.6h0M538 530.4h0M545.2 524h0M543.1 522.8h0M549.2 529.9h0M537.6 517.9h0M539.6 519.9h0M539.6 518.9h0M539.8 523.8h0M537.9 512.1h0M538.6 526.3h0M541.2 529.5h0M538.8 522.6h0M543.4 514.9h0M540.6 510.2h0M545.4 525.8h0M539 516h0M541.2 502.6h0M535.4 531.3h0M540.4 526.8h0M547.1 529.1h0M546 509.6h0M548.9 532.2h0M537.9 531.6h0M540 503.7h0M544.1 528.6h0M537.1 521.3h0M543.9 533h0M543.4 527.2h0M539.7 530.5h0M549.3 531.2h0M543.8 526.9h0M540.7 511h0M545.4 505.1h0M539.1 527h0M541.1 522.9h0M546.4 524.5h0M540.7 516.4h0M543.1 521.4h0M535.4 530.7h0M537.2 518.6h0M539.1 526.6h0M542.7 499.6h0M540.8 517h0M541.2 529.6h0M539.6 504.8h0M548.3 530.1h0M548 532.8h0M545.1 532.4h0M541.4 518.6h0M541.5 497h0M540.4 532.6h0M537.2 520.9h0M537.5 532.2h0M538.4 507.9h0M541.6 528.2h0M544.3 521.3h0M543 496.5h0M544.8 516.4h0M549.5 531.5h0M541.7 500.2h0M548.7 526h0M540.6 520.2h0M535.4 532.3h0M545.8 519.9h0M547 518.7h0M543.1 504.3h0M542.3 508.6h0M542.2 520.9h0M545.7 531.4h0M549.1 526.4h0M546.6 522.4h0M541.7 518.6h0M541.8 525.6h0M546.1 509.5h0M542.3 501.1h0M539.6 506.6h0M549 528.1h0M548.8 526.5h0M544.8 518.4h0M536.3 531.9h0M546.5 529.2h0M544.7 528.6h0M545.5 504.1h0M543.8 532h0M545.3 519h0M547.1 530.4h0M539.5 505.1h0M546.7 511.5h0M542.6 508.7h0M548.2 524.1h0M536.8 531.2h0M535.2 532.8h0M535.7 530.9h0M543.8 503.2h0M541.1 528h0M547.8 517.2h0M549.1 532.9h0M543.5 511.5h0M542.7 527.1h0M548 525h0M535.9 530.7h0M545.2 527.4h0M545.8 527.8h0M541.4 523.1h0M537.4 516.8h0M540.3 508.4h0M547.5 528.2h0M535.3 531.7h0M538.9 508.6h0M538 517.2h0M535.7 531.6h0M538.4 511.3h0M543.6 510.5h0M536.7 529.4h0M547.5 521.9h0M545.6 518.8h0M538.5 508.8h0M539.3 528.8h0M544.2 530.7h0M545.7 512.6h0M540.8 515.7h0M542.1 530.8h0M536.7 528.9h0M535.3 532.6h0M540.6 512.1h0M542.5 527.5h0M545.6 509.6h0M544.4 510.5h0M539.2 508.9h0M543.4 527.6h0M544.6 513h0M543.2 517.2h0M545.7 512.1h0M543.4 531.2h0M538.9 505.5h0M541.1 510.7h0M537.5 522.7h0M543.7 506.8h0M548.9 529.5h0M539.9 528.7h0M540.2 519.4h0M548.8 528.7h0M544.5 509.1h0M535.5 532.2h0M542.8 531.4h0M537.8 517.5h0M544.5 529.2h0M537.3 518.5h0M541.9 522.1h0M545.1 512.1h0M549.4 532.7h0M545.7 520.5h0M539.1 519.5h0M535.6 532.5h0M537.1 522h0M544.9 526.1h0M539.8 508.9h0M540.9 521.7h0M548.5 526.8h0M542.8 511.5h0M536 530.1h0M546 515.6h0M547.5 527.7h0M542 525.2h0M538.3 531.2h0M538.5 529.4h0M541.5 518.4h0M545.7 510.4h0M542.8 509.7h0M541.9 522.3h0M542.3 510.2h0M548.6 524.5h0M536.5 526.1h0M536.9 524.5h0M546.9 517.6h0M537.3 526.1h0M538.4 516.7h0M545 509.6h0M540.5 513.4h0M538.6 508.2h0M548.3 532.7h0M543.1 507.7h0M538.9 532.3h0M535.2 531.5h0M535.4 531.7h0M546.1 531.9h0M544.9 520h0M540.9 516.7h0M540.4 503.9h0M544.5 521.1h0M537.3 524.6h0M549.5 530.4h0M536.5 529.3h0M541.9 518.6h0M537.2 530.4h0M542.7 507.1h0M545 511.9h0M544.5 532.8h0M538.7 524.7h0M539.2 522.6h0M541 521.8h0M535.4 530.1h0M548.7 527h0M539.4 520.4h0M547.9 523.3h0M544.8 510.6h0M549.1 529.1h0M537.1 525.3h0M548 531.3h0M536.2 532.7h0M536.5 531.4h0M545.8 516.4h0M545.2 516.1h0M540.4 506.6h0M538.1 525.5h0M541.2 508.4h0M545.6 516.9h0M543.7 524.3h0M543.5 503.4h0M541.5 504.7h0M542.4 514.9h0M543.7 528.9h0M538.7 529h0M542.7 509.1h0M544.9 527.2h0M540.2 529h0M544.3 519.8h0M539.4 527.1h0M548.5 527.8h0M549.3 531.7h0M538.7 514.1h0M547.9 530.7h0M547.1 520.9h0M547.7 516.2h0M541.4 497.4h0M538.2 523.1h0M541.6 524.7h0M542.1 504.9h0M537.1 525.7h0M542.6 526.8h0M544.1 525.4h0M543.2 513.4h0M545.5 504.3h0M548.1 525.9h0M539.3 526.8h0M546 512.3h0M546.1 510.6h0M543.1 500.7h0M544.3 512.5h0M546.7 518.1h0M545.7 505.8h0M541 506.4h0M539.7 518.7h0M547.2 512.9h0M548.5 524.3h0M546.9 513h0M543.7 525.5h0M535.5 529.6h0M545.6 511.7h0M543.3 510.3h0M545.1 516.8h0M544.3 526.4h0M542.7 510.7h0M543.2 524.9h0M537.4 521.4h0M537.2 519.9h0M538.2 514.6h0M540.5 502.3h0M538.8 529.4h0M544.5 507.6h0M540.4 518.1h0M544.4 524.1h0M540.9 513.7h0M539.8 529.2h0M547.8 531.3h0M549.2 528.7h0M541.6 499.8h0M536.4 527.2h0M540.4 523.8h0M547.6 532.5h0M547.1 531.7h0M544.6 524.5h0M542.6 498.7h0M546.1 530.9h0M539.8 518.5h0M545.1 532.9h0M547.1 515.2h0M548.6 531.2h0M538.6 510.8h0M542.5 525h0M535.5 532.2h0M544.5 509.1h0M540.4 501.7h0M542.4 514.7h0M541 519.6h0M540.5 505h0M541.5 525.2h0M541.5 497.6h0M544.1 530.1h0M541.3 516.7h0M535.5 529.2h0M547.9 531.7h0M543 522.8h0M538.6 526.5h0M536.2 526.7h0M540.6 509.4h0M546.4 519.1h0M540.3 529.1h0M544.2 510.8h0M545.9 529.8h0M536.1 525.6h0M543.6 530.4h0M545 531.6h0M544 514.8h0M545 530.6h0M547.8 516.7h0M549.2 528.8h0M539.9 501.6h0M543.7 508.6h0M544.3 527h0M546.9 519.1h0M538.7 523.6h0M537.7 524.9h0M549.3 531.4h0M541 504.3h0M536.7 531.7h0M545.4 529.7h0M543.7 504.8h0M543.1 530.7h0M538.6 519.4h0M548.6 526.3h0M544.8 514.3h0M540.1 514h0M535.4 531.7h0M546.3 528.5h0M544.2 509.1h0M537.9 514.6h0M539 505.5h0M540.3 513.3h0M548.5 523.7h0M542.1 526.7h0M543.8 513.4h0M536.4 529.2h0M548 525.1h0M538.2 518h0M541.7 497.6h0M542.2 532.3h0M537.9 529.7h0M548.6 529.4h0M540.4 499.8h0M538.6 517.1h0M548.5 522.4h0M537.9 523.3h0M539.1 513.3h0M539.1 528.7h0M539.4 529.8h0M545 525h0M541 524.1h0M540.8 523.3h0M540.4 509.5h0M538.1 517.4h0M540.4 530.5h0M537.3 517.2h0M536 531.1h0M547.1 531.7h0M538.6 526.6h0M546.7 530.8h0M548.5 531.8h0M543.1 505.6h0M543 515.7h0M541.5 524.5h0M549.4 531.5h0M544.1 514h0M548.8 531h0M537.8 513.8h0M542.4 509.8h0M543.9 506.4h0M546.7 516.9h0M535.3 530.9h0M536 526.2h0M535.2 531.4h0M544.1 532.4h0M545.5 516.2h0M537.3 517.6h0M543.5 517.7h0M548.4 530.9h0M538.1 512h0M537.9 515.2h0M538.6 511.5h0M541.1 511.2h0M543.7 520.3h0M542.5 509.7h0M537.6 515.2h0M546.5 528.5h0M538.8 523h0M545.8 518.9h0M539.9 508.8h0M538.4 515.3h0M545.5 530.5h0M543.2 512.6h0M548.9 530.9h0M541.8 496.7h0M537.5 516.2h0M540.6 522.2h0M549.4 531.7h0M539.1 527.9h0M544.8 512.9h0M539 519.9h0M539.6 507.6h0M540.5 512.7h0M547.9 529.5h0M548.6 528h0M544.1 524.8h0M544.8 509.8h0M543.5 502.7h0M541.9 532.6h0M547.9 523.9h0M543.8 513h0M536 531h0M536.8 524.2h0M546.9 518.8h0M546.3 525.3h0M535.8 530.6h0M538 526.8h0M539 528.7h0M544.7 514.1h0M546.5 508.4h0M539 506.5h0M545.7 517.3h0M549 529.3h0M535.8 532.4h0M539.9 511.3h0M543.1 509.1h0M535.6 532h0M543 510h0M541.4 525.8h0M539.9 509.2h0M545.1 526h0M548.5 532.6h0M538.9 521.6h0M546.2 518.8h0M544.5 501.2h0M540.6 527.6h0M541.1 513.2h0M537.5 532.5h0M545.2 501h0M548.2 528.1h0M541.7 501.2h0M549.2 531.2h0M548.6 525.5h0M537.7 524.4h0M535.2 532.1h0M542.6 503.8h0M540.1 512.4h0M544.4 516.3h0M543.7 518h0M543.7 518h0M547.9 531.4h0M547.1 517.4h0M535.4 530.5h0M540.6 516.5h0M542.5 506.2h0M542.1 509.7h0M538.7 531.5h0M544.4 499.6h0M536.6 521.6h0M540.8 510.5h0M539.3 513.1h0M541.5 503h0M539.5 523.9h0M543.9 530.1h0M549 528.8h0M549 531.8h0M545 527.4h0M536.7 527.6h0M541.9 512.6h0M541.9 526.5h0M544.6 525.2h0M539.6 509.3h0M544.6 509.4h0M548 519.8h0M538.7 506.3h0M542.5 513.2h0M539.5 522.3h0M543 532.1h0M545.1 522.8h0M544.7 509.4h0M543.8 531h0M543.1 521.4h0M545 510.6h0M542.3 506.1h0M537.7 516.7h0M548.9 525.7h0M546.3 523.4h0M548.2 525.5h0M538.7 519.1h0M546.9 518.2h0M546.6 532.4h0M548.9 525.6h0M542.3 498.3h0M538.2 524.9h0M538 518.1h0M548 517.8h0M536.7 523.3h0M543 526.1h0M547.6 523.7h0M536 530.3h0M544.6 505h0M538.5 518.3h0M536.8 520.5h0M535.4 529.8h0M543.1 506.4h0M544.4 517h0M541.5 526.1h0M539.6 530.7h0M539.3 514.2h0M543 513.3h0M542.7 497.9h0M546.9 527.7h0M543 497.7h0M539.3 512.7h0M544.2 510.9h0M543 506.7h0M540.7 500h0M543.2 522h0M544.1 510.2h0M548 523.2h0M542.6 521.1h0M541.3 523.4h0M543.8 503.3h0M543.5 526.8h0M535.9 526.7h0M539.7 512.2h0M548.4 521.7h0M543 499.9h0M541.1 498.5h0M544.6 530.9h0M546.3 529.5h0M549.5 532.9h0M545.6 529.2h0M542.8 520.5h0M547.3 528.1h0M545.1 502.6h0M536.4 525.4h0M536.7 522.8h0M547 530.5h0M547.4 525h0M539.9 502.2h0M540.8 526.6h0M540.1 503.3h0M549.2 530.6h0M542.2 511.3h0M546.7 532.9h0M546.1 506.5h0M541.1 518.1h0M548.7 529.2h0M540.7 502.9h0M542 509.1h0M539.6 512.8h0M540.6 506.2h0M542.2 498.2h0M542.9 501.9h0M541.5 508.1h0M539.3 516.4h0M544.4 527.5h0M542.9 499.3h0M538.5 521h0M546.7 523.7h0M535.8 529.9h0M541.8 497.1h0M544.4 507.3h0M540.6 501.9h0M546.6 531.2h0M544.3 502.6h0M544.2 499.8h0M539.3 516.5h0M542.7 523.3h0M545.9 521.7h0M544.2 506.8h0M545.2 530.4h0M536.3 525.1h0M544.2 528.8h0M537.5 524.2h0M538.2 510.8h0M538.8 507h0M545 515.9h0M544.5 510.5h0M539.6 519h0M536.4 532.6h0M548.4 522.6h0M545.5 530.5h0M543.9 508.9h0M541.4 519.9h0M545.2 532.8h0M541.9 524.3h0M541.6 512.7h0M541.3 500.3h0M547.4 518.3h0M546.1 520.2h0M539.4 508.9h0M537.3 523.2h0M544 530h0M538.5 515.8h0M547 525.1h0M542.7 507.5h0M543.3 517.6h0M544.1 509.3h0M546.2 518.8h0M544.3 527.4h0M537.9 515.3h0M538.8 521.9h0M547.4 530.6h0M544.6 525.8h0M543.9 505.1h0M546.4 513.8h0M542.5 513.8h0M538.1 530.8h0M545.5 531.8h0M548.2 530.8h0M545.1 519.6h0M543.7 507.1h0M539.7 507.6h0M545.5 516.3h0M543.2 520.4h0M548.9 530.1h0M539 518h0M548 518.4h0M543.3 520.1h0M545.4 516.6h0M546.5 512.5h0M544.9 501h0M544.2 499.7h0M544.2 526.6h0M543.9 507h0M541.3 527.7h0M540.4 506.9h0M538.6 532.8h0M547.3 513.4h0M547.2 516.5h0M545.2 516.2h0M544.2 508.2h0M540.1 527.2h0M544.8 514h0M549.3 531.3h0M541.2 529.3h0M535.5 532.5h0M543.5 498.7h0M537.2 530.7h0M544.6 524h0M536.1 525.5h0M537.8 524.6h0M545.5 509.8h0M548.6 527.1h0M537.7 531.7h0M544.1 515.7h0M539.1 529h0M540.4 524.3h0M540.4 522.1h0M545.5 519.9h0M546.8 522.2h0M539.6 504.5h0M544.2 504.6h0M538.9 505.7h0M544 521.2h0M539.1 530.7h0M535.8 531.9h0M539.9 517h0M541 531.8h0M537.7 532.7h0M536 530.9h0M544.1 528.6h0M547.4 513.5h0M543.8 531.7h0M538.2 521.4h0M548.3 519.5h0M545.3 505h0M537 525.9h0M542 525.8h0M543.1 513.7h0M548.9 532.6h0M539.7 528.5h0M538.8 525.2h0M540.6 499.5h0M533.9 531.3h0M534.4 531.9h0M533.3 531h0M533.5 531.5h0M533.5 531h0M534.7 532.6h0M533.8 531h0M533.7 531.4h0M534.6 531h0M532.8 532.3h0M535.8 531.8h0M532.9 531.1h0M534.2 531.6h0M536.2 532.4h0M533.3 532.4h0M532.9 531h0M534.4 531.6h0M535 532.9h0M534.1 532.5h0M533.5 531.8h0M535.2 532.6h0M534.8 532h0M534 531.6h0M534.9 532.8h0M535.7 532.5h0M534.6 531.1h0M534.1 532.9h0M534.9 532.8h0M534.5 531.3h0M533.1 531.6h0M535.9 532h0M533.2 531.2h0M535.4 532.6h0M534.3 533h0M535.5 531.3h0M534.6 531.7h0M535.6 532.3h0M534.4 531.8h0M533.6 532.8h0M535.5 532.3h0M522.2 477.8h0M521.3 499.7h0M520.5 492.9h0M522.4 481.7h0M522.7 476.9h0M522.6 482.7h0M522.3 482.8h0M522.8 474.1h0M520.8 483.4h0M520.6 495.7h0M523.5 490.1h0M522.2 495.5h0M522 500.8h0M522.3 474.7h0M522.7 482.8h0M522.2 492.5h0M523 490.6h0M521.4 486.1h0M543.3 472.2h0M542 493.5h0M542.6 483.1h0M541.8 478.3h0M542.5 496.8h0M539.4 488.1h0M539.9 474.1h0M539.5 494.7h0M541.3 495.6h0M542.5 486.4h0M540.3 477h0M543.3 488h0M540 485h0M542.5 465.2h0M539.7 496.9h0M540.3 486.7h0M542.3 474.1h0M542.3 484.2h0M540.9 464.9h0M539.2 497.2h0M539 469.3h0M541.3 473.6h0M541.9 469.5h0M541.3 486.4h0M539.5 483.5h0M539.8 465.5h0M542.4 488h0M541.3 481.5h0M545.9 355.6h0M544.3 425.4h0M569.8 532.6h0M541.2 463.6h0M542.1 464.3h0" stroke="#111" stroke-width="1.9" stroke-linecap="round" fill="none"/>
<text x="564.8" y="349.4" font-size="5" fill="#1a1a1a" text-anchor="middle" stroke="#1a1a1a" stroke-width="0.18">HAS3</text>
<text x="499.8" y="362.1" font-size="5" fill="#1a1a1a" text-anchor="middle" stroke="#1a1a1a" stroke-width="0.18">ID1</text>
<text x="546.9" y="362.8" font-size="5" fill="#1a1a1a" text-anchor="middle" stroke="#1a1a1a" stroke-width="0.18">TIMP3</text>
<text x="564.5" y="383.5" font-size="5" fill="#1a1a1a" text-anchor="middle" stroke="#1a1a1a" stroke-width="0.18">SULT1B1</text>
<text x="525.3" y="402" font-size="5" fill="#1a1a1a" text-anchor="middle" stroke="#1a1a1a" stroke-width="0.18">TRNP1</text>
<text x="505.8" y="411.8" font-size="5" fill="#1a1a1a" text-anchor="middle" stroke="#1a1a1a" stroke-width="0.18">CRABP2</text>
<text x="521.8" y="420.1" font-size="5" fill="#1a1a1a" text-anchor="middle" stroke="#1a1a1a" stroke-width="0.18">PTGES</text>
<text x="569.9" y="422.3" font-size="5" fill="#1a1a1a" text-anchor="middle" stroke="#1a1a1a" stroke-width="0.18">CSF2RB</text>
<text x="508.4" y="428.4" font-size="5" fill="#1a1a1a" text-anchor="middle" stroke="#1a1a1a" stroke-width="0.18">LUM</text>
<text x="496" y="435.4" font-size="5" fill="#1a1a1a" text-anchor="middle" stroke="#1a1a1a" stroke-width="0.18">CHRNA1</text>
<text x="475.3" y="438" font-size="5" fill="#1a1a1a" text-anchor="middle" stroke="#1a1a1a" stroke-width="0.18">CCL11</text>
<text x="522.1" y="438.3" font-size="5" fill="#1a1a1a" text-anchor="middle" stroke="#1a1a1a" stroke-width="0.18">ID3</text>
<text x="502.7" y="444" font-size="5" fill="#1a1a1a" text-anchor="middle" stroke="#1a1a1a" stroke-width="0.18">CCN4</text>
<text x="523.7" y="447.8" font-size="5" fill="#1a1a1a" text-anchor="middle" stroke="#1a1a1a" stroke-width="0.18">PRR10</text>
<text x="544.7" y="447.8" font-size="5" fill="#1a1a1a" text-anchor="middle" stroke="#1a1a1a" stroke-width="0.18">ANXA10</text>
<text x="511.9" y="455.2" font-size="5" fill="#1a1a1a" text-anchor="middle" stroke="#1a1a1a" stroke-width="0.18">TNC</text>
<text x="527.8" y="459.3" font-size="5" fill="#1a1a1a" text-anchor="middle" stroke="#1a1a1a" stroke-width="0.18">FBLN5</text>
<text x="552.7" y="459.3" font-size="5" fill="#1a1a1a" text-anchor="middle" stroke="#1a1a1a" stroke-width="0.18">LYPLAL1-DT</text>
<text x="686.7" y="320.8" font-size="9" fill="#cf1f2e" text-anchor="end" textLength="178.7" lengthAdjust="spacingAndGlyphs" stroke="#cf1f2e" stroke-width="0.2">Genes with pvaladj of 0 with log2FoldChange:</text>
<text x="686.7" y="332" font-size="9" fill="#cf1f2e" text-anchor="end" textLength="75.1" lengthAdjust="spacingAndGlyphs" stroke="#cf1f2e" stroke-width="0.2">LRRC15 (-4.056584)</text>
<text x="686.7" y="342.4" font-size="9" fill="#cf1f2e" text-anchor="end" textLength="80.8" lengthAdjust="spacingAndGlyphs" stroke="#cf1f2e" stroke-width="0.2">ALDH1A3 (1.645561)</text>
<line x1="772.25" y1="311.8" x2="772.25" y2="543.6" stroke="#f3f3f3" stroke-width="0.5"/>
<line x1="816.95" y1="311.8" x2="816.95" y2="543.6" stroke="#f3f3f3" stroke-width="0.5"/>
<line x1="861.65" y1="311.8" x2="861.65" y2="543.6" stroke="#f3f3f3" stroke-width="0.5"/>
<line x1="906.35" y1="311.8" x2="906.35" y2="543.6" stroke="#f3f3f3" stroke-width="0.5"/>
<line x1="951.05" y1="311.8" x2="951.05" y2="543.6" stroke="#f3f3f3" stroke-width="0.5"/>
<line x1="995.75" y1="311.8" x2="995.75" y2="543.6" stroke="#f3f3f3" stroke-width="0.5"/>
<line x1="794.6" y1="311.8" x2="794.6" y2="543.6" stroke="#ebebeb" stroke-width="0.7"/>
<line x1="839.3" y1="311.8" x2="839.3" y2="543.6" stroke="#ebebeb" stroke-width="0.7"/>
<line x1="884" y1="311.8" x2="884" y2="543.6" stroke="#ebebeb" stroke-width="0.7"/>
<line x1="928.7" y1="311.8" x2="928.7" y2="543.6" stroke="#ebebeb" stroke-width="0.7"/>
<line x1="973.4" y1="311.8" x2="973.4" y2="543.6" stroke="#ebebeb" stroke-width="0.7"/>
<line x1="763.31" y1="497.95" x2="1001.11" y2="497.95" stroke="#f3f3f3" stroke-width="0.5"/>
<line x1="763.31" y1="427.85" x2="1001.11" y2="427.85" stroke="#f3f3f3" stroke-width="0.5"/>
<line x1="763.31" y1="357.75" x2="1001.11" y2="357.75" stroke="#f3f3f3" stroke-width="0.5"/>
<line x1="763.31" y1="533" x2="1001.11" y2="533" stroke="#ebebeb" stroke-width="0.7"/>
<text x="761.71" y="534.8" font-size="5" fill="#444" text-anchor="end" stroke="#444" stroke-width="0.18">0</text>
<line x1="763.31" y1="462.9" x2="1001.11" y2="462.9" stroke="#ebebeb" stroke-width="0.7"/>
<text x="761.71" y="464.7" font-size="5" fill="#444" text-anchor="end" stroke="#444" stroke-width="0.18">100</text>
<line x1="763.31" y1="392.8" x2="1001.11" y2="392.8" stroke="#ebebeb" stroke-width="0.7"/>
<text x="761.71" y="394.6" font-size="5" fill="#444" text-anchor="end" stroke="#444" stroke-width="0.18">200</text>
<line x1="763.31" y1="322.7" x2="1001.11" y2="322.7" stroke="#ebebeb" stroke-width="0.7"/>
<text x="761.71" y="324.5" font-size="5" fill="#444" text-anchor="end" stroke="#444" stroke-width="0.18">300</text>
<text x="794.6" y="550" font-size="5" fill="#444" text-anchor="middle" stroke="#444" stroke-width="0.18">-10</text>
<text x="839.3" y="550" font-size="5" fill="#444" text-anchor="middle" stroke="#444" stroke-width="0.18">-5</text>
<text x="884" y="550" font-size="5" fill="#444" text-anchor="middle" stroke="#444" stroke-width="0.18">0</text>
<text x="928.7" y="550" font-size="5" fill="#444" text-anchor="middle" stroke="#444" stroke-width="0.18">5</text>
<text x="973.4" y="550" font-size="5" fill="#444" text-anchor="middle" stroke="#444" stroke-width="0.18">10</text>
<text x="883.4" y="557.6" font-size="6" fill="#222" text-anchor="middle" font-weight="bold" textLength="54" lengthAdjust="spacingAndGlyphs" stroke="#222" stroke-width="0.21">Log2 Fold Change</text>
<text x="750" y="431" font-size="6.2" fill="#333" text-anchor="middle" textLength="73" lengthAdjust="spacingAndGlyphs" transform="rotate(-90 750 431)" stroke="#333" stroke-width="0.22">-Log10 Adjusted P-value</text>
<path d="M854.5 528.6h0M865.6 529.5h0M867.6 488.9h0M857.2 529.9h0M867.8 521.6h0M866.6 529.3h0M867.6 496.5h0M867 492.4h0M861 524.5h0M867.4 506.9h0M863.5 533h0M857.2 528.4h0M866.7 490.3h0M869.7 526.6h0M869.5 526.8h0M856.2 511h0M853.7 529.2h0M867 514.4h0M868 520h0M862 529.6h0M864.8 519.8h0M863.1 514.7h0M863 513.8h0M862.9 508.4h0M856.8 530.4h0M859.3 507.7h0M864.2 491.6h0M863.9 492.9h0M866.5 491.8h0M859.2 499.8h0M859.2 515.7h0M864.8 528.5h0M853.7 533h0M849.1 530.1h0M863.9 532.7h0M850.8 533h0M864.2 508.2h0M868.6 523.1h0M866.5 531h0M851.3 528.5h0M859.7 528.7h0M854 523.7h0M868.4 504.7h0M854.8 531.8h0M856.6 506.7h0M861 532.5h0M867.5 531.4h0M852.7 531.1h0M850.7 530.5h0M861.9 530.2h0M863.8 506.1h0M860.1 531.2h0M865 526.2h0M858.3 505.7h0M857 529.7h0M859 512.6h0M865.4 492.3h0M858.5 512.6h0M865.5 532.7h0M858 512.6h0M861.8 532.4h0M854.6 531.7h0M865.2 532.5h0M855.4 516h0M858.4 520h0M867.8 504.6h0M864.9 525.2h0M866 527.8h0M866.8 509.3h0M854 533h0M865.4 523.8h0M864.6 514h0M862.4 532.6h0M864.2 530.3h0M863 533h0M869.4 531.9h0M869.8 499.3h0M860.9 522.6h0M857.2 533h0M862.8 532.9h0M856.1 533h0M863.8 514.7h0M869.4 530.8h0M867.8 516.6h0M849.2 531.8h0M869.6 505.1h0M865.5 510.6h0M869.4 519.3h0M854.8 533h0M864 532.1h0M869.1 479.3h0M864 517.9h0M854.6 518.9h0M861.7 511.8h0M861.7 508.4h0M854.3 512.1h0M865.7 528.6h0M861.4 531.8h0M863.1 498.4h0M862.6 529.6h0M862.3 527.3h0M861.6 524.1h0M866.2 508.5h0M850.2 521h0M860.3 527.4h0M863.2 497.1h0M850.9 522.7h0M865.6 520.8h0M861.3 523.6h0M866 524.7h0M869 517.6h0M862.2 499.2h0M850.2 522.2h0M862.7 532.5h0M865.9 530.8h0M862.6 522.6h0M869.5 509.3h0M862.2 517.4h0M865.3 532.4h0M860.9 532.3h0M854.2 531.3h0M850.8 532.7h0M856.3 526.6h0M861.7 532.7h0M869.8 503.2h0M865.7 514.2h0M866.4 531.8h0M866.4 527.7h0M856.8 531.4h0M867.7 525.8h0M868.3 477.6h0M869.1 522.4h0M864 518.2h0M853.2 522.4h0M867.4 531.6h0M860.1 520.3h0M869.3 527.6h0M868.4 532.9h0M863.7 530.1h0M868.2 531.8h0M853.4 530.8h0M866.8 506.3h0M860.1 515.5h0M855.2 529.2h0M868.3 532.1h0M857.9 530.1h0M857.1 526.5h0M861.6 520.7h0M849.7 525h0M861.2 532.9h0M864.8 532.1h0M857.2 518.2h0M852.4 516.8h0M857.9 523.4h0M854.2 511h0M869.3 511.4h0M858.5 529.9h0M864.2 530.5h0M864.3 494.8h0M855.2 531.8h0M869.4 492.6h0M850.6 532.9h0M865.2 499.9h0M869.6 532.5h0M862.5 523.7h0M868 522.4h0M850.8 533h0M863 532.6h0M863.1 519.8h0M863.1 520.4h0M849.4 527.7h0M850.7 530h0M855.3 530h0M867.4 496h0M868.4 508.8h0M863.5 505.5h0M852.3 533h0M868.4 506.5h0M861.7 531.2h0M869.5 531.3h0M858.1 506.2h0M866.8 495.8h0M869.1 481.6h0M861.1 531.4h0M863.9 527.9h0M860 522.8h0M868.5 519h0M860 532.2h0M867.8 513.3h0M857.2 515.6h0M852.7 532.9h0M859 514h0M863.4 513.6h0M868.7 478.4h0M867.8 524.7h0M863.7 533h0M852.7 530.2h0M859.8 525.1h0M848.7 523.5h0M862.6 532.3h0M865.1 519h0M866.1 482.1h0M861.9 533h0M856.7 529.5h0M858.1 527.1h0M865 521.8h0M851.5 533h0M850.2 527.2h0M861.3 522.9h0M861.2 516.2h0M869.8 514.4h0M856.9 519.9h0M857.1 521.2h0M864.1 533h0M856.4 532.1h0M860.8 504.3h0M866.1 523.3h0M861.3 533h0M857.2 512.1h0M860.8 531.1h0M869.1 531.2h0M867.3 527h0M860.5 530h0M858.5 531.5h0M858.8 527.4h0M862 533h0M861.1 508.3h0M866.7 532.5h0M856.9 523.5h0M864.9 532.9h0M859.4 525.7h0M865.7 519.3h0M865.1 495.2h0M868.3 531.6h0M868.2 531.4h0M848.5 527.2h0M868.7 532.7h0M866.7 532.8h0M868.8 523.4h0M862.7 497.9h0M859.3 524.8h0M853.5 532.6h0M863.5 500.1h0M860.7 533h0M857.6 527.1h0M852 532.8h0M857.4 513.7h0M861.7 532.6h0M863.5 520.2h0M864.7 508.6h0M864 532.9h0M864.4 517.8h0M863 532.5h0M856.9 523.6h0M866.9 532.9h0M866.8 524.3h0M864.9 504.7h0M852.9 523.7h0M866.6 523.7h0M858.2 524.3h0M864.3 527.1h0M863.4 510.5h0M867.2 484.8h0M869.6 533h0M868.7 490.8h0M869.8 499.4h0M869.2 478.6h0M854.7 532.8h0M863.9 494.8h0M863.5 523.4h0M868.1 516.8h0M867.6 515.7h0M863.2 524h0M867.2 532.6h0M860 532.8h0M865.4 526.7h0M868.6 528.3h0M868.8 529.1h0M869.2 488.6h0M859 525.3h0M852.5 526.8h0M865.6 524.4h0M861.8 524.9h0M867.2 531.6h0M867.8 507.2h0M861.1 496.2h0M864.3 522.9h0M863.4 529.1h0M863.4 532.8h0M864.6 528.9h0M865.4 517.2h0M869.8 504.4h0M848.9 532.9h0M862.9 522.3h0M862.6 511.9h0M869.1 532.9h0M864.9 530.2h0M861 498.1h0M852.2 532.5h0M863 510.3h0M869.3 479.6h0M869 501.2h0M862.1 530.7h0M868.1 504.4h0M866.1 504.2h0M868.8 518.9h0M858.2 533h0M857.8 521.7h0M860.6 532.1h0M854.7 533h0M864.1 515h0M869.3 500.7h0M855.4 532.4h0M869.5 529.7h0M863.6 505.2h0M865.1 533h0M862.5 522.9h0M863.5 532.7h0M869.4 521.4h0M865.6 505.4h0M858.1 533h0M864.7 493.7h0M868.5 491.4h0M856.8 512.5h0M852.6 532h0M867.7 532.8h0M867.1 500.7h0M868.7 493.5h0M866.2 532.1h0M854.1 532.9h0M859.4 530.6h0M869.8 493.1h0M853.3 529.5h0M867.3 526.6h0M863.3 499.6h0M868.8 532h0M867.6 524.2h0M849.9 532.2h0M868.5 531.9h0M855.7 510.4h0M861.8 499.8h0M858.8 532.9h0M868.8 528.9h0M869.1 510.2h0M867.8 529h0M866.1 500.2h0M865.7 490.3h0M868.7 517.7h0M869.2 506.9h0M868.8 532.4h0M859.2 532.6h0M850 528h0M869.5 513.3h0M869.6 496.6h0M864.8 527.1h0M856.7 508.6h0M869.1 488.6h0M859.9 514.6h0M863.5 503.7h0M864 533h0M858.7 531.4h0M859.8 529.9h0M849.6 530.3h0M869.1 514.3h0M857.1 507h0M868.3 491h0M854.1 523.3h0M859.8 512h0M860.7 531.5h0M869.5 493.2h0M865.2 523.7h0M864 515h0M861.7 527.8h0M858.4 522.3h0M858.9 528.6h0M858.9 506.2h0M863.3 532.4h0M854.3 520.8h0M869.1 531.2h0M864.1 524h0M861.9 514.9h0M867.4 498.2h0M857.3 524.1h0M855.4 532.5h0M860.2 522.9h0M862.8 533h0M862.8 532.3h0M855.9 514.9h0M865.2 531h0M866.9 480.8h0M868 532.3h0M865.4 526.5h0M861.9 532.2h0M854.4 511.9h0M862.2 532.3h0M862.3 526h0M855.4 520.8h0M864.9 509.8h0M867.8 491.8h0M869.9 507.3h0M869.6 477.4h0M856.6 529.9h0M862.6 525.4h0M853.4 530.6h0M867.2 521.4h0M865.5 511.1h0M864.9 533h0M860.9 513.4h0M860.6 498.1h0M869.4 520.8h0M869.6 531.5h0M862.6 496.7h0M853.1 528.8h0M861.5 528.4h0M861.8 520.2h0M868.9 532.9h0M855.1 523h0M863.6 511.3h0M867.9 497.7h0M859.6 532h0M916.7 533h0M915.4 523.9h0M910.8 506h0M898.6 533h0M940.8 525.7h0M897.9 508.4h0M915.1 532.9h0M908.3 522.8h0M916.1 532.7h0M897.3 533h0M903.1 531.2h0M902.1 530.6h0M899.5 529.1h0M905.8 531.6h0M907.2 501.2h0M926.6 532.9h0M899.4 521.6h0M899.1 498.6h0M907 485.7h0M906.8 525.1h0M898.6 532.7h0M901.5 482.8h0M953.6 531.3h0M917 516.8h0M909.3 495.4h0M902.9 489.3h0M897.5 519.5h0M916.5 516.7h0M901.5 530.6h0M939.2 532.9h0M904.6 522.6h0M951.7 532.7h0M901.2 532.9h0M951.6 532.9h0M923.5 533h0M908.8 523.7h0M923 525.4h0M908.6 532.8h0M908.3 528.2h0M905.2 532.8h0M934.9 532.9h0M907.1 528.1h0M901.1 503.7h0M900.9 497.6h0M897.7 533h0M912.1 526.5h0M909.9 498.2h0M924 517.1h0M925.9 518.7h0M928 516.6h0M924.4 532.8h0M912 518.3h0M911.8 527.4h0M905.4 532.7h0M936.9 532.3h0M897.7 530h0M955.2 533h0M951.8 533h0M897.9 468.4h0M903.6 481.2h0M903.6 530.5h0M950 532.9h0M929 520h0M907.8 532.9h0M928 532.9h0M906.8 532.6h0M936.5 532.7h0M913.4 520.6h0M903.7 522.7h0M922 503.6h0M908.9 531.1h0M906.2 524.1h0M905.2 529.4h0M917.7 518.6h0M922.3 524.3h0M900.4 513.8h0M902.4 497.2h0M936.3 532.7h0M944.4 530.4h0M922.8 521.6h0M919 532.9h0M915.2 497h0M929.4 531h0M950.2 527.4h0M909.3 504.8h0M903.8 532.8h0M911.4 510.2h0M920.8 532h0M911.1 513.3h0M922.7 507.3h0M900.6 508.1h0M919 532.2h0M945 531.8h0M917.6 497.7h0M912.9 520.9h0M914.8 509.9h0M919.4 532.9h0M898.4 485.2h0M924.2 532.9h0M933.4 527.8h0M916 516.9h0M940.2 532.7h0M898.4 512.7h0M905.1 513.2h0M920 522.7h0M928.4 532.9h0M901.4 524.5h0M901.1 525.2h0M903.8 479.6h0M930.5 522.8h0M933.2 532.7h0M912.6 523.3h0M898.2 532h0M929.3 532.6h0M937.3 531.5h0M911.4 532.9h0M931.8 531.7h0M902.5 532.7h0M901 504.4h0M906.8 522.5h0M906.2 492.2h0M912 528.8h0M942.6 526.9h0M949.8 529.5h0M902.7 527.3h0M926.7 532.7h0M909.5 532.9h0M909.3 525.1h0M901.3 520h0M900.6 525.5h0M920.5 520.3h0M909 532.8h0M948.9 531.7h0M910.9 533h0M924.5 519.5h0M922 530.1h0M910.1 508.1h0M940.8 530.4h0M917.7 511.8h0M905.9 532.7h0M924.1 526.4h0M906 502.2h0M924.2 533h0M911.7 518.2h0M937.4 527.9h0M902.9 532.8h0M946.2 527.1h0M908.7 529.7h0M925 525.8h0M903.7 526.6h0M949.2 532.3h0M897.6 532.9h0M900.7 515.8h0M906.8 518.6h0M904.3 505.8h0M911.3 497.8h0M924.9 530h0M948 532.7h0M910.3 531h0M897.8 531h0M898.7 532.9h0M899.9 529.7h0M913.7 525.7h0M917.5 532.8h0M904.4 532.9h0M937.3 532.9h0M917.3 528.6h0M898.8 496h0M911.7 525.5h0M924 532.2h0M907.5 532.9h0M934.2 532h0M931.4 520.7h0M908 522.8h0M903 526.6h0M905.2 490.3h0M919.2 508.2h0M903.3 532.5h0M897.2 519.5h0M904.6 531.9h0M909.6 524.7h0M924 513.3h0M901.8 525.8h0M939 532.6h0M913.6 529.4h0M923.9 522h0M907.8 532.1h0M917.2 503.2h0M907.9 527h0M903.2 493.2h0M898.3 529.4h0M899.2 527.5h0M915.7 532.9h0M919.1 532.4h0M902.2 530.7h0M940.3 524.4h0M904.8 533h0M899.4 527.1h0M897.7 511.5h0M915.7 530.3h0M900.7 478.9h0M906.8 532.2h0M950.9 529.9h0M913.1 531.2h0M928.1 525h0M934.9 517.5h0M914.8 510.9h0M938.2 532.9h0M917.1 510.6h0M927.4 523.2h0M909.9 503.9h0M911.1 531.9h0M909.4 507.3h0M898.9 533h0M898.5 532.8h0M902.8 532.9h0M897.5 531.7h0M915.9 517.4h0M910.4 497.9h0M898.1 488.3h0M898.2 518.9h0M902.1 511.1h0M923.8 517.5h0M904.6 532.8h0M924.6 524.1h0M909.7 529.3h0M911.5 495.8h0M900.1 519.7h0M932.3 533h0M923.5 517.1h0M903.3 530.7h0M908.8 487.6h0M937.5 521.7h0M906.8 498.2h0M911.3 523.8h0M918.7 519h0M905.8 530.3h0M900 491.4h0M909.7 492.8h0M903.7 519.1h0M954.4 530.9h0M936.1 520.5h0M912.8 532.8h0M917.1 522.9h0M905.4 532.7h0M906.2 508.6h0M905.3 506.4h0M906.6 506.8h0M916.2 501.7h0M902.7 506.4h0M909.5 532.6h0M901.1 532.1h0M919.7 512.3h0M904.9 530.9h0M900 523.6h0M899.7 531h0M937.3 531h0M905 510.1h0M897.2 506.1h0M927.9 530.3h0M902.3 532.3h0M936.6 527.5h0M948.2 532.9h0M908.5 510.4h0M915.1 528.6h0M900.2 480.4h0M902.3 511.1h0M915.9 514.9h0M925.3 530.4h0M912.9 533h0M924 532.4h0M899.9 533h0M904.5 532.9h0M901.1 529h0M906.1 532h0M901.4 519.3h0M913 530.5h0M901.8 504.1h0M899.5 529.4h0M902.1 510.4h0M912.8 501.9h0M919.1 523.8h0M898.9 533h0M917.7 515.7h0M932.7 514.9h0M934.1 530.1h0M920.2 531.5h0M949.2 525.5h0M921.3 532.6h0M914 520.2h0M928.4 526.9h0M927.3 521.7h0M918.4 532.9h0M923.1 530h0M927.3 533h0M911 531.6h0M910.8 491.7h0M925.2 514.7h0M930.5 533h0M922.1 520.4h0M924.4 532.6h0M907 519.4h0M903.9 525.8h0M908.3 533h0M898.8 532.4h0M909.7 498.2h0M924.8 532.2h0M926.4 519.6h0M940.2 528.6h0M916.5 521.8h0M898.8 519.4h0M898 516.3h0M919.1 531.1h0M901.3 524.7h0M900.8 529.6h0M921.2 533h0M941.3 524.6h0M906.8 504.9h0M928.7 525h0M908.5 530.7h0M902 502.4h0M919.3 502.1h0M916.6 533h0M902 533h0M904.5 522.7h0M913.5 524h0M906.8 494.6h0M909.1 532.4h0M908.3 530.3h0M901.4 521.6h0M912.5 533h0M904.7 532.9h0M905.9 532.8h0M898.6 529.7h0M898 533h0M922.3 532.7h0M924.9 531.1h0M914.3 509.9h0M899.6 533h0M906.4 488.8h0M906.5 529.5h0M916.1 533h0M915.4 522.1h0M937.7 529.2h0M919.1 533h0M909.4 532.6h0M904.9 533h0M907.4 532.8h0M904.8 533h0M948.5 532.4h0M905.7 516.1h0M924 524.1h0M905.2 524.4h0M908.9 512.9h0M907.6 494.5h0M908.3 532.5h0M933.3 533h0M953.4 526.8h0M911.1 531.6h0M899.7 527.2h0M922 532.7h0M920.2 532h0M913.1 512.5h0M910.8 520.6h0M906.2 522.9h0M928.4 517.4h0M943.6 532.7h0M899.5 533h0M900.8 510.2h0M901.7 506h0M898.3 501.5h0M908.1 532.8h0M915.4 516.5h0M898.4 528.4h0M899.3 477.5h0M908.8 528.2h0M915.6 512h0M941.7 532.2h0M908.6 505.4h0M923.1 523.7h0M927.7 513.9h0M898.3 520.9h0M903.7 489.5h0M897.6 528.8h0M910.3 533h0M905.7 530.1h0M899.5 504h0M906.3 527.9h0M927.7 514.9h0M903.6 509h0M904.7 486.4h0M939.5 531.4h0M899.2 493.2h0M920 516.4h0M911.9 495.4h0M906.4 509.8h0M899.4 483.1h0M905.8 532.9h0M908.6 532.9h0M914.5 522.9h0M903 533h0M931.3 526.7h0M916.7 500.1h0M899.6 523.7h0M898.3 490.4h0M931 531.7h0M915.2 517.3h0M918.1 521h0M903.7 511.7h0M923.6 529.7h0M913.1 530.2h0M916.2 504.6h0M897.9 503.2h0M922.6 530.6h0M902.2 518.5h0M924.8 532.9h0M914 516.5h0M903.8 501.6h0M913.3 533h0M930.1 533h0M929.4 529.3h0M897.2 532.8h0M900.1 515.9h0M925 531.7h0M917.9 526.7h0M932.3 532.7h0M900.1 528.7h0M930.2 532.6h0M928.7 533h0M932.4 531.3h0M929.8 530.8h0M912.5 519h0M901.1 533h0M907.5 532.9h0M902.7 532.7h0M899.8 494.3h0M916.7 531.4h0M935.4 533h0M938.1 526h0M910.3 496.5h0M906.2 532.9h0M899.4 508.1h0M904.7 532h0M927.8 517.4h0M907.3 531h0M912 530.2h0M934.4 530.4h0M903.8 533h0M942.9 532.6h0M942.3 525h0M908.7 532.4h0M922.2 533h0M898.5 533h0M914.2 514.1h0M918.1 504.7h0M898.9 507.6h0M921 521h0M911.9 532.9h0M906.1 532.3h0M945.1 528.4h0M938.2 530.4h0M898.4 505.9h0M906.6 519h0M909.1 524.5h0M900.9 488.4h0M905.2 499.1h0M937.5 530.4h0M900.9 529h0M911.7 532h0M898.8 477.3h0M915.9 527.9h0M899.4 524h0M928 532.9h0M938.5 532.9h0M900.2 504.5h0M901.6 491.3h0M903.7 533h0M916.6 533h0M899.7 520.2h0M923.5 529.3h0M930 532.9h0M927.5 530.8h0M932.2 532.9h0M913 533h0M901.2 530.3h0M913.6 525.8h0M903.1 531.4h0M946.8 533h0M907.8 503.5h0M920 526.6h0M900.8 532h0M953.4 531.8h0M904.4 489.2h0M928.8 523.3h0M902.8 529.2h0M931 532.5h0M946.2 532.3h0M911.6 513.9h0M899.4 517.6h0M915.8 532.8h0M901.2 533h0M906.9 519.7h0M898.8 524.1h0M901.3 499.4h0M898.7 533h0M919 531.5h0M937.9 532.2h0M926.7 530.3h0M911 530.5h0M920.8 533h0M928.3 526.4h0M922.8 533h0M921.9 528.8h0M921.9 528.5h0M935.5 524.5h0M914.3 494.9h0M912.2 531.3h0M932.8 532.9h0M925.1 528.6h0M950.4 533h0M904.6 490.3h0M914.8 532.6h0M921.1 529.1h0M914.4 532.8h0M897.8 484h0M919 501.6h0M911.3 532.1h0M898.2 521.7h0M925.9 512.4h0M907.1 532h0M903 485.8h0M919.7 527.9h0M939.1 527.5h0M912.8 513.9h0M919 518.4h0M905.8 514.9h0M901 533h0M911.4 514h0M902.6 492.2h0M910.2 519.9h0M933.4 523.8h0M918.3 532.2h0M901.4 521.7h0M915.3 524.7h0M907.7 532.7h0M940 529h0M920.4 533h0M912.6 526.7h0M898.8 532.3h0M900.8 518.4h0M933.6 528.5h0M905.5 501.1h0M913.4 510.5h0M914.9 532.8h0M908.8 532.1h0M905.2 533h0M925.3 528.2h0M905.3 513.8h0M910.4 533h0M927.7 520.5h0M913.6 522.1h0M913.9 532h0M898.4 515.2h0M904.2 510.5h0M905 529.9h0M937.1 533h0M903.7 514.4h0M908.8 502.3h0M900 533h0M927.4 532.9h0M904.3 532.6h0M909 498.4h0M910.9 516.5h0M900.8 523.5h0M902.5 532.4h0M905 529.9h0M921.9 533h0M903.7 481.7h0M906.6 533h0M933.4 533h0M907.2 515h0M942.2 524.8h0M941.4 530.5h0M946.8 532.9h0M905.4 518.3h0M917 512.8h0M900 529.7h0M917 533h0M911.6 504.2h0M897.6 494.5h0M922 530.6h0M902.4 504.9h0M906.4 520.4h0M900.1 505.2h0M938.7 522.5h0M949.8 533h0M928.3 532.7h0M899.6 501h0M936.1 533h0M902.2 526.7h0M933.1 531.2h0M898.2 507.4h0M944.3 533h0M929.3 513.9h0M908.5 505.5h0M917.4 499h0M919.4 532.2h0M921.3 531.8h0M906.4 533h0M898.9 532.6h0M919.2 528.2h0M907.8 521.9h0M905.3 531.1h0M916.2 517.3h0M923.2 528h0M949.4 525.2h0M940.4 532.7h0M923.4 533h0M952.7 531.8h0M898.7 532.9h0M918 521.8h0M906.9 528.5h0M928.2 521.9h0M924.3 531.5h0M906.2 518.4h0M899.3 513.2h0M920.2 518.1h0M903.2 530.7h0M903.1 528.1h0M917.5 529.6h0M934.4 529.6h0M927 511.2h0M927.1 532.8h0M906 533h0M908 528.8h0M905.5 530.2h0M902 500.1h0M907.7 533h0M909.4 530.7h0M901.4 512.2h0M908.4 510.3h0M916.4 500.4h0M905.9 533h0M901.5 506.9h0M901.8 520.5h0M899.8 493.3h0M907.4 531.8h0M935.4 527.4h0M915.8 504.8h0M928 533h0M937.8 532.9h0M922.5 532.2h0M904.6 528.9h0M897.2 492.9h0M903.8 518.6h0M900.5 532.9h0M897.5 525.4h0M908.4 515.3h0M908.9 526.9h0M914.3 532.9h0M907.1 504.1h0M951.8 532.2h0M905.1 499.9h0M913.3 533h0M901 516.9h0M900 523.7h0M946.7 531.7h0M909.7 509.7h0M912.4 508.5h0M897.4 493.2h0M901.1 532.4h0M914.2 520.3h0M901 502.2h0M910.7 514.5h0M906.5 530.7h0M912.8 521.1h0M925.2 532h0M916.6 532.4h0M921.1 530.9h0M940 528h0M898.8 516.1h0M907.2 531.3h0M902.2 512.7h0M931.9 531.3h0M911.3 531.4h0M928.3 511h0M909.6 528.9h0M901.7 531.6h0M907.6 529.5h0M901.1 530.2h0M898.5 531.5h0M918.5 506.8h0M902.4 512.9h0M902.8 483.5h0M903.3 533h0M943.6 532.6h0M902.2 527.4h0M931.1 531.8h0M909.9 520.5h0M897.6 483.6h0M921.6 526.5h0M906.5 486.6h0M898.8 533h0M915.4 521.1h0M900.7 495.7h0M909.1 531.2h0M921.8 530.9h0M901 528.1h0M898 531.1h0M915 533h0M909.1 527.8h0M897.9 532.4h0M898.1 523.8h0M917.7 533h0M914.2 507.5h0M898.1 519.3h0M905.4 532.8h0M933.4 532.5h0M931.3 518.3h0M903.3 495.3h0M937.8 533h0M934.8 528.7h0M897.2 523.2h0M932.1 521.2h0M935.4 530.8h0M899.5 530.4h0M904.7 519.9h0M903.8 523.3h0M905 527.6h0M917.7 513.5h0M898 526.9h0M905.5 519.9h0M922 521.8h0M900.8 532.8h0M932.9 532.4h0M920.7 533h0M915.6 532.5h0M919.1 533h0M934.8 527.6h0M916.8 529.1h0M927 530.9h0M917.6 530.8h0M897.4 526.5h0M927.6 526.7h0M899.1 533h0M901.3 518.1h0M904.9 532.2h0M933.7 533h0M929.1 532.1h0M928.1 532.4h0M912.1 532.9h0M904.1 518.1h0M919.7 532.8h0M917.7 499.3h0M915.9 532.2h0M919.9 526.3h0M918.6 512.6h0M941.2 533h0M903.2 532.9h0M954.1 527.2h0M924.2 526.2h0M900.9 531.3h0M900.2 530h0M899.3 533h0M898.4 527.4h0M901 533h0M924.2 520.5h0M942.6 527.1h0M943.4 530h0M912.6 530h0M905.7 533h0M921.5 532h0M922.8 508.1h0M926.7 529.7h0M913.8 505h0M903 521.3h0M915.5 524.6h0M904.5 527.8h0M911.6 511.8h0M946.4 533h0M927.2 530.2h0M917.9 527.3h0M927.8 531.4h0M907.7 524.9h0M947.2 532.3h0M908.7 526.9h0M954.2 533h0M915.7 524.4h0M935.5 532.3h0M916.5 532.4h0M907.5 533h0M904.2 529.8h0M904.7 529.2h0M904.4 532.1h0M906 517.4h0M916.8 498.3h0M900.3 500.1h0M898.9 532.2h0M897.5 524.7h0M897.4 533h0M918 523.3h0M899.3 517.7h0M908.8 502.3h0M914.6 527.3h0M952.7 532.9h0M909.7 512h0M922.3 533h0M897.4 531.6h0M947.7 533h0M897.6 481.3h0M900.4 531h0M932.7 531.8h0M898.1 528.3h0M922.6 532.9h0M903.8 530.9h0M897.3 511.4h0M899.2 532.4h0M909.4 513h0M899 474.7h0M911.7 532.8h0M901.4 523.6h0M899.2 532.7h0M944.6 526.2h0M916.5 517.4h0M899.7 531.7h0M897.4 520h0M897.2 532.9h0M954.1 533h0M950.8 531.8h0M911 532.9h0M907.7 530.9h0M920.7 502.2h0M905.5 533h0M946.4 532h0M908.2 512h0M917.8 527.4h0M900.4 501.2h0M903.2 520.2h0M901.7 532.3h0M916.9 517.8h0M947.8 530.3h0M917.5 525.2h0M904.4 491.2h0M914.8 533h0M910.5 531.3h0M900.8 512.7h0M928 516.2h0M933.8 516.1h0M901.7 521.9h0M908.1 514.6h0M920.3 533h0M904 532.4h0M898.7 531.7h0M910.7 531.7h0M900.7 501.1h0M898.6 532.1h0M920 530.8h0M918 533h0M941.5 532.3h0M929.5 531.4h0M929.9 533h0M904.1 479h0M898.8 492.8h0M907.1 527.4h0M904.3 530.7h0M950.6 532.2h0M900.4 505.5h0M902.3 524h0M926.3 530.6h0M899.3 508h0M939.9 529h0M940.9 531.8h0M902.1 530.8h0M927.1 513h0M903.8 501.9h0M924.6 532.7h0M929.3 531.4h0M900.5 522h0M903.4 524.2h0M944.5 532.9h0M913.5 527.5h0M901.2 519.2h0M903.3 490.6h0M932.1 530.1h0M903.2 532.8h0M902.7 524.5h0M915 532.9h0M923.8 529.7h0M948.4 532.5h0M910 510.8h0M908.2 510.1h0M913 532.9h0M937.1 522.5h0M900.1 530.7h0M914.2 533h0M908 533h0M912.7 528.3h0M940.2 526.4h0M903.9 515.4h0M945 533h0M912.7 532.9h0M903.4 526.2h0M897.3 525.6h0M904.6 533h0M912.7 532.7h0M902 483.5h0M909.1 525.4h0M899.5 478h0M915.1 532h0M918.9 523.7h0M910.9 529.6h0M899.3 504.9h0M898 533h0M916.9 508.5h0M936.5 532.8h0M928.6 532.9h0M901.7 527.1h0M914.5 527.1h0M938.4 531.3h0M906.6 528h0M901.6 510.4h0M901.3 526.2h0M899.2 508.9h0M906.7 508.5h0M901.1 525.9h0M933.8 526.2h0M902.1 532.9h0M915.6 497.1h0M908 516.3h0M919.9 501.7h0M908.1 533h0M899.4 484.9h0M902.3 521.3h0M917.5 506.6h0M908.7 532.3h0M937.5 529.7h0M952.9 529.9h0M918.9 529.3h0M897.2 496h0M906.5 533h0M923.2 505h0M923 532.8h0M906.1 530.9h0M904.9 515.9h0M922.2 532.3h0M907.6 531.4h0M903.5 517.1h0M927.5 524.2h0M945.8 525.1h0M946 528.5h0M906.9 512.2h0M946.9 532.8h0M906.3 533h0M937.4 525.8h0M900 527.4h0M904.5 530.7h0M909.1 494.3h0M905.1 522.8h0M923.6 522.8h0M897.9 530.3h0M929.6 532.9h0M909.6 510.7h0M902.1 526.1h0M943.9 533h0M904.3 533h0M898.4 499.1h0M912.6 523.3h0M903.6 513.3h0M900.5 532.5h0M898.5 477.9h0M905.6 531.7h0M908.6 532.4h0M937.9 532.7h0M898.1 494h0M922.5 532.8h0M907.1 532.8h0M936.6 521.6h0M898.3 532.3h0M908.2 521.6h0M929.8 517.5h0M940.9 530.7h0M923.4 512.3h0M923.4 530.1h0M929.6 527.7h0M904.3 533h0M924.8 533h0M926.6 521.1h0M901.8 495.5h0M913.7 498.2h0M940.9 533h0M902.9 501.9h0M912.5 532.9h0M911.9 531.2h0M907.4 532.9h0M916 511.5h0M907.4 531.4h0M937.1 529.4h0M948.7 528h0M902.3 512.8h0M900.8 532.7h0M797.3 520.4h0M817 526h0M833.9 489.5h0M839.3 501.5h0M842 492.3h0M966.2 521.1h0M948.4 505h0M837.5 526h0M841.1 527.4h0M844.7 507.8h0M842.9 514.8h0M846.5 501.5h0M851.8 478.3h0M853.6 469.9h0M858.1 462.9h0M860.8 471.3h0M939.4 500.8h0M935.9 508.5h0M925.1 490.9h0M919.8 489.5h0M916.2 373.2h0M899.2 390.7h0M901.9 399.8h0M863.4 420.8h0M862.5 430h0M898.3 417.3h0M903.7 422.2h0M901.9 427.9h0M896.5 426.4h0M859.9 440.5h0M864.3 441.9h0M866.1 447.5h0M905.5 434.9h0M910.8 438.4h0M923.3 439.1h0M900.1 441.9h0M908.1 443.3h0M901.9 452.4h0M896.5 453.8h0M863.4 454.5h0M854.5 462.9h0M903.7 457.3h0M901 454.5h0M906.4 465.7h0M913.5 468.5h0" stroke="#9c8bcb" stroke-width="2.1" stroke-linecap="round" fill="none"/>
<path d="M880.4 528.9h0M879.1 527h0M873.3 520h0M879.7 524h0M880.9 530.4h0M880.8 531.8h0M876.7 519.3h0M878.6 514.1h0M881.6 530.3h0M871.1 516.2h0M879 530.4h0M882.4 530.5h0M880.6 525.9h0M880.4 529.7h0M872 512.4h0M876.5 531.3h0M874 526h0M872.3 500.8h0M880.2 529.9h0M873.2 525.8h0M880.1 528.1h0M871.3 485.7h0M870.7 512.2h0M872.5 498.9h0M873 529.2h0M876.6 520.5h0M882.4 530.6h0M879.6 528h0M876.1 532.8h0M873.5 507.4h0M879.6 524.3h0M880.8 527.8h0M876.3 527.4h0M875.9 523.6h0M873.8 524.5h0M877.5 531.6h0M872.1 508.2h0M871.2 501.4h0M880.4 530.2h0M877.2 531.9h0M871.6 498.7h0M879.8 531h0M876.9 525.1h0M872.1 502.2h0M875.3 514.9h0M876.3 522.9h0M874.4 512.1h0M876.5 529.6h0M870.9 505.1h0M874.4 504.2h0M874.3 515h0M879.2 518.2h0M875.1 515.3h0M874.4 532.9h0M875.7 525.5h0M878.4 528.2h0M874.6 521.7h0M881.7 529.9h0M869.9 516.2h0M881.6 532.8h0M878.1 521.9h0M874.9 529.5h0M878 516.5h0M872.1 527h0M881.8 530.2h0M871.3 507h0M882.9 531.9h0M882.4 532.7h0M879.3 523.7h0M870.9 528.3h0M873.9 504.4h0M880.5 528.9h0M873.2 522.6h0M872.8 526.6h0M875.4 517.7h0M874.2 505.6h0M872.4 531.8h0M870.7 508.5h0M870.2 507.2h0M877.1 513.9h0M872.2 505.6h0M870.7 513.7h0M881.7 532.6h0M872.6 511.7h0M879.8 532.5h0M871.5 529.1h0M871.8 498.4h0M873.2 501h0M878.1 521.6h0M882.7 531h0M876 515.4h0M881.2 531.5h0M870.1 515.4h0M880.5 528.5h0M879.1 524.6h0M871.4 497.6h0M879.1 524.2h0M876.8 512.3h0M881.8 533h0M878.9 527.8h0M880.2 525.6h0M871.1 500.5h0M880.8 526.3h0M878 525.6h0M875.2 516h0M876 525.2h0M878.1 526.7h0M878.4 521.5h0M878.4 526.9h0M877.9 519.1h0M872.7 530.9h0M870.6 494.2h0M875.4 516.5h0M878.2 512.6h0M873.9 522h0M880.3 529.5h0M870.3 512.4h0M881.5 532.9h0M876.1 531.7h0M880.9 526h0M876.5 511.2h0M879.1 529.5h0M877.8 513.1h0M875.4 530.8h0M879.6 526.2h0M873.5 517.9h0M881.8 528.5h0M876.4 527.2h0M871.6 496.5h0M870 527.7h0M873.9 522.3h0M880.1 529.6h0M875 523.9h0M876.9 513.9h0M881.2 530.4h0M877 519.6h0M880.5 530.5h0M874.8 499.9h0M879 531.3h0M873.9 518.4h0M882.5 531.5h0M882.6 530.8h0M878.6 523.1h0M879.3 533h0M874.3 514.8h0M873.5 499.1h0M872.5 517.4h0M880.2 532.1h0M878.5 530.9h0M874.9 521.5h0M870.1 529.8h0M871.1 500.2h0M870.3 507.2h0M882.9 531.7h0M881.4 526.5h0M875.4 523.4h0M880.1 524.9h0M878.7 520h0M870.2 520.9h0M874.9 530.6h0M872.9 504.2h0M881.1 526.1h0M881.9 532h0M873 532.6h0M872.6 512.1h0M876.9 524.7h0M872.5 524.1h0M874.1 508.6h0M870.1 513.5h0M870.9 527.6h0M872.4 501.3h0M882.7 532h0M877.8 525.6h0M880.6 525h0M878.3 524h0M882.5 530.9h0M878.9 521.2h0M871.3 494.4h0M876.3 532.3h0M881.2 528.9h0M870.1 523.2h0M874.9 523.4h0M874 510h0M881.7 531.4h0M874.5 508.5h0M880.6 527h0M872.4 529.8h0M878.9 529.3h0M870.1 515.4h0M882.9 532.9h0M875.1 507h0M874.9 507.6h0M870.9 495.4h0M877.9 524.3h0M881.7 532.3h0M880.4 525.8h0M876.6 521.2h0M877.3 515.6h0M875.6 522.9h0M873.1 519.6h0M875 510.3h0M871.2 520h0M875.6 524.8h0M880.7 525.4h0M879.9 523.1h0M872.2 500.9h0M873.4 508.3h0M882.5 529.8h0M882 530.7h0M877.5 523.2h0M878.8 518.9h0M872.9 532.9h0M872.5 501.8h0M877.7 527.9h0M872.4 520.3h0M872.7 531h0M872.5 532.4h0M874.4 532.8h0M876.1 517.5h0M871.7 510h0M881.3 531.1h0M872.3 525h0M876.7 525.7h0M872.5 500.4h0M876.2 510.9h0M882.2 531.2h0M878.7 518.9h0M882.2 530.4h0M872.3 498.4h0M871.7 520.8h0M870.6 498.9h0M872.5 514.8h0M874.8 519.9h0M876 526.4h0M872 532.1h0M872.1 514.3h0M874.1 505.6h0M872.4 531.3h0M872.7 502.5h0M882.1 532.7h0M882.7 531.4h0M882.9 531.8h0M882.5 532.8h0M870.1 519.9h0M871 514.7h0M871.1 508.8h0M876.5 526.2h0M870 521h0M878.9 530.8h0M870.1 528.7h0M871.6 524.4h0M879.7 523.1h0M878.5 532.7h0M878.6 519.4h0M876.4 506h0M879.1 522.5h0M880 527.2h0M871.6 501h0M873.4 522.3h0M871.7 527.9h0M881.5 529.2h0M873.6 522.9h0M874.6 526.3h0M873.6 521h0M882.9 532.5h0M874.2 509.8h0M870.2 519.9h0M873.3 495.6h0M877 520.6h0M874.8 521.4h0M881.9 531.5h0M871 520.9h0M877.5 519.6h0M871 518.8h0M871.3 511.4h0M870.4 514.2h0M880 527.3h0M876.6 528.5h0M878.6 527.3h0M881.8 528.9h0M881.7 532.7h0M874.6 501.8h0M870.8 522.4h0M871.7 507.8h0M872.8 515.8h0M870.3 510.3h0M881.8 528.2h0M878.3 514.1h0M873.4 520.5h0M876.5 527.5h0M871.1 510.4h0M881.9 528.8h0M881.4 528.3h0M879.6 522.2h0M879.4 531.1h0M874.3 515.3h0M881.7 528.5h0M872.1 531.8h0M874.4 504.9h0M882.4 530.6h0M877.8 517.4h0M881.2 527h0M878.5 529.9h0M877.5 509.9h0M880.4 529.8h0M877.6 515.3h0M879.3 522.8h0M877.5 515.5h0M881.9 532.4h0M873.5 505.6h0M874.8 517.8h0M882.2 531h0M876.9 532.7h0M876.3 523.3h0M874.3 525.6h0M875.7 508.6h0M879.2 520.6h0M870.9 500.4h0M880.9 527.4h0M876.3 508.3h0M873.3 502.4h0M880.4 532.8h0M880.4 528.9h0M876.2 521.1h0M874 513.7h0M873.4 496.3h0M874.4 518.7h0M870.9 527.4h0M875.3 508.5h0M881.6 530.7h0M876.1 527.7h0M870.8 529.4h0M874.6 508.7h0M882.1 532.3h0M874.3 526.3h0M880.4 532.5h0M870.6 501.8h0M876.5 514.1h0M871.4 524h0M871.1 499.4h0M872 505.5h0M874.1 512.7h0M881.4 529.5h0M877.7 523.1h0M877.5 531.7h0M873.7 514h0M877.8 518.4h0M870 511.9h0M873.4 523.8h0M879.6 524h0M881 527.8h0M875.3 501.7h0M871.8 501.3h0M870.7 499.7h0M882.9 532.2h0M876.5 527.9h0M878.5 519.2h0M882 530.8h0M876.7 513.2h0M870.7 518.4h0M880.7 525.1h0M880.5 525.6h0M877.7 515.9h0M870 531.1h0M878.6 531.2h0M871 512.9h0M873.6 526.5h0M874.8 530.8h0M874.1 510.6h0M881.5 528.6h0M871.1 494.6h0M877 519.6h0M876 530.7h0M876.4 530.6h0M877.5 519h0M879 527.2h0M870.5 508.4h0M874.7 508.4h0M880.6 531.5h0M871.7 498.8h0M882.5 530.4h0M873.9 505.4h0M874.2 517.2h0M875.8 530.3h0M881.7 528.2h0M879.3 523.6h0M881.6 532.4h0M871.4 488.9h0M872.3 509.2h0M878.9 523.3h0M876.1 520.4h0M876.4 531.4h0M882 528.4h0M876.8 523.5h0M878 526.7h0M870.3 514.7h0M881.1 529.7h0M878.5 519.3h0M875.1 507.2h0M875 524.2h0M871 529.2h0M877.3 522.5h0M881.4 530.7h0M881 531.4h0M879.1 521.6h0M871.3 506h0M872.3 530.1h0M871.5 528.8h0M882.3 529.5h0M877.3 532.1h0M879.9 527h0M879.7 523.6h0M870 522.2h0M880.6 524.5h0M876.7 532.6h0M877.2 515h0M870.7 528.2h0M880.1 531.5h0M877.6 517h0M875.1 531.8h0M880 527.8h0M881.8 529.3h0M882.2 530.4h0M872.6 510.5h0M877.7 531.1h0M881.1 530.2h0M882.6 530.6h0M876.9 524.7h0M876.6 519.1h0M873.9 507h0M873.9 529h0M882.1 529.8h0M877.8 532.9h0M882.2 532.3h0M873.8 528.2h0M874.8 532.9h0M878.5 515.9h0M878.2 522.9h0M880.1 529.8h0M875.6 531.9h0M874.3 515.4h0M876.4 521.2h0M873.7 513.1h0M880.2 531h0M870.4 512.8h0M877.4 527.7h0M881.2 524.5h0M876.5 517h0M872.3 520.7h0M876.7 513.8h0M882.9 532.1h0M881.7 532.1h0M874.7 528.1h0M878.2 518h0M874.8 516h0M876.3 512.5h0M876.9 529.2h0M872.6 505.4h0M882 531.6h0M871.3 523.5h0M881.5 529.7h0M881 532.5h0M880.7 526.8h0M875.1 508h0M874.5 529.7h0M880.4 525.9h0M877.3 515h0M878 526.3h0M874.4 527h0M880.5 526.5h0M872.4 512.6h0M881.7 531.1h0M873.9 518.4h0M879 523.2h0M875.1 508.2h0M871.5 503.9h0M875 517.2h0M870 521.2h0M878.1 523.3h0M875.4 520h0M874.5 520.5h0M874.9 532h0M874.4 506h0M878.5 524h0M880.3 532.4h0M870.2 525.2h0M877.3 515h0M875.4 526.6h0M870.4 507h0M870.5 514.6h0M878.2 526.7h0M875.4 525.9h0M874.4 522.7h0M870.9 509.9h0M879.2 517.5h0M874.7 517.1h0M874.4 526.4h0M878.3 529.7h0M875.9 516.9h0M870.7 513.2h0M882.9 531.3h0M871 488.6h0M872.1 499h0M882.5 530.5h0M875.9 524.5h0M872.3 495.7h0M872.4 500.7h0M872.8 524.8h0M871 531.4h0M871.2 500.7h0M881.8 532.3h0M877.7 515.8h0M877.8 522.4h0M877.7 520.2h0M881 532.9h0M874.1 510.8h0M874.8 522.7h0M877.9 515.4h0M879.5 530.4h0M873.9 495.9h0M871.3 518.4h0M873.8 517.5h0M880.2 523.3h0M879.3 530.8h0M870 531.4h0M870.6 523.3h0M871.9 521.8h0M875.2 501h0M879.6 523.8h0M882.1 529.8h0M873.7 498.6h0M881.2 526.7h0M875.5 532.7h0M873.4 515.4h0M882.7 532.4h0M871 500.4h0M872.9 517.2h0M880.5 531.2h0M875.7 531h0M873 519.7h0M879.6 522.1h0M882.6 532.1h0M874.2 512.1h0M870.1 505.6h0M872.7 513.7h0M877.8 519.6h0M880.8 530.1h0M875.7 510.6h0M881.2 532.9h0M871 506.2h0M880.1 531h0M881.2 529.3h0M880.2 532.2h0M879.2 521.9h0M881.5 532.9h0M878.1 527h0M873.9 519.5h0M872 532.7h0M872.4 530.2h0M871.8 501.1h0M878.3 532.9h0M882.3 530.6h0M875.3 521.5h0M873 517.2h0M874.3 499.7h0M872.1 524.8h0M879.2 528.2h0M880.3 524h0M872.9 523.2h0M872.5 517.9h0M876.7 530h0M882.5 531.7h0M879.4 526.5h0M877.8 512.7h0M877.7 519.2h0M877.5 528.6h0M870.9 527.7h0M879.5 530.3h0M875.5 527.9h0M882.5 532.5h0M879.2 523.5h0M872.8 513h0M874.9 527.9h0M872.4 521.9h0M873 519.2h0M872 528.6h0M881.2 526.9h0M876.5 531.1h0M871.3 513.6h0M872.1 530.2h0M871.7 532.7h0M880.4 526.9h0M872.8 498.5h0M876.1 531.3h0M875.7 532h0M876.2 507.9h0M873.6 521.9h0M878.1 528.7h0M882.7 531.1h0M876.8 524h0M882.5 532.5h0M871.3 496.7h0M878.2 524.7h0M874.7 508.5h0M881 528h0M878.6 521.5h0M878.8 528.8h0M872.4 503.3h0M869.9 524.2h0M881.9 528.5h0M872.2 515.6h0M878.3 513.1h0M880 523.8h0M873.1 505.6h0M878.6 532.6h0M879.9 523.3h0M881.3 532h0M874.4 518.6h0M874.9 521.3h0M872.6 512.9h0M882.6 532.5h0M873.4 515.8h0M878.5 531.6h0M877.1 513.5h0M877.3 527.8h0M878.1 524h0M879.3 527.3h0M873.6 523.8h0M877.4 514.8h0M881.9 532.8h0M877.4 531.1h0M876.1 520.7h0M870.2 503.4h0M879.3 521h0M872.3 501.5h0M878.4 529.6h0M877.4 515.9h0M882.3 528.9h0M871.3 525.6h0M882.1 532.6h0M870.5 530.3h0M877.4 512.8h0M875.7 510h0M878.1 525.4h0M877.8 515.1h0M874.3 521.8h0M874.7 507.3h0M882.2 532.5h0M875.7 528.2h0M870.7 526h0M876.7 526.5h0M872 525.7h0M870.1 528.4h0M881.4 527.6h0M872.8 529.6h0M879 530h0M881.9 529.3h0M876.3 529.3h0M871.4 529.3h0M873.2 528.5h0M878.9 515.9h0M880.6 524.6h0M879.4 526.3h0M881.7 532.7h0M881.1 528.5h0M876.9 530.6h0M877.1 522h0M871.2 531.6h0M870.9 501.6h0M874.8 515.6h0M881.8 528.4h0M877.5 518.6h0M878.9 516.9h0M878.5 522.5h0M881.1 528.9h0M873 532.3h0M874 507.6h0M873.9 509.6h0M882.7 531.9h0M871.5 486.7h0M876.1 516.4h0M882.5 530.8h0M872.2 520.5h0M874.6 513.4h0M880.7 531.6h0M878.6 522.2h0M881.7 531.4h0M874.7 524.9h0M878.7 525.9h0M881.2 529.2h0M880.5 528.4h0M876 524.7h0M877.7 526.9h0M876.9 531.1h0M876.4 512.2h0M871.4 524h0M872.5 504.7h0M882.3 531.9h0M877.7 521.1h0M874.5 527.3h0M871.8 513.7h0M880.9 523.2h0M875.8 526.7h0M871.8 531.7h0M874.8 525.9h0M870.9 517.5h0M880.7 527.1h0M872 519.8h0M880.1 526.8h0M877.2 516.6h0M872.1 528.6h0M873.7 520.2h0M880.9 532.9h0M875.9 531.1h0M881.3 532.7h0M877.8 523.9h0M874.3 530.1h0M880.7 529.6h0M880.1 527.1h0M874.8 501h0M873.9 510.8h0M878.4 519.6h0M882.4 529.2h0M876.6 532.5h0M876.5 511h0M881.3 529.8h0M879.5 530h0M873.7 521h0M871.7 515.4h0M880.2 531.7h0M873.9 527.7h0M878.7 519.4h0M873.7 510.4h0M874.9 499.6h0M873.4 506.3h0M880.8 528.1h0M870.5 517.1h0M873.4 512h0M878.6 520h0M878 532.4h0M880.5 526.9h0M877.2 527.2h0M871.6 512.1h0M879.6 527.3h0M872.1 519.2h0M875.6 515.6h0M874.6 530.5h0M875 513.5h0M870.4 512.1h0M881.8 532.7h0M875.7 514.9h0M882.9 531.2h0M875.5 529.3h0M879.2 525.1h0M872.2 531.4h0M874.6 524.4h0M880.9 531.7h0M872.6 518.9h0M870.9 491.4h0M882.9 531.9h0M881.8 532h0M875.3 524.5h0M877.2 521.2h0M882.1 530.5h0M879.8 522.6h0M873.3 501.6h0M881.5 531.2h0M875.5 513.1h0M876.6 524.7h0M871.6 530.9h0M878.4 531.9h0M873.1 505.8h0M870.1 517.2h0M879.5 521.1h0M873.7 509.4h0M872.2 521.9h0M879.1 522.6h0M878.6 521.8h0M873.3 525.1h0M881.4 528.9h0M878.3 528.5h0M873.1 530.4h0M880.4 523.7h0M880.1 523.9h0M882.4 531.6h0M878.6 526.7h0M881.6 530.5h0M882.1 530.3h0M872 519.9h0M880.5 526.7h0M881.7 530.1h0M870.7 530.5h0M879.5 530.2h0M870.8 521.5h0M872.4 525.3h0M872.3 525.6h0M881.1 525.4h0M877.8 527.7h0M872.8 513.5h0M871.8 504h0M890.3 522.4h0M885.7 528.4h0M887.7 528.7h0M894.8 501.2h0M890.8 521.6h0M888.2 519.9h0M896.8 487.4h0M892.6 499.1h0M888.4 531.1h0M896.7 531.3h0M886.1 528.7h0M889.4 531.3h0M887.9 525h0M891.5 529.9h0M894.7 523.2h0M893 516h0M895.2 469.8h0M895.9 526.1h0M886.9 523.5h0M887.4 526h0M890.1 515h0M893.2 490.9h0M885.6 530.3h0M885.1 532.4h0M896.3 519.7h0M888.3 530.1h0M890.2 501.2h0M887.2 519.7h0M894.5 484.5h0M892.4 505.5h0M893.2 514.1h0M891.5 530.4h0M890.1 517.8h0M891 505.9h0M891.6 518.4h0M895.8 528.8h0M895.6 529.1h0M895.4 474.6h0M897.2 514.9h0M885.7 531.9h0M888.1 521.8h0M885.9 526.9h0M885.8 532.9h0M887.9 532h0M886 526.5h0M892.3 532.7h0M894 517.1h0M888.3 517.6h0M893.1 504.7h0M887.4 527.4h0M894.6 498.5h0M885.2 532.3h0M889.9 515.4h0M886.5 532.5h0M890.3 515.8h0M889 529.9h0M888.1 530.4h0M889.5 526h0M888.8 522.6h0M887.6 519.1h0M895.9 479.8h0M891.4 499.9h0M896.7 508.8h0M895.6 508h0M890.9 499.1h0M891.6 532.5h0M886.6 526.3h0M886.4 527.5h0M886.7 525.5h0M887.1 528.7h0M887.2 521h0M888.3 527.5h0M895.8 479.2h0M890.9 515.1h0M886.3 532.4h0M893 515.9h0M895.7 525.7h0M888.4 529.1h0M892.9 532.1h0M895.3 508.4h0M892.6 493.7h0M894.9 479.3h0M885.7 531h0M893.2 487.4h0M885.9 531.1h0M889.4 513.5h0M885.1 532.3h0M888.9 531.6h0M888.5 529.4h0M895.6 494.7h0M886.1 531h0M889.6 510.9h0M891.3 524.4h0M886.8 530.9h0M887.9 515.9h0M892.5 531.6h0M888.2 528.5h0M893.4 495.5h0M888 525.7h0M894.7 518.9h0M886.7 523.4h0M897.2 508h0M887 525.6h0M893.6 515.4h0M896.9 486.9h0M889.8 530.6h0M888.1 532.5h0M888.2 515.1h0M895.5 487.5h0M890.3 524.6h0M889.5 531.8h0M888.8 521.1h0M890.8 525.9h0M895.6 473.3h0M891.2 497.9h0M890.2 514.2h0M885.2 531.4h0M896.5 472.7h0M890.1 519.3h0M896.7 525.2h0M885.1 531.9h0M893.1 488.8h0M895.1 505.2h0M885.3 530.3h0M895.2 466.6h0M892.5 492.9h0M886.9 528.8h0M892.9 496.8h0M895.3 530.7h0M888.3 524.6h0M890.1 518.1h0M896.7 500.1h0M896.2 527.8h0M889.7 526.1h0M892.2 493.3h0M893.6 522.2h0M893.6 492.5h0M892.4 496.2h0M891.4 503.2h0M885.1 532.5h0M885.7 528.3h0M891.7 505.4h0M885.8 532.1h0M889.7 517h0M894 511.8h0M887.4 528.6h0M886.4 530.2h0M891.8 508.4h0M891 500.5h0M886.4 528.6h0M895.1 526h0M885.7 530.5h0M895.9 511.8h0M891.7 516.6h0M892.4 489.2h0M888.5 524.5h0M892.9 509.2h0M894.3 529.2h0M889.7 524.2h0M893.2 502.7h0M893.6 488.4h0M891.3 524.9h0M894.8 520.7h0M891.2 503h0M887.9 529.1h0M896.3 475.8h0M889.4 519.2h0M894.3 489.6h0M895.6 528.2h0M890.4 525.4h0M887.1 524.4h0M887.4 532.4h0M887.1 531.7h0M886.3 531.8h0M891.6 528.4h0M894.7 496.9h0M885.4 532.1h0M892.7 517.5h0M887.7 522.4h0M893.9 502.4h0M886.7 529.6h0M896.6 501.3h0M890.8 513.6h0M896.3 488.3h0M885.2 531.9h0M896.3 470.3h0M895.2 510.2h0M887.8 521.1h0M889.2 523.8h0M892.6 501.8h0M893.9 503.6h0M886.8 527.7h0M889.9 517.3h0M894.9 515.1h0M889 515.3h0M894.8 489.3h0M887.8 532.1h0M889.3 509.5h0M885.3 531.3h0M897 498.3h0M888.4 525.3h0M891.4 510.1h0M885.6 528.8h0M886.3 527h0M894.9 483.3h0M892.3 505.2h0M886.3 532.5h0M888.5 525h0M887.2 524.3h0M891.9 521.2h0M897.1 525h0M890.6 523.3h0M895 529.6h0M889.7 507.8h0M893 508.3h0M896.2 529.9h0M890.1 529.2h0M895.5 504.2h0M896.8 520.7h0M889 517.5h0M896.3 530.2h0M895.4 513.3h0M896.7 480.5h0M892.5 523.9h0M887.2 530.7h0M891.2 504.6h0M892.2 492.9h0M887.7 522.6h0M892 507.7h0M895.5 518.8h0M887.4 528.8h0M891 499.4h0M886.7 528.6h0M885.8 526.6h0M887.3 526h0M887.8 530.8h0M895.1 471.1h0M891.7 494.8h0M890.8 528.8h0M894.4 480.3h0M889.4 511.8h0M888.7 529.7h0M891 515.9h0M897 506.1h0M889.1 529h0M894.3 517.5h0M886 531.4h0M886.9 527.1h0M892.7 506.1h0M893.5 525.1h0M893.5 522.5h0M894.4 527.1h0M894.9 497.6h0M892.9 490h0M886.4 531.3h0M896.2 472.3h0M888.8 529.1h0M887.5 523.7h0M894.1 492.9h0M891.1 520.3h0M894.1 487.2h0M891.3 516.7h0M896.2 507.1h0M894.1 521.4h0M889.5 507.4h0M892.4 504.3h0M895.7 494.8h0M897.2 524.8h0M896.6 474.5h0M887.1 526.2h0M886.5 531.7h0M890.3 519.3h0M892.9 488.6h0M889.8 532.4h0M893.8 482.7h0M891.1 507.9h0M888 527.2h0M894.5 504.8h0M892.3 494.6h0M894.6 501.3h0M887.7 515.7h0M895 521.3h0M885.5 529.6h0M892.1 498.4h0M896.5 516.8h0M894.9 532.2h0M890.6 510.3h0M890.4 515.2h0M887.6 523.3h0M886.3 524.2h0M891.8 497.5h0M889 517.2h0M897.1 520.8h0M894.9 508.7h0M890.4 514.4h0M890.4 527.7h0M886.9 523.4h0M893.3 499.8h0M892.5 497.4h0M890.4 526.2h0M891.4 521.5h0M885.8 529.4h0M895 480.2h0M889 520.3h0M888.8 526.2h0M886.6 527.7h0M889.8 528.6h0M888.5 521.8h0M886.7 529.1h0M895.4 478.1h0M893.5 525h0M895.4 503.7h0M885.8 529.3h0M890.9 502h0M896.2 530.2h0M885.9 530.5h0M892.4 526.6h0M891.5 514.1h0M885.4 531.1h0M887.2 532.5h0M892.7 505.6h0M896.4 523.5h0M890.7 505.8h0M890.6 527.7h0M891.9 529.4h0M887 525.8h0M890.2 524.2h0M896.8 500.7h0M886 529.5h0M894.5 504.4h0M885.3 530.7h0M889.7 531.5h0M885.3 532.7h0M891 498.6h0M887.2 525.5h0M886.9 525.8h0M890 510.5h0M889.6 521.7h0M895.8 494.6h0M889 521.5h0M894.7 486.3h0M889.6 530.8h0M895.4 505h0M894.4 499.6h0M885.5 532.6h0M890.6 511.6h0M895 506.7h0M889 526h0M892.4 489.7h0M894 483.7h0M892.8 522.8h0M895.7 460.6h0M892.4 504.7h0M895.9 487h0M895.9 472.5h0M889.9 505.1h0M886.2 526.3h0M890.6 522.9h0M887.7 522.3h0M889.1 532.8h0M892.2 532h0M888.9 527.8h0M896.4 528.5h0M896.9 496.8h0M897.1 509.2h0M885.4 530.5h0M886.8 523.4h0M886.2 532.5h0M889 525.3h0M895.9 515.7h0M890.5 503.4h0M894.4 494.1h0M892.8 488.9h0M886.2 525.6h0M886.8 530.9h0M886.1 530.7h0M888.2 530.8h0M890 526.4h0M895.3 487.9h0M890.5 513.6h0M889.2 522.6h0M890.9 517.1h0M885.6 532.9h0M888.7 523.3h0M888.6 522.2h0M889.3 518.5h0M892.9 492.8h0M890.9 512.1h0M894.8 516.8h0M895.7 487.1h0M887.5 529.9h0M886.8 528.5h0M892.2 502.9h0M888.1 515.1h0M890.3 526.2h0M885.7 528h0M889.1 532.6h0M892.7 529.6h0M891.2 520.4h0M892.9 523.2h0M897 502.3h0M892.2 499.7h0M894.6 531.7h0M891.8 521.4h0M896.6 531.8h0M892.2 501.1h0M892.8 513.8h0M895.6 485h0M894.2 510h0M887 521h0M893.1 530.9h0M891.7 513.9h0M894.3 483.9h0M888.2 529.9h0M894.2 504.1h0M889.2 518h0M886 528.3h0M894.4 528.2h0M894.9 509.2h0M886.6 525.8h0M888.7 525.8h0M897 517.9h0M896.9 525.1h0M896.3 515.9h0M894.6 518h0M894.7 488.8h0M890.1 526.4h0M888.8 517.2h0M895.6 522.7h0M892 500.6h0M893.6 528.4h0M888.6 516.2h0M890.8 492.8h0M887.9 526.1h0M888 530.3h0M885.8 531.8h0M890.6 517.4h0M886.1 531.4h0M887 527.9h0M891.4 500.8h0M888.7 509.2h0M889.9 530.6h0M896.4 508.2h0M894.2 487.2h0M893 523.7h0M895.2 483.8h0M893.9 513.3h0M889.8 514.9h0M887.6 521.3h0M888.1 525.7h0M890.8 518.6h0M888.8 523.9h0M894.9 521.5h0M886.2 527.9h0M896.6 512.9h0M886.3 531.8h0M894.8 531.6h0M897 524.5h0M891.4 504.2h0M888.1 530.9h0M885.9 528.8h0M889.4 524.4h0M892 501.7h0M886.4 525.6h0M896.1 532.1h0M885.7 530h0M887.2 524.9h0M891.5 500.9h0M896.5 467.2h0M893.7 513.1h0M886.3 530.3h0M896.4 482.6h0M888.5 527.1h0M895.5 474.6h0M891.5 528.1h0M887.3 530h0M892.9 528.4h0M893.1 504.6h0M888.4 526.9h0M888.1 529.6h0M894.5 531.5h0M891.5 528.2h0M893.9 492h0M890.9 529h0M894.2 503.9h0M890.9 523.2h0M888.5 530.6h0M895 532.1h0M885.1 532.6h0M892.5 493.5h0M893.4 492.8h0M887.5 523.2h0M885.3 531.7h0M892.4 493.2h0M888.6 530.5h0M896.1 512.7h0M893.7 532.8h0M888 526.8h0M892.5 510.5h0M896.2 484.1h0M887.6 521.1h0M892.6 521.6h0M891.5 511.2h0M885.1 531.9h0M893.7 505.2h0M886.6 531h0M894.5 522.8h0M894.8 464.5h0M886.3 530.1h0M894.5 521h0M894.6 483.5h0M895.7 507.5h0M885.2 530.9h0M885.6 530.2h0M891.9 499.2h0M892.4 529.6h0M887.5 520.6h0M894.2 497.2h0M896.6 452.7h0M889.9 522.6h0M892.5 494.7h0M895.5 501.1h0M886.3 531.9h0M896.9 522.6h0M889.8 507.6h0M891.6 529.9h0M896 475.3h0M890.7 522h0M886.6 525.5h0M887.3 528.2h0M894.5 511.8h0M895.1 493.6h0M889.3 520.4h0M886.4 527h0M888.9 521.8h0M887.3 531.2h0M891.9 496.3h0M894.3 479.3h0M890.6 499.8h0M894.9 483.2h0M891.1 512.4h0M894.3 494.8h0M886.2 529.5h0M885.5 533h0M888.6 514.7h0M890 499.2h0M889.4 530.6h0M885.7 532.2h0M892.1 508.8h0M886.3 530.8h0M894.4 524.8h0M894.1 483.2h0M890.5 495.8h0M888.9 520.1h0M891.5 519.9h0M891.2 512.2h0M894.8 524.3h0M885.1 531.2h0M887.7 531.4h0M885.8 531.5h0M892 502.9h0M896.8 501.3h0M887.3 520.2h0M886.9 528.7h0M890.6 519.8h0M888.6 530.3h0M888.6 529.3h0M887 528.2h0M892.4 490.6h0M885.3 532.1h0M895.1 488.4h0M887.7 525.4h0M889.7 507.1h0M894.5 483h0M887 525.9h0M897 501.4h0M891.9 513.8h0M894.4 532.2h0M885.2 532.6h0M896.9 501.5h0M891.2 533h0M889.7 510.3h0M887.4 532.4h0M890.9 503.7h0M896.2 508.8h0M889.9 501.1h0M891.3 529h0M888.4 531.1h0M891.3 498.2h0M889.2 524.2h0M891.5 528.7h0M896.1 478.7h0M888.3 516.7h0M887.6 520.9h0M896.9 522.1h0M893.4 485.4h0M888.6 530.9h0M887.5 519.5h0M887.4 515.4h0M896.7 493.3h0M896.2 486.5h0M890.1 523.7h0M888 530h0M895.8 509.8h0M896.9 498h0M896.9 502h0M893.1 520.9h0M889.9 529.9h0M892.3 512.8h0M894.5 517.8h0M893.3 501.6h0M886.1 526.3h0M891.3 521.6h0M894.8 504.5h0M894.3 491.8h0M889.6 509.5h0M887.5 518.6h0M890.2 525.1h0M888.5 518.7h0M888.1 527.5h0M885.6 529.1h0M890.5 532.7h0M892.9 506.4h0M895.5 499.3h0M885.3 531.1h0M889.9 526.1h0M889.6 530h0M895.2 531.5h0M892.7 509.5h0M896.3 473.9h0M897 499.1h0M885.7 531.6h0M888.7 512.2h0M892.7 504h0M890.3 514h0M889.3 526.2h0M896.4 501.2h0M889.6 507.9h0M888 519.1h0M891 506h0M886.7 521.4h0M888.5 525h0M897 508.7h0M889.7 527.1h0M892.7 481.6h0M897.2 503.5h0M893 518.5h0M895 522.8h0M886.2 532.1h0M885.3 531.2h0M892.5 500.4h0M888.2 524.6h0M892.8 527.7h0M892.6 495.9h0M890.4 507.5h0M892.7 518h0M886.2 533h0M897.2 525.7h0M893.8 513.8h0M891.2 525.2h0M894.6 511.8h0M896.9 482.3h0M887.6 529h0M887.6 524.5h0M892.6 495.5h0M893.8 522.5h0M895.8 520.8h0M888.4 532.6h0M892.4 502.4h0M894.5 487.9h0M889.4 526.6h0M895.1 482.7h0M889 516h0M890.7 529.8h0M890.8 503.3h0M895.4 510.9h0M897.1 532.1h0M890.5 510.8h0M894.9 496.7h0M891.7 526h0M892.4 504.2h0M889.8 525.6h0M893.4 530.7h0M890.5 499.7h0M885.3 530.1h0M896.1 489h0M886.6 528.3h0M894.1 481.5h0M887.1 524.7h0M892.7 530h0M894.5 486.1h0M894.7 518.7h0M887.9 532.4h0M887.3 524.7h0M885.4 532.5h0M886.8 526.9h0M885.5 530.1h0M893.3 487.6h0M887.3 527.4h0M887.2 531.9h0M895.8 510.1h0M886.1 527.5h0M894.9 522.7h0M886.2 525.8h0M893.3 500.7h0M890.5 512.2h0M894 513.5h0M886.8 520.7h0M885.2 531.8h0M886.3 528.1h0M891.6 504.1h0M890.6 523.2h0M886.2 526h0M886.6 527h0M885.4 530.1h0M892.7 510.6h0M887 522.4h0M886.8 532.3h0M892.1 530.6h0M896.9 495.1h0M894.1 507.4h0M887.3 529.4h0M887.8 520.7h0M896.5 531h0M885.4 532.4h0M891.6 523.4h0M894.2 482.5h0M894.7 529.7h0M887 530.3h0M897 528.4h0M896.1 505.6h0M896.9 493.7h0M887.6 523.1h0M888.8 520.9h0M888.1 528.3h0M891.6 522.2h0M885.4 530.8h0M893.9 499.9h0M890.7 501.5h0M887.4 529.9h0M888.9 519.9h0M889.4 525.9h0M888.8 531.8h0M889.7 506.2h0M896.9 529.7h0M894.2 484.9h0M887.9 522.7h0M886.2 528.4h0M888.4 527h0M892.8 495h0M892.6 497.5h0M893.1 529.2h0M894.2 507.9h0M889.6 531.8h0M889.6 510.5h0M893.7 514.8h0M885.7 532.2h0M895.8 481.6h0M892.6 518.3h0M893.4 494.8h0M888.5 532.7h0M887.5 527.4h0M887 524.7h0M893.6 529.9h0M896.6 508.8h0M895.9 502.9h0M885.8 527.6h0M890.2 512.3h0M887.7 519.4h0M890.8 523.6h0M892.1 509.3h0M892.6 510.1h0M896.9 501.1h0M891.6 509h0M888.4 524.6h0M889.1 523.5h0M885.8 528.4h0M892.6 496.2h0M893.9 491.9h0M887 531.9h0M892.8 491.9h0M892.7 523.2h0M894.1 498.8h0M887.9 525.7h0M894.2 509.1h0M893.9 506.1h0M892.1 521h0M887.8 532.6h0M896 512.8h0M889.5 514.7h0M893.1 517.2h0M893.2 505h0M888.6 509h0M886.9 520.7h0M891.3 511.4h0M896.9 490h0M885.5 530.1h0M885.7 530.9h0M894.8 504.6h0M893.4 487.6h0M885.3 531.2h0M892.5 511.3h0M891.1 503.7h0M887.2 527.9h0M890 505.1h0M894.4 491.1h0M888.3 519.3h0M890.3 521.8h0M892.1 526.9h0M886.1 532.3h0M889.7 524.9h0M895.5 508.3h0M889.1 510.5h0M894.1 507.4h0M895.5 524h0M891.1 505.7h0M893.6 525.7h0M888.3 523.1h0M889.3 529.4h0M892.3 528.9h0M888.7 519.3h0M895.7 519.2h0M888.2 525.7h0M892.8 507.2h0M892.1 494.2h0M889 531.2h0M891.3 499.2h0M887.8 527.5h0M892.3 531h0M888.6 520.3h0M893.4 514.4h0M894.2 522h0M893 493.1h0M886.3 526.2h0M896.6 490.5h0M893.2 500.2h0M893.9 489.7h0M887.4 528.7h0M891 523.2h0M887.4 523.1h0M896.1 530.4h0M894.2 517.3h0M891.1 489h0M895.5 512.9h0M887.2 522.7h0M891.5 504.2h0M887 531.4h0M889.3 526.2h0M889.5 512.2h0M891.9 529.2h0M891.2 498.8h0M887.3 529.9h0M886.3 529.6h0M893.5 497.6h0M889.6 528.1h0M887 527.6h0M889.8 511.2h0M890.4 510.1h0M896.3 490.1h0M894 499.2h0M889.1 514.4h0M887.2 525.1h0M885.2 532.3h0M891.2 512.9h0M885.6 531.6h0M890.7 526.6h0M893.7 516.4h0M889 532.2h0M890.3 522.9h0M889.9 511.3h0M887 527h0M888.3 514.3h0M896.6 507.3h0M885.5 529.8h0M888.3 530h0M887.3 518.6h0M893.9 506.1h0M891.6 510.5h0M886.4 528.9h0M886.8 532.8h0M896.6 515.6h0M893.5 531.2h0M885.6 531.4h0M886.2 526.4h0M895.8 478.2h0M891.6 528h0M886.4 525.2h0M889.4 530h0M887.7 529.3h0M894.9 519h0M893.1 524.2h0M888 526.2h0M894.1 485h0M894.6 490.4h0M892.1 492h0M895.5 518.4h0M886.3 532.8h0M897 493.4h0M889 527.7h0M887.2 531.7h0M893.5 493.3h0M888.1 529h0M888.3 525h0M885.1 532.6h0M895.1 480.6h0M886 528.3h0M889.5 530.8h0M885.3 532.7h0M890.9 519.2h0M893.5 524.5h0M896.8 492h0M894.6 530.6h0M895.9 508.5h0M890.2 511.1h0M888.5 516h0M892.4 527.5h0M891.6 507.5h0M895.2 504.2h0M890.3 506.8h0M889 518.8h0M895 472.9h0M896.6 469.1h0M894.2 485.6h0M891 503.1h0M892.5 502.1h0M895.4 491.5h0M885.1 532.2h0M896.7 532h0M887.1 527.4h0M892.8 519h0M893.8 531.7h0M893.5 488.5h0M895.3 517.5h0M888.1 529h0M892 519.6h0M891 523.4h0M893.6 525h0M888.2 522.2h0M888.1 522.9h0M889.4 532.6h0M895.3 493.3h0M893.2 506.8h0M891 525.2h0M886.6 532.3h0M887.7 532.4h0M892.7 480.8h0M895.1 475h0M890.3 530.6h0M891.3 512.1h0M892.3 495.2h0M889.3 523.1h0M890.9 504.2h0M894 506.4h0M892.6 498.4h0M885.9 526.3h0M886.8 532.6h0M890.1 518.4h0M888.3 529.3h0M893 487.4h0M895.5 511h0M889.6 514.1h0M893.7 517.3h0M892.6 512h0M889.6 503h0M891 519.8h0M892.7 497.5h0M894.6 496.2h0M892.3 528.5h0M888.8 511.7h0M885.5 531.1h0M896.6 503.7h0M895.3 496.8h0M885.7 532h0M892.9 521.2h0M891.1 528.9h0M890.5 515.6h0M887.2 525.2h0M886.5 528h0M896.7 531.2h0M894.1 507h0M887.6 525.1h0M892 524.5h0M894.4 517.4h0M889.5 525.2h0M892.9 491.7h0M890.2 523.3h0M895.8 514.1h0M889 515.1h0M886.1 530.4h0M885.6 530.9h0M889.3 532.5h0M892.2 502.5h0M891.2 513.5h0M890 515.7h0M893.9 511.7h0M891.7 511.2h0M885.4 530.9h0M896.8 514.3h0M895.2 488.5h0M888 520.5h0M882.6 532.5h0M885.6 531.7h0M883.7 532.7h0M885.4 531.1h0M884.6 531.1h0M885.5 532h0M882.3 531.5h0M885.1 532.5h0M884.9 532.4h0M884.2 531.1h0M882.8 532h0M882.9 531.4h0M885.5 531.3h0M883.6 531.5h0M884.9 532h0M885.7 532.2h0M883 532.9h0M882.5 531.2h0M882.3 531.5h0M883.8 532.9h0M885.2 531.2h0M885.1 532.4h0M884.3 531.2h0M882.2 532.7h0M883.1 533h0M882.7 531.2h0M882.8 531.1h0M882.7 532h0M882.3 531.1h0M884 532.8h0M883.4 532.7h0M883.5 531h0M883.2 531h0M885 531.5h0M883.2 532.3h0M882.8 531.5h0M883.2 533h0M883.1 532.3h0M883.5 531.2h0M883.6 532.5h0M871 483.9h0M871.9 485.3h0M870.6 486.7h0M873.3 489.5h0M871.5 488.1h0M895.6 457.3h0M895.2 460.1h0M893.8 462.9h0M876 476.9h0M906.4 532.6h0M912.6 532.4h0M852.7 532.6h0" stroke="#111" stroke-width="1.9" stroke-linecap="round" fill="none"/>
<text x="920.2" y="370.7" font-size="5" fill="#1a1a1a" text-anchor="middle" stroke="#1a1a1a" stroke-width="0.18">LOC105372401</text>
<text x="902.7" y="388.9" font-size="5" fill="#1a1a1a" text-anchor="middle" stroke="#1a1a1a" stroke-width="0.18">FAM229A</text>
<text x="897.6" y="406.1" font-size="5" fill="#1a1a1a" text-anchor="middle" stroke="#1a1a1a" stroke-width="0.18">RTN3</text>
<text x="891.2" y="414.7" font-size="5" fill="#1a1a1a" text-anchor="middle" stroke="#1a1a1a" stroke-width="0.18">CYB5R1</text>
<text x="867.9" y="417.6" font-size="5" fill="#1a1a1a" text-anchor="middle" stroke="#1a1a1a" stroke-width="0.18">FRMD3</text>
<text x="909" y="420.1" font-size="5" fill="#1a1a1a" text-anchor="middle" stroke="#1a1a1a" stroke-width="0.18">FLNC</text>
<text x="892.5" y="427.1" font-size="5" fill="#1a1a1a" text-anchor="middle" stroke="#1a1a1a" stroke-width="0.18">SYNJ1</text>
<text x="912.2" y="428.1" font-size="5" fill="#1a1a1a" text-anchor="middle" stroke="#1a1a1a" stroke-width="0.18">LMTK2</text>
<text x="855.8" y="431.3" font-size="5" fill="#1a1a1a" text-anchor="middle" stroke="#1a1a1a" stroke-width="0.18">TNFRSF11B</text>
<text x="879.1" y="434.4" font-size="5" fill="#1a1a1a" text-anchor="middle" stroke="#1a1a1a" stroke-width="0.18">KIF1B</text>
<text x="917.3" y="435.4" font-size="5" fill="#1a1a1a" text-anchor="middle" stroke="#1a1a1a" stroke-width="0.18">PYGO2</text>
<text x="938.3" y="438.3" font-size="5" fill="#1a1a1a" text-anchor="middle" stroke="#1a1a1a" stroke-width="0.18">IFITM10</text>
<text x="848.8" y="439.2" font-size="5" fill="#1a1a1a" text-anchor="middle" stroke="#1a1a1a" stroke-width="0.18">COL8A1</text>
<text x="897.9" y="440.2" font-size="5" fill="#1a1a1a" text-anchor="middle" stroke="#1a1a1a" stroke-width="0.18">PSMC4</text>
<text x="918.3" y="445.6" font-size="5" fill="#1a1a1a" text-anchor="middle" stroke="#1a1a1a" stroke-width="0.18">H2BC4</text>
<text x="868.9" y="448.8" font-size="5" fill="#1a1a1a" text-anchor="middle" stroke="#1a1a1a" stroke-width="0.18">NTN4</text>
<text x="896.3" y="449.4" font-size="5" fill="#1a1a1a" text-anchor="middle" stroke="#1a1a1a" stroke-width="0.18">RHE</text>
<text x="910.6" y="453.6" font-size="5" fill="#1a1a1a" text-anchor="middle" stroke="#1a1a1a" stroke-width="0.18">JL11</text>
<text x="891.2" y="457.4" font-size="5" fill="#1a1a1a" text-anchor="middle" stroke="#1a1a1a" stroke-width="0.18">HMGCS1</text>
<line x1="884.5" y1="432.5" x2="893" y2="429.5" stroke="#333" stroke-width="0.4"/>
<line x1="929.5" y1="437.5" x2="935.5" y2="434.5" stroke="#333" stroke-width="0.4"/>
<line x1="908.5" y1="444" x2="903.5" y2="440.5" stroke="#333" stroke-width="0.4"/>
<line x1="906" y1="452" x2="902.5" y2="447" stroke="#333" stroke-width="0.4"/>
<rect x="95.3" y="611.5" width="58.8" height="160.1" fill="#ebebeb"/>
<line x1="108.05" y1="611.5" x2="108.05" y2="771.6" stroke="#fafafa" stroke-width="0.5"/>
<line x1="128.15" y1="611.5" x2="128.15" y2="771.6" stroke="#fafafa" stroke-width="0.5"/>
<line x1="148.25" y1="611.5" x2="148.25" y2="771.6" stroke="#fafafa" stroke-width="0.5"/>
<line x1="98" y1="611.5" x2="98" y2="771.6" stroke="white" stroke-width="0.85"/>
<line x1="118.1" y1="611.5" x2="118.1" y2="771.6" stroke="white" stroke-width="0.85"/>
<line x1="138.2" y1="611.5" x2="138.2" y2="771.6" stroke="white" stroke-width="0.85"/>
<line x1="95.3" y1="617.3" x2="154.1" y2="617.3" stroke="white" stroke-width="0.75"/>
<line x1="95.3" y1="627.25" x2="154.1" y2="627.25" stroke="white" stroke-width="0.75"/>
<line x1="95.3" y1="637.2" x2="154.1" y2="637.2" stroke="white" stroke-width="0.75"/>
<line x1="95.3" y1="647.15" x2="154.1" y2="647.15" stroke="white" stroke-width="0.75"/>
<line x1="95.3" y1="657.1" x2="154.1" y2="657.1" stroke="white" stroke-width="0.75"/>
<line x1="95.3" y1="667.05" x2="154.1" y2="667.05" stroke="white" stroke-width="0.75"/>
<line x1="95.3" y1="677" x2="154.1" y2="677" stroke="white" stroke-width="0.75"/>
<line x1="95.3" y1="686.95" x2="154.1" y2="686.95" stroke="white" stroke-width="0.75"/>
<line x1="95.3" y1="696.9" x2="154.1" y2="696.9" stroke="white" stroke-width="0.75"/>
<line x1="95.3" y1="706.85" x2="154.1" y2="706.85" stroke="white" stroke-width="0.75"/>
<line x1="95.3" y1="716.8" x2="154.1" y2="716.8" stroke="white" stroke-width="0.75"/>
<line x1="95.3" y1="726.75" x2="154.1" y2="726.75" stroke="white" stroke-width="0.75"/>
<line x1="95.3" y1="736.7" x2="154.1" y2="736.7" stroke="white" stroke-width="0.75"/>
<line x1="95.3" y1="746.65" x2="154.1" y2="746.65" stroke="white" stroke-width="0.75"/>
<line x1="95.3" y1="756.6" x2="154.1" y2="756.6" stroke="white" stroke-width="0.75"/>
<line x1="95.3" y1="766.55" x2="154.1" y2="766.55" stroke="white" stroke-width="0.75"/>
<rect x="98.2" y="612.82" width="19.1" height="8.96" fill="#fdfdfd"/>
<text x="92.9" y="618.56" font-size="3.5" fill="#111" text-anchor="end" stroke="#111" stroke-width="0.12">LXR/RXR Activation</text>
<rect x="93.4" y="616.75" width="1.1" height="1.1" fill="#222"/>
<rect x="98.2" y="622.77" width="19.1" height="8.96" fill="#ece6f2"/>
<text x="92.9" y="628.51" font-size="3.5" fill="#111" text-anchor="end" stroke="#111" stroke-width="0.12">Sertoli Cell-Germ Cell Junction Signaling Pathway (Enhanced)</text>
<rect x="93.4" y="626.7" width="1.1" height="1.1" fill="#222"/>
<rect x="98.2" y="632.72" width="18.9" height="8.96" fill="#cfc2e2"/>
<text x="92.9" y="638.46" font-size="3.5" fill="#111" text-anchor="end" stroke="#111" stroke-width="0.12">Cachexia Signaling Pathway</text>
<rect x="93.4" y="636.65" width="1.1" height="1.1" fill="#222"/>
<rect x="98.2" y="642.67" width="18.7" height="8.96" fill="#8f7cc0"/>
<text x="92.9" y="648.41" font-size="3.5" fill="#111" text-anchor="end" stroke="#111" stroke-width="0.12">Retinol Biosynthesis</text>
<rect x="93.4" y="646.6" width="1.1" height="1.1" fill="#222"/>
<rect x="98.2" y="652.62" width="18.2" height="8.96" fill="#5d4ea6"/>
<text x="92.9" y="658.36" font-size="3.5" fill="#111" text-anchor="end" stroke="#111" stroke-width="0.12">Molecular Mechanisms of Cancer</text>
<rect x="93.4" y="656.55" width="1.1" height="1.1" fill="#222"/>
<rect x="98.2" y="662.57" width="17.5" height="8.96" fill="#ddd3ea"/>
<text x="92.9" y="668.31" font-size="3.5" fill="#111" text-anchor="end" stroke="#111" stroke-width="0.12">HIF1α Signaling</text>
<rect x="93.4" y="666.5" width="1.1" height="1.1" fill="#222"/>
<rect x="98.2" y="672.52" width="17" height="8.96" fill="#9a88c6"/>
<text x="92.9" y="678.26" font-size="3.5" fill="#111" text-anchor="end" stroke="#111" stroke-width="0.12">Oxidation Pathway</text>
<rect x="93.4" y="676.45" width="1.1" height="1.1" fill="#222"/>
<rect x="98.2" y="682.47" width="16.7" height="8.96" fill="#7f7f7f"/>
<text x="92.9" y="688.21" font-size="3.5" fill="#111" text-anchor="end" stroke="#111" stroke-width="0.12">eNOS Signaling</text>
<rect x="93.4" y="686.4" width="1.1" height="1.1" fill="#222"/>
<rect x="98.2" y="692.42" width="15.5" height="8.96" fill="#4f40a0"/>
<text x="92.9" y="698.16" font-size="3.5" fill="#111" text-anchor="end" stroke="#111" stroke-width="0.12">CREB Signaling in Neurons</text>
<rect x="93.4" y="696.35" width="1.1" height="1.1" fill="#222"/>
<rect x="98.2" y="702.37" width="15" height="8.96" fill="#8a78bd"/>
<text x="92.9" y="708.11" font-size="3.5" fill="#111" text-anchor="end" stroke="#111" stroke-width="0.12">Sertoli Cell-Sertoli Cell Junction Signaling</text>
<rect x="93.4" y="706.3" width="1.1" height="1.1" fill="#222"/>
<rect x="98.2" y="712.32" width="14.8" height="8.96" fill="#b3a5d5"/>
<text x="92.9" y="718.06" font-size="3.5" fill="#111" text-anchor="end" stroke="#111" stroke-width="0.12">P2Y Purinergic Receptor Signaling Pathway</text>
<rect x="93.4" y="716.25" width="1.1" height="1.1" fill="#222"/>
<rect x="98.2" y="722.27" width="14.8" height="8.96" fill="#f8c57e"/>
<text x="92.9" y="728.01" font-size="3.5" fill="#111" text-anchor="end" stroke="#111" stroke-width="0.12">IL-27 Signaling Pathway</text>
<rect x="93.4" y="726.2" width="1.1" height="1.1" fill="#222"/>
<rect x="98.2" y="732.22" width="14.5" height="8.96" fill="#a593cd"/>
<text x="92.9" y="737.96" font-size="3.5" fill="#111" text-anchor="end" stroke="#111" stroke-width="0.12">IL-33 Signaling Pathway</text>
<rect x="93.4" y="736.15" width="1.1" height="1.1" fill="#222"/>
<rect x="98.2" y="742.17" width="14.3" height="8.96" fill="#fdf6ea"/>
<text x="92.9" y="747.91" font-size="3.5" fill="#111" text-anchor="end" stroke="#111" stroke-width="0.12">Gap Junction Signaling</text>
<rect x="93.4" y="746.1" width="1.1" height="1.1" fill="#222"/>
<rect x="98.2" y="752.12" width="14.3" height="8.96" fill="#b8aad8"/>
<text x="92.9" y="757.86" font-size="3.5" fill="#111" text-anchor="end" stroke="#111" stroke-width="0.12">DHCR24 Signaling Pathway</text>
<rect x="93.4" y="756.05" width="1.1" height="1.1" fill="#222"/>
<rect x="98.2" y="762.07" width="14.1" height="8.96" fill="#b0a0d2"/>
<text x="92.9" y="767.81" font-size="3.5" fill="#111" text-anchor="end" stroke="#111" stroke-width="0.12">Hepatic Fibrosis Signaling Pathway</text>
<rect x="93.4" y="766" width="1.1" height="1.1" fill="#222"/>
<rect x="97.45" y="772.1" width="1.1" height="1.1" fill="#222"/>
<text x="96.8" y="773.8" font-size="3.4" fill="#222" transform="rotate(90 96.8 773.8)" stroke="#222" stroke-width="0.12">0</text>
<rect x="117.55" y="772.1" width="1.1" height="1.1" fill="#222"/>
<text x="116.9" y="773.8" font-size="3.4" fill="#222" transform="rotate(90 116.9 773.8)" stroke="#222" stroke-width="0.12">5</text>
<rect x="137.65" y="772.1" width="1.1" height="1.1" fill="#222"/>
<text x="137" y="773.8" font-size="3.4" fill="#222" transform="rotate(90 137 773.8)" stroke="#222" stroke-width="0.12">10</text>
<text x="128.2" y="783.2" font-size="4.9" fill="#111" text-anchor="middle" font-weight="bold" stroke="#111" stroke-width="0.17">log(pval)</text>
<defs><linearGradient id="gz1" x1="0" y1="0" x2="0" y2="1"><stop offset="0" stop-color="#f5a236"/><stop offset="0.25" stop-color="#fbd3a0"/><stop offset="0.5" stop-color="#f8f3f8"/><stop offset="0.75" stop-color="#ac9fd3"/><stop offset="1" stop-color="#3d3a98"/></linearGradient></defs>
<text x="159.7" y="676.4" font-size="4.6" fill="#111" stroke="#111" stroke-width="0.16">z-score</text>
<rect x="159.9" y="680.3" width="5.8" height="29.8" fill="url(#gz1)"/>
<text x="167.3" y="681.6" font-size="3.7" fill="#222" stroke="#222" stroke-width="0.13">4</text>
<line x1="159.9" y1="680.3" x2="160.9" y2="680.3" stroke="white" stroke-width="0.4"/>
<line x1="164.7" y1="680.3" x2="165.7" y2="680.3" stroke="white" stroke-width="0.4"/>
<text x="167.3" y="689.05" font-size="3.7" fill="#222" stroke="#222" stroke-width="0.13">2</text>
<line x1="159.9" y1="687.75" x2="160.9" y2="687.75" stroke="white" stroke-width="0.4"/>
<line x1="164.7" y1="687.75" x2="165.7" y2="687.75" stroke="white" stroke-width="0.4"/>
<text x="167.3" y="696.5" font-size="3.7" fill="#222" stroke="#222" stroke-width="0.13">0</text>
<line x1="159.9" y1="695.2" x2="160.9" y2="695.2" stroke="white" stroke-width="0.4"/>
<line x1="164.7" y1="695.2" x2="165.7" y2="695.2" stroke="white" stroke-width="0.4"/>
<text x="167.3" y="703.95" font-size="3.7" fill="#222" stroke="#222" stroke-width="0.13">-2</text>
<line x1="159.9" y1="702.65" x2="160.9" y2="702.65" stroke="white" stroke-width="0.4"/>
<line x1="164.7" y1="702.65" x2="165.7" y2="702.65" stroke="white" stroke-width="0.4"/>
<text x="167.3" y="711.4" font-size="3.7" fill="#222" stroke="#222" stroke-width="0.13">-4</text>
<line x1="159.9" y1="710.1" x2="160.9" y2="710.1" stroke="white" stroke-width="0.4"/>
<line x1="164.7" y1="710.1" x2="165.7" y2="710.1" stroke="white" stroke-width="0.4"/>
<rect x="159.9" y="714.3" width="6.1" height="5.8" fill="#7f7f7f"/>
<text x="167.3" y="719.8" font-size="6" fill="#222" stroke="#222" stroke-width="0.21">NA</text>
<rect x="210.2" y="612.8" width="115.9" height="160" fill="#ebebeb"/>
<line x1="227.7" y1="612.8" x2="227.7" y2="772.8" stroke="#fafafa" stroke-width="0.5"/>
<line x1="252.65" y1="612.8" x2="252.65" y2="772.8" stroke="#fafafa" stroke-width="0.5"/>
<line x1="277.7" y1="612.8" x2="277.7" y2="772.8" stroke="#fafafa" stroke-width="0.5"/>
<line x1="302.75" y1="612.8" x2="302.75" y2="772.8" stroke="#fafafa" stroke-width="0.5"/>
<line x1="215.2" y1="612.8" x2="215.2" y2="772.8" stroke="white" stroke-width="0.85"/>
<line x1="240.2" y1="612.8" x2="240.2" y2="772.8" stroke="white" stroke-width="0.85"/>
<line x1="265.1" y1="612.8" x2="265.1" y2="772.8" stroke="white" stroke-width="0.85"/>
<line x1="290.3" y1="612.8" x2="290.3" y2="772.8" stroke="white" stroke-width="0.85"/>
<line x1="315.2" y1="612.8" x2="315.2" y2="772.8" stroke="white" stroke-width="0.85"/>
<line x1="210.2" y1="621.1" x2="326.1" y2="621.1" stroke="white" stroke-width="0.75"/>
<line x1="210.2" y1="635.38" x2="326.1" y2="635.38" stroke="white" stroke-width="0.75"/>
<line x1="210.2" y1="649.66" x2="326.1" y2="649.66" stroke="white" stroke-width="0.75"/>
<line x1="210.2" y1="663.94" x2="326.1" y2="663.94" stroke="white" stroke-width="0.75"/>
<line x1="210.2" y1="678.22" x2="326.1" y2="678.22" stroke="white" stroke-width="0.75"/>
<line x1="210.2" y1="692.5" x2="326.1" y2="692.5" stroke="white" stroke-width="0.75"/>
<line x1="210.2" y1="706.78" x2="326.1" y2="706.78" stroke="white" stroke-width="0.75"/>
<line x1="210.2" y1="721.06" x2="326.1" y2="721.06" stroke="white" stroke-width="0.75"/>
<line x1="210.2" y1="735.34" x2="326.1" y2="735.34" stroke="white" stroke-width="0.75"/>
<line x1="210.2" y1="749.62" x2="326.1" y2="749.62" stroke="white" stroke-width="0.75"/>
<line x1="210.2" y1="763.9" x2="326.1" y2="763.9" stroke="white" stroke-width="0.75"/>
<rect x="215.4" y="614.67" width="16.8" height="12.85" fill="#f9cf9f"/>
<text x="207.8" y="622.5" font-size="3.9" fill="#111" text-anchor="end" stroke="#111" stroke-width="0.14">MAP4K1</text>
<rect x="208.3" y="620.55" width="1.1" height="1.1" fill="#222"/>
<rect x="215.4" y="628.95" width="43.4" height="12.85" fill="#9583c6"/>
<text x="207.8" y="636.78" font-size="3.9" fill="#111" text-anchor="end" stroke="#111" stroke-width="0.14">TNF</text>
<rect x="208.3" y="634.83" width="1.1" height="1.1" fill="#222"/>
<rect x="215.4" y="643.23" width="26.5" height="12.85" fill="#9a89c8"/>
<text x="207.8" y="651.06" font-size="3.9" fill="#111" text-anchor="end" stroke="#111" stroke-width="0.14">CYTOKINE (family)</text>
<rect x="208.3" y="649.11" width="1.1" height="1.1" fill="#222"/>
<rect x="215.4" y="657.51" width="26.5" height="12.85" fill="#8f7dc2"/>
<text x="207.8" y="665.34" font-size="3.9" fill="#111" text-anchor="end" stroke="#111" stroke-width="0.14">RELA</text>
<rect x="208.3" y="663.39" width="1.1" height="1.1" fill="#222"/>
<rect x="215.4" y="671.79" width="20.4" height="12.85" fill="#8d7bc1"/>
<text x="207.8" y="679.62" font-size="3.9" fill="#111" text-anchor="end" stroke="#111" stroke-width="0.14">IL4</text>
<rect x="208.3" y="677.67" width="1.1" height="1.1" fill="#222"/>
<rect x="215.4" y="686.07" width="19.9" height="12.85" fill="#9d8cca"/>
<text x="207.8" y="693.9" font-size="3.9" fill="#111" text-anchor="end" stroke="#111" stroke-width="0.14">OSM</text>
<rect x="208.3" y="691.95" width="1.1" height="1.1" fill="#222"/>
<rect x="215.4" y="700.35" width="18.7" height="12.85" fill="#6f5fb0"/>
<text x="207.8" y="708.18" font-size="3.9" fill="#111" text-anchor="end" stroke="#111" stroke-width="0.14">ERBB2</text>
<rect x="208.3" y="706.23" width="1.1" height="1.1" fill="#222"/>
<rect x="215.4" y="714.63" width="16.5" height="12.85" fill="#7f6eb9"/>
<text x="207.8" y="722.46" font-size="3.9" fill="#111" text-anchor="end" stroke="#111" stroke-width="0.14">WNT3A</text>
<rect x="208.3" y="720.51" width="1.1" height="1.1" fill="#222"/>
<rect x="215.4" y="728.91" width="16.5" height="12.85" fill="#8b79c0"/>
<text x="207.8" y="736.74" font-size="3.9" fill="#111" text-anchor="end" stroke="#111" stroke-width="0.14">FOXA2</text>
<rect x="208.3" y="734.79" width="1.1" height="1.1" fill="#222"/>
<rect x="215.4" y="743.19" width="14.6" height="12.85" fill="#7a69b7"/>
<text x="207.8" y="751.02" font-size="3.9" fill="#111" text-anchor="end" stroke="#111" stroke-width="0.14">ERK1/2 (family)</text>
<rect x="208.3" y="749.07" width="1.1" height="1.1" fill="#222"/>
<rect x="215.4" y="757.47" width="10.2" height="12.85" fill="#9585c7"/>
<text x="207.8" y="765.3" font-size="3.9" fill="#111" text-anchor="end" stroke="#111" stroke-width="0.14">CREB (family)</text>
<rect x="208.3" y="763.35" width="1.1" height="1.1" fill="#222"/>
<rect x="214.65" y="773.3" width="1.1" height="1.1" fill="#222"/>
<text x="214" y="775" font-size="3.4" fill="#222" transform="rotate(90 214 775)" stroke="#222" stroke-width="0.12">0</text>
<rect x="239.65" y="773.3" width="1.1" height="1.1" fill="#222"/>
<text x="239" y="775" font-size="3.4" fill="#222" transform="rotate(90 239 775)" stroke="#222" stroke-width="0.12">2</text>
<rect x="264.55" y="773.3" width="1.1" height="1.1" fill="#222"/>
<text x="263.9" y="775" font-size="3.4" fill="#222" transform="rotate(90 263.9 775)" stroke="#222" stroke-width="0.12">4</text>
<rect x="289.75" y="773.3" width="1.1" height="1.1" fill="#222"/>
<text x="289.1" y="775" font-size="3.4" fill="#222" transform="rotate(90 289.1 775)" stroke="#222" stroke-width="0.12">6</text>
<rect x="314.65" y="773.3" width="1.1" height="1.1" fill="#222"/>
<text x="314" y="775" font-size="3.4" fill="#222" transform="rotate(90 314 775)" stroke="#222" stroke-width="0.12">8</text>
<text x="266.8" y="783.2" font-size="4.9" fill="#111" text-anchor="middle" font-weight="bold" stroke="#111" stroke-width="0.17">log(pval)</text>
<defs><linearGradient id="gz2" x1="0" y1="0" x2="0" y2="1"><stop offset="0" stop-color="#f5a236"/><stop offset="0.23" stop-color="#fbd3a0"/><stop offset="0.46" stop-color="#f8f3f8"/><stop offset="0.73" stop-color="#ac9fd3"/><stop offset="1" stop-color="#3d3a98"/></linearGradient></defs>
<text x="331.2" y="676.4" font-size="4.6" fill="#111" stroke="#111" stroke-width="0.16">z-score</text>
<rect x="331.4" y="680.9" width="5.8" height="30" fill="url(#gz2)"/>
<text x="338.8" y="687.74" font-size="3.7" fill="#222" stroke="#222" stroke-width="0.13">2.5</text>
<line x1="331.4" y1="686.44" x2="332.4" y2="686.44" stroke="white" stroke-width="0.4"/>
<line x1="336.2" y1="686.44" x2="337.2" y2="686.44" stroke="white" stroke-width="0.4"/>
<text x="338.8" y="695.9" font-size="3.7" fill="#222" stroke="#222" stroke-width="0.13">0.0</text>
<line x1="331.4" y1="694.6" x2="332.4" y2="694.6" stroke="white" stroke-width="0.4"/>
<line x1="336.2" y1="694.6" x2="337.2" y2="694.6" stroke="white" stroke-width="0.4"/>
<text x="338.8" y="704.05" font-size="3.7" fill="#222" stroke="#222" stroke-width="0.13">-2.5</text>
<line x1="331.4" y1="702.75" x2="332.4" y2="702.75" stroke="white" stroke-width="0.4"/>
<line x1="336.2" y1="702.75" x2="337.2" y2="702.75" stroke="white" stroke-width="0.4"/>
<text x="338.8" y="712.2" font-size="3.7" fill="#222" stroke="#222" stroke-width="0.13">-5.0</text>
<line x1="331.4" y1="710.9" x2="332.4" y2="710.9" stroke="white" stroke-width="0.4"/>
<line x1="336.2" y1="710.9" x2="337.2" y2="710.9" stroke="white" stroke-width="0.4"/>
<rect x="442.3" y="610.5" width="63.6" height="159.9" fill="#ebebeb"/>
<line x1="455.95" y1="610.5" x2="455.95" y2="770.4" stroke="#fafafa" stroke-width="0.5"/>
<line x1="478.3" y1="610.5" x2="478.3" y2="770.4" stroke="#fafafa" stroke-width="0.5"/>
<line x1="500.5" y1="610.5" x2="500.5" y2="770.4" stroke="#fafafa" stroke-width="0.5"/>
<line x1="444.7" y1="610.5" x2="444.7" y2="770.4" stroke="white" stroke-width="0.85"/>
<line x1="467.2" y1="610.5" x2="467.2" y2="770.4" stroke="white" stroke-width="0.85"/>
<line x1="489.4" y1="610.5" x2="489.4" y2="770.4" stroke="white" stroke-width="0.85"/>
<line x1="442.3" y1="616.4" x2="505.9" y2="616.4" stroke="white" stroke-width="0.75"/>
<line x1="442.3" y1="626.37" x2="505.9" y2="626.37" stroke="white" stroke-width="0.75"/>
<line x1="442.3" y1="636.34" x2="505.9" y2="636.34" stroke="white" stroke-width="0.75"/>
<line x1="442.3" y1="646.31" x2="505.9" y2="646.31" stroke="white" stroke-width="0.75"/>
<line x1="442.3" y1="656.28" x2="505.9" y2="656.28" stroke="white" stroke-width="0.75"/>
<line x1="442.3" y1="666.25" x2="505.9" y2="666.25" stroke="white" stroke-width="0.75"/>
<line x1="442.3" y1="676.22" x2="505.9" y2="676.22" stroke="white" stroke-width="0.75"/>
<line x1="442.3" y1="686.19" x2="505.9" y2="686.19" stroke="white" stroke-width="0.75"/>
<line x1="442.3" y1="696.16" x2="505.9" y2="696.16" stroke="white" stroke-width="0.75"/>
<line x1="442.3" y1="706.13" x2="505.9" y2="706.13" stroke="white" stroke-width="0.75"/>
<line x1="442.3" y1="716.1" x2="505.9" y2="716.1" stroke="white" stroke-width="0.75"/>
<line x1="442.3" y1="726.07" x2="505.9" y2="726.07" stroke="white" stroke-width="0.75"/>
<line x1="442.3" y1="736.04" x2="505.9" y2="736.04" stroke="white" stroke-width="0.75"/>
<line x1="442.3" y1="746.01" x2="505.9" y2="746.01" stroke="white" stroke-width="0.75"/>
<line x1="442.3" y1="755.98" x2="505.9" y2="755.98" stroke="white" stroke-width="0.75"/>
<line x1="442.3" y1="765.95" x2="505.9" y2="765.95" stroke="white" stroke-width="0.75"/>
<rect x="445" y="611.91" width="28.7" height="8.97" fill="#6a5aad"/>
<text x="439.9" y="617.7" font-size="3.6" fill="#111" text-anchor="end" stroke="#111" stroke-width="0.13">Pulmonary Fibrosis Idiopathic Signaling Pathway</text>
<rect x="440.4" y="615.85" width="1.1" height="1.1" fill="#222"/>
<rect x="445" y="621.88" width="27.5" height="8.97" fill="#6d5dae"/>
<text x="439.9" y="627.67" font-size="3.6" fill="#111" text-anchor="end" stroke="#111" stroke-width="0.13">Integrin cell surface interactions</text>
<rect x="440.4" y="625.82" width="1.1" height="1.1" fill="#222"/>
<rect x="445" y="631.85" width="22.7" height="8.97" fill="#b3a4d4"/>
<text x="439.9" y="637.64" font-size="3.6" fill="#111" text-anchor="end" stroke="#111" stroke-width="0.13">O-linked glycosylation</text>
<rect x="440.4" y="635.79" width="1.1" height="1.1" fill="#222"/>
<rect x="445" y="641.82" width="22.2" height="8.97" fill="#7a69b7"/>
<text x="439.9" y="647.61" font-size="3.6" fill="#111" text-anchor="end" stroke="#111" stroke-width="0.13">Collagen degradation</text>
<rect x="440.4" y="645.76" width="1.1" height="1.1" fill="#222"/>
<rect x="445" y="651.79" width="21" height="8.97" fill="#e0d8ec"/>
<text x="439.9" y="657.58" font-size="3.6" fill="#111" text-anchor="end" stroke="#111" stroke-width="0.13">LXR/RXR Activation</text>
<rect x="440.4" y="655.73" width="1.1" height="1.1" fill="#222"/>
<rect x="445" y="661.76" width="20.3" height="8.97" fill="#a898cf"/>
<text x="439.9" y="667.55" font-size="3.6" fill="#111" text-anchor="end" stroke="#111" stroke-width="0.13">Osteoarthritis Pathway</text>
<rect x="440.4" y="665.7" width="1.1" height="1.1" fill="#222"/>
<rect x="445" y="671.73" width="19.8" height="8.97" fill="#5546a3"/>
<text x="439.9" y="677.52" font-size="3.6" fill="#111" text-anchor="end" stroke="#111" stroke-width="0.13">Molecular Mechanisms of Cancer</text>
<rect x="440.4" y="675.67" width="1.1" height="1.1" fill="#222"/>
<rect x="445" y="681.7" width="19.8" height="8.97" fill="#8a78bd"/>
<text x="439.9" y="687.49" font-size="3.6" fill="#111" text-anchor="end" stroke="#111" stroke-width="0.13">Atherosclerosis Signaling</text>
<rect x="440.4" y="685.64" width="1.1" height="1.1" fill="#222"/>
<rect x="445" y="691.67" width="19.3" height="8.97" fill="#9b8ac7"/>
<text x="439.9" y="697.46" font-size="3.6" fill="#111" text-anchor="end" stroke="#111" stroke-width="0.13">Oxidation Pathway</text>
<rect x="440.4" y="695.61" width="1.1" height="1.1" fill="#222"/>
<rect x="445" y="701.64" width="18.1" height="8.97" fill="#7e6db9"/>
<text x="439.9" y="707.43" font-size="3.6" fill="#111" text-anchor="end" stroke="#111" stroke-width="0.13">Assembly of collagen fibrils and other multimeric structures</text>
<rect x="440.4" y="705.58" width="1.1" height="1.1" fill="#222"/>
<rect x="445" y="711.61" width="17.8" height="8.97" fill="#8573bb"/>
<text x="439.9" y="717.4" font-size="3.6" fill="#111" text-anchor="end" stroke="#111" stroke-width="0.13">NGF-stimulated transcription</text>
<rect x="440.4" y="715.55" width="1.1" height="1.1" fill="#222"/>
<rect x="445" y="721.58" width="17.1" height="8.97" fill="#7c6bb8"/>
<text x="439.9" y="727.37" font-size="3.6" fill="#111" text-anchor="end" stroke="#111" stroke-width="0.13">Collagen biosynthesis and modifying enzymes</text>
<rect x="440.4" y="725.52" width="1.1" height="1.1" fill="#222"/>
<rect x="445" y="731.55" width="16.9" height="8.97" fill="#8a78bd"/>
<text x="439.9" y="737.34" font-size="3.6" fill="#111" text-anchor="end" stroke="#111" stroke-width="0.13">Collagen chain trimerization</text>
<rect x="440.4" y="735.49" width="1.1" height="1.1" fill="#222"/>
<rect x="445" y="741.52" width="16.9" height="8.97" fill="#5a4aa5"/>
<text x="439.9" y="747.31" font-size="3.6" fill="#111" text-anchor="end" stroke="#111" stroke-width="0.13">Class A/1 (Rhodopsin-like receptors)</text>
<rect x="440.4" y="745.46" width="1.1" height="1.1" fill="#222"/>
<rect x="445" y="751.49" width="15.7" height="8.97" fill="#7565b5"/>
<text x="439.9" y="757.28" font-size="3.6" fill="#111" text-anchor="end" stroke="#111" stroke-width="0.13">Extracellular matrix organization</text>
<rect x="440.4" y="755.43" width="1.1" height="1.1" fill="#222"/>
<rect x="445" y="761.46" width="14.9" height="8.97" fill="#7868b6"/>
<text x="439.9" y="767.25" font-size="3.6" fill="#111" text-anchor="end" stroke="#111" stroke-width="0.13">Osteoclasts in Rheumatoid Arthritis Signaling Pathway</text>
<rect x="440.4" y="765.4" width="1.1" height="1.1" fill="#222"/>
<rect x="444.15" y="770.9" width="1.1" height="1.1" fill="#222"/>
<text x="443.5" y="772.6" font-size="3.4" fill="#222" transform="rotate(90 443.5 772.6)" stroke="#222" stroke-width="0.12">0</text>
<rect x="466.65" y="770.9" width="1.1" height="1.1" fill="#222"/>
<text x="466" y="772.6" font-size="3.4" fill="#222" transform="rotate(90 466 772.6)" stroke="#222" stroke-width="0.12">5</text>
<rect x="488.85" y="770.9" width="1.1" height="1.1" fill="#222"/>
<text x="488.2" y="772.6" font-size="3.4" fill="#222" transform="rotate(90 488.2 772.6)" stroke="#222" stroke-width="0.12">10</text>
<text x="475.7" y="783.2" font-size="4.9" fill="#111" text-anchor="middle" font-weight="bold" stroke="#111" stroke-width="0.17">log(pval)</text>
<defs><linearGradient id="gz3" x1="0" y1="0" x2="0" y2="1"><stop offset="0" stop-color="#f5a236"/><stop offset="0.25" stop-color="#fbd3a0"/><stop offset="0.5" stop-color="#f8f3f8"/><stop offset="0.75" stop-color="#ac9fd3"/><stop offset="1" stop-color="#3d3a98"/></linearGradient></defs>
<text x="511" y="676.4" font-size="4.6" fill="#111" stroke="#111" stroke-width="0.16">z-score</text>
<rect x="511.2" y="680.3" width="5.8" height="29.8" fill="url(#gz3)"/>
<text x="518.6" y="681.6" font-size="3.7" fill="#222" stroke="#222" stroke-width="0.13">4</text>
<line x1="511.2" y1="680.3" x2="512.2" y2="680.3" stroke="white" stroke-width="0.4"/>
<line x1="516" y1="680.3" x2="517" y2="680.3" stroke="white" stroke-width="0.4"/>
<text x="518.6" y="689.05" font-size="3.7" fill="#222" stroke="#222" stroke-width="0.13">2</text>
<line x1="511.2" y1="687.75" x2="512.2" y2="687.75" stroke="white" stroke-width="0.4"/>
<line x1="516" y1="687.75" x2="517" y2="687.75" stroke="white" stroke-width="0.4"/>
<text x="518.6" y="696.5" font-size="3.7" fill="#222" stroke="#222" stroke-width="0.13">0</text>
<line x1="511.2" y1="695.2" x2="512.2" y2="695.2" stroke="white" stroke-width="0.4"/>
<line x1="516" y1="695.2" x2="517" y2="695.2" stroke="white" stroke-width="0.4"/>
<text x="518.6" y="703.95" font-size="3.7" fill="#222" stroke="#222" stroke-width="0.13">-2</text>
<line x1="511.2" y1="702.65" x2="512.2" y2="702.65" stroke="white" stroke-width="0.4"/>
<line x1="516" y1="702.65" x2="517" y2="702.65" stroke="white" stroke-width="0.4"/>
<text x="518.6" y="711.4" font-size="3.7" fill="#222" stroke="#222" stroke-width="0.13">-4</text>
<line x1="511.2" y1="710.1" x2="512.2" y2="710.1" stroke="white" stroke-width="0.4"/>
<line x1="516" y1="710.1" x2="517" y2="710.1" stroke="white" stroke-width="0.4"/>
<rect x="511.2" y="714.3" width="6.1" height="5.8" fill="#7f7f7f"/>
<text x="518.6" y="719.8" font-size="6" fill="#222" stroke="#222" stroke-width="0.21">NA</text>
<rect x="563.3" y="610.7" width="117.4" height="162.9" fill="#ebebeb"/>
<line x1="580.45" y1="610.7" x2="580.45" y2="773.6" stroke="#fafafa" stroke-width="0.5"/>
<line x1="606.1" y1="610.7" x2="606.1" y2="773.6" stroke="#fafafa" stroke-width="0.5"/>
<line x1="631.95" y1="610.7" x2="631.95" y2="773.6" stroke="#fafafa" stroke-width="0.5"/>
<line x1="657.75" y1="610.7" x2="657.75" y2="773.6" stroke="#fafafa" stroke-width="0.5"/>
<line x1="567.7" y1="610.7" x2="567.7" y2="773.6" stroke="white" stroke-width="0.85"/>
<line x1="593.2" y1="610.7" x2="593.2" y2="773.6" stroke="white" stroke-width="0.85"/>
<line x1="619" y1="610.7" x2="619" y2="773.6" stroke="white" stroke-width="0.85"/>
<line x1="644.9" y1="610.7" x2="644.9" y2="773.6" stroke="white" stroke-width="0.85"/>
<line x1="670.6" y1="610.7" x2="670.6" y2="773.6" stroke="white" stroke-width="0.85"/>
<line x1="563.3" y1="615.2" x2="680.7" y2="615.2" stroke="white" stroke-width="0.75"/>
<line x1="563.3" y1="623.27" x2="680.7" y2="623.27" stroke="white" stroke-width="0.75"/>
<line x1="563.3" y1="631.34" x2="680.7" y2="631.34" stroke="white" stroke-width="0.75"/>
<line x1="563.3" y1="639.41" x2="680.7" y2="639.41" stroke="white" stroke-width="0.75"/>
<line x1="563.3" y1="647.48" x2="680.7" y2="647.48" stroke="white" stroke-width="0.75"/>
<line x1="563.3" y1="655.55" x2="680.7" y2="655.55" stroke="white" stroke-width="0.75"/>
<line x1="563.3" y1="663.62" x2="680.7" y2="663.62" stroke="white" stroke-width="0.75"/>
<line x1="563.3" y1="671.69" x2="680.7" y2="671.69" stroke="white" stroke-width="0.75"/>
<line x1="563.3" y1="679.76" x2="680.7" y2="679.76" stroke="white" stroke-width="0.75"/>
<line x1="563.3" y1="687.83" x2="680.7" y2="687.83" stroke="white" stroke-width="0.75"/>
<line x1="563.3" y1="695.9" x2="680.7" y2="695.9" stroke="white" stroke-width="0.75"/>
<line x1="563.3" y1="703.97" x2="680.7" y2="703.97" stroke="white" stroke-width="0.75"/>
<line x1="563.3" y1="712.04" x2="680.7" y2="712.04" stroke="white" stroke-width="0.75"/>
<line x1="563.3" y1="720.11" x2="680.7" y2="720.11" stroke="white" stroke-width="0.75"/>
<line x1="563.3" y1="728.18" x2="680.7" y2="728.18" stroke="white" stroke-width="0.75"/>
<line x1="563.3" y1="736.25" x2="680.7" y2="736.25" stroke="white" stroke-width="0.75"/>
<line x1="563.3" y1="744.32" x2="680.7" y2="744.32" stroke="white" stroke-width="0.75"/>
<line x1="563.3" y1="752.39" x2="680.7" y2="752.39" stroke="white" stroke-width="0.75"/>
<line x1="563.3" y1="760.46" x2="680.7" y2="760.46" stroke="white" stroke-width="0.75"/>
<line x1="563.3" y1="768.53" x2="680.7" y2="768.53" stroke="white" stroke-width="0.75"/>
<rect x="567.9" y="611.57" width="26.2" height="7.26" fill="#f9c88e"/>
<text x="560.9" y="616.55" font-size="3.75" fill="#111" text-anchor="end" stroke="#111" stroke-width="0.13">PCMT1</text>
<rect x="561.4" y="614.65" width="1.1" height="1.1" fill="#222"/>
<rect x="567.9" y="619.64" width="20.9" height="7.26" fill="#f9c990"/>
<text x="560.9" y="624.62" font-size="3.75" fill="#111" text-anchor="end" stroke="#111" stroke-width="0.13">FKBP10</text>
<rect x="561.4" y="622.72" width="1.1" height="1.1" fill="#222"/>
<rect x="567.9" y="627.71" width="15.1" height="7.26" fill="#fbd4a5"/>
<text x="560.9" y="632.69" font-size="3.75" fill="#111" text-anchor="end" stroke="#111" stroke-width="0.13">PAK2</text>
<rect x="561.4" y="630.79" width="1.1" height="1.1" fill="#222"/>
<rect x="567.9" y="635.78" width="14.6" height="7.26" fill="#fbd3a3"/>
<text x="560.9" y="640.76" font-size="3.75" fill="#111" text-anchor="end" stroke="#111" stroke-width="0.13">DCAF1</text>
<rect x="561.4" y="638.86" width="1.1" height="1.1" fill="#222"/>
<rect x="567.9" y="643.85" width="13.1" height="7.26" fill="#fbd0a0"/>
<text x="560.9" y="648.83" font-size="3.75" fill="#111" text-anchor="end" stroke="#111" stroke-width="0.13">RNF187</text>
<rect x="561.4" y="646.93" width="1.1" height="1.1" fill="#222"/>
<rect x="567.9" y="651.92" width="12.4" height="7.26" fill="#fbd3a5"/>
<text x="560.9" y="656.9" font-size="3.75" fill="#111" text-anchor="end" stroke="#111" stroke-width="0.13">AURK (family)</text>
<rect x="561.4" y="655" width="1.1" height="1.1" fill="#222"/>
<rect x="567.9" y="659.99" width="11.7" height="7.26" fill="#fbd3a5"/>
<text x="560.9" y="664.97" font-size="3.75" fill="#111" text-anchor="end" stroke="#111" stroke-width="0.13">IRGM</text>
<rect x="561.4" y="663.07" width="1.1" height="1.1" fill="#222"/>
<rect x="567.9" y="668.06" width="11.2" height="7.26" fill="#fbd3a5"/>
<text x="560.9" y="673.04" font-size="3.75" fill="#111" text-anchor="end" stroke="#111" stroke-width="0.13">Irgm1</text>
<rect x="561.4" y="671.14" width="1.1" height="1.1" fill="#222"/>
<rect x="567.9" y="676.13" width="8.8" height="7.26" fill="#fbd3a5"/>
<text x="560.9" y="681.11" font-size="3.75" fill="#111" text-anchor="end" stroke="#111" stroke-width="0.13">CBX5</text>
<rect x="561.4" y="679.21" width="1.1" height="1.1" fill="#222"/>
<rect x="567.9" y="684.2" width="7.6" height="7.26" fill="#fbd0a0"/>
<text x="560.9" y="689.18" font-size="3.75" fill="#111" text-anchor="end" stroke="#111" stroke-width="0.13">FBXW7</text>
<rect x="561.4" y="687.28" width="1.1" height="1.1" fill="#222"/>
<rect x="567.9" y="692.27" width="96.4" height="7.26" fill="#7563b5"/>
<text x="560.9" y="697.25" font-size="3.75" fill="#111" text-anchor="end" stroke="#111" stroke-width="0.13">TNF</text>
<rect x="561.4" y="695.35" width="1.1" height="1.1" fill="#222"/>
<rect x="567.9" y="700.34" width="44.8" height="7.26" fill="#7e6db9"/>
<text x="560.9" y="705.32" font-size="3.75" fill="#111" text-anchor="end" stroke="#111" stroke-width="0.13">E2F2</text>
<rect x="561.4" y="703.42" width="1.1" height="1.1" fill="#222"/>
<rect x="567.9" y="708.41" width="36.1" height="7.26" fill="#7463b4"/>
<text x="560.9" y="713.39" font-size="3.75" fill="#111" text-anchor="end" stroke="#111" stroke-width="0.13">RELA</text>
<rect x="561.4" y="711.49" width="1.1" height="1.1" fill="#222"/>
<rect x="567.9" y="716.48" width="33.2" height="7.26" fill="#6555ab"/>
<text x="560.9" y="721.46" font-size="3.75" fill="#111" text-anchor="end" stroke="#111" stroke-width="0.13">AGT</text>
<rect x="561.4" y="719.56" width="1.1" height="1.1" fill="#222"/>
<rect x="567.9" y="724.55" width="30.6" height="7.26" fill="#7463b4"/>
<text x="560.9" y="729.53" font-size="3.75" fill="#111" text-anchor="end" stroke="#111" stroke-width="0.13">P38 MAPK (family)</text>
<rect x="561.4" y="727.63" width="1.1" height="1.1" fill="#222"/>
<rect x="567.9" y="732.62" width="26.2" height="7.26" fill="#6757ac"/>
<text x="560.9" y="737.6" font-size="3.75" fill="#111" text-anchor="end" stroke="#111" stroke-width="0.13">EGR1</text>
<rect x="561.4" y="735.7" width="1.1" height="1.1" fill="#222"/>
<rect x="567.9" y="740.69" width="25" height="7.26" fill="#6a5aad"/>
<text x="560.9" y="745.67" font-size="3.75" fill="#111" text-anchor="end" stroke="#111" stroke-width="0.13">NFKB (complex)</text>
<rect x="561.4" y="743.77" width="1.1" height="1.1" fill="#222"/>
<rect x="567.9" y="748.76" width="24" height="7.26" fill="#7969b7"/>
<text x="560.9" y="753.74" font-size="3.75" fill="#111" text-anchor="end" stroke="#111" stroke-width="0.13">IL17A</text>
<rect x="561.4" y="751.84" width="1.1" height="1.1" fill="#222"/>
<rect x="567.9" y="756.83" width="17.8" height="7.26" fill="#7464b4"/>
<text x="560.9" y="761.81" font-size="3.75" fill="#111" text-anchor="end" stroke="#111" stroke-width="0.13">FOXA2</text>
<rect x="561.4" y="759.91" width="1.1" height="1.1" fill="#222"/>
<rect x="567.9" y="764.9" width="14.8" height="7.26" fill="#6555ab"/>
<text x="560.9" y="769.88" font-size="3.75" fill="#111" text-anchor="end" stroke="#111" stroke-width="0.13">IGF1</text>
<rect x="561.4" y="767.98" width="1.1" height="1.1" fill="#222"/>
<rect x="567.15" y="774.1" width="1.1" height="1.1" fill="#222"/>
<text x="566.5" y="775.8" font-size="3.4" fill="#222" transform="rotate(90 566.5 775.8)" stroke="#222" stroke-width="0.12">0</text>
<rect x="592.65" y="774.1" width="1.1" height="1.1" fill="#222"/>
<text x="592" y="775.8" font-size="3.4" fill="#222" transform="rotate(90 592 775.8)" stroke="#222" stroke-width="0.12">5</text>
<rect x="618.45" y="774.1" width="1.1" height="1.1" fill="#222"/>
<text x="617.8" y="775.8" font-size="3.4" fill="#222" transform="rotate(90 617.8 775.8)" stroke="#222" stroke-width="0.12">10</text>
<rect x="644.35" y="774.1" width="1.1" height="1.1" fill="#222"/>
<text x="643.7" y="775.8" font-size="3.4" fill="#222" transform="rotate(90 643.7 775.8)" stroke="#222" stroke-width="0.12">15</text>
<rect x="670.05" y="774.1" width="1.1" height="1.1" fill="#222"/>
<text x="669.4" y="775.8" font-size="3.4" fill="#222" transform="rotate(90 669.4 775.8)" stroke="#222" stroke-width="0.12">20</text>
<text x="620" y="783.2" font-size="4.9" fill="#111" text-anchor="middle" font-weight="bold" stroke="#111" stroke-width="0.17">log(pval)</text>
<defs><linearGradient id="gz4" x1="0" y1="0" x2="0" y2="1"><stop offset="0" stop-color="#f5a236"/><stop offset="0.23" stop-color="#fbd3a0"/><stop offset="0.46" stop-color="#f8f3f8"/><stop offset="0.73" stop-color="#ac9fd3"/><stop offset="1" stop-color="#3d3a98"/></linearGradient></defs>
<text x="686.2" y="676.4" font-size="4.6" fill="#111" stroke="#111" stroke-width="0.16">z-score</text>
<rect x="686.4" y="681" width="5.8" height="30" fill="url(#gz4)"/>
<text x="693.8" y="687.84" font-size="3.7" fill="#222" stroke="#222" stroke-width="0.13">2.5</text>
<line x1="686.4" y1="686.54" x2="687.4" y2="686.54" stroke="white" stroke-width="0.4"/>
<line x1="691.2" y1="686.54" x2="692.2" y2="686.54" stroke="white" stroke-width="0.4"/>
<text x="693.8" y="696" font-size="3.7" fill="#222" stroke="#222" stroke-width="0.13">0.0</text>
<line x1="686.4" y1="694.7" x2="687.4" y2="694.7" stroke="white" stroke-width="0.4"/>
<line x1="691.2" y1="694.7" x2="692.2" y2="694.7" stroke="white" stroke-width="0.4"/>
<text x="693.8" y="704.15" font-size="3.7" fill="#222" stroke="#222" stroke-width="0.13">-2.5</text>
<line x1="686.4" y1="702.85" x2="687.4" y2="702.85" stroke="white" stroke-width="0.4"/>
<line x1="691.2" y1="702.85" x2="692.2" y2="702.85" stroke="white" stroke-width="0.4"/>
<text x="693.8" y="712.3" font-size="3.7" fill="#222" stroke="#222" stroke-width="0.13">-5.0</text>
<line x1="686.4" y1="711" x2="687.4" y2="711" stroke="white" stroke-width="0.4"/>
<line x1="691.2" y1="711" x2="692.2" y2="711" stroke="white" stroke-width="0.4"/>
<rect x="780.2" y="612" width="78" height="161.3" fill="#ebebeb"/>
<line x1="796.75" y1="612" x2="796.75" y2="773.3" stroke="#fafafa" stroke-width="0.5"/>
<line x1="824.2" y1="612" x2="824.2" y2="773.3" stroke="#fafafa" stroke-width="0.5"/>
<line x1="852" y1="612" x2="852" y2="773.3" stroke="#fafafa" stroke-width="0.5"/>
<line x1="783.2" y1="612" x2="783.2" y2="773.3" stroke="white" stroke-width="0.85"/>
<line x1="810.3" y1="612" x2="810.3" y2="773.3" stroke="white" stroke-width="0.85"/>
<line x1="838.1" y1="612" x2="838.1" y2="773.3" stroke="white" stroke-width="0.85"/>
<line x1="780.2" y1="617.6" x2="858.2" y2="617.6" stroke="white" stroke-width="0.75"/>
<line x1="780.2" y1="627.59" x2="858.2" y2="627.59" stroke="white" stroke-width="0.75"/>
<line x1="780.2" y1="637.58" x2="858.2" y2="637.58" stroke="white" stroke-width="0.75"/>
<line x1="780.2" y1="647.57" x2="858.2" y2="647.57" stroke="white" stroke-width="0.75"/>
<line x1="780.2" y1="657.56" x2="858.2" y2="657.56" stroke="white" stroke-width="0.75"/>
<line x1="780.2" y1="667.55" x2="858.2" y2="667.55" stroke="white" stroke-width="0.75"/>
<line x1="780.2" y1="677.54" x2="858.2" y2="677.54" stroke="white" stroke-width="0.75"/>
<line x1="780.2" y1="687.53" x2="858.2" y2="687.53" stroke="white" stroke-width="0.75"/>
<line x1="780.2" y1="697.52" x2="858.2" y2="697.52" stroke="white" stroke-width="0.75"/>
<line x1="780.2" y1="707.51" x2="858.2" y2="707.51" stroke="white" stroke-width="0.75"/>
<line x1="780.2" y1="717.5" x2="858.2" y2="717.5" stroke="white" stroke-width="0.75"/>
<line x1="780.2" y1="727.49" x2="858.2" y2="727.49" stroke="white" stroke-width="0.75"/>
<line x1="780.2" y1="737.48" x2="858.2" y2="737.48" stroke="white" stroke-width="0.75"/>
<line x1="780.2" y1="747.47" x2="858.2" y2="747.47" stroke="white" stroke-width="0.75"/>
<line x1="780.2" y1="757.46" x2="858.2" y2="757.46" stroke="white" stroke-width="0.75"/>
<line x1="780.2" y1="767.45" x2="858.2" y2="767.45" stroke="white" stroke-width="0.75"/>
<rect x="783.2" y="613.1" width="67" height="8.99" fill="#7f7f7f"/>
<text x="777.8" y="618.86" font-size="3.5" fill="#111" text-anchor="end" stroke="#111" stroke-width="0.12">Hepatic Fibrosis / Hepatic Stellate Cell Activation</text>
<rect x="778.3" y="617.05" width="1.1" height="1.1" fill="#222"/>
<rect x="783.2" y="623.09" width="43" height="8.99" fill="#7e6cb9"/>
<text x="777.8" y="628.85" font-size="3.5" fill="#111" text-anchor="end" stroke="#111" stroke-width="0.12">Pulmonary Fibrosis Idiopathic Signaling Pathway</text>
<rect x="778.3" y="627.04" width="1.1" height="1.1" fill="#222"/>
<rect x="783.2" y="633.08" width="39.4" height="8.99" fill="#eee8f3"/>
<text x="777.8" y="638.84" font-size="3.5" fill="#111" text-anchor="end" stroke="#111" stroke-width="0.12">Extracellular matrix organization</text>
<rect x="778.3" y="637.03" width="1.1" height="1.1" fill="#222"/>
<rect x="783.2" y="643.07" width="32.6" height="8.99" fill="#9e8dc9"/>
<text x="777.8" y="648.83" font-size="3.5" fill="#111" text-anchor="end" stroke="#111" stroke-width="0.12">Integrin cell surface interactions</text>
<rect x="778.3" y="647.02" width="1.1" height="1.1" fill="#222"/>
<rect x="783.2" y="653.06" width="31.9" height="8.99" fill="#e2d9ee"/>
<text x="777.8" y="658.82" font-size="3.5" fill="#111" text-anchor="end" stroke="#111" stroke-width="0.12">Wound Healing Signaling Pathway</text>
<rect x="778.3" y="657.01" width="1.1" height="1.1" fill="#222"/>
<rect x="783.2" y="663.05" width="30.9" height="8.99" fill="#f8c172"/>
<text x="777.8" y="668.81" font-size="3.5" fill="#111" text-anchor="end" stroke="#111" stroke-width="0.12">Calcium Signaling</text>
<rect x="778.3" y="667" width="1.1" height="1.1" fill="#222"/>
<rect x="783.2" y="673.04" width="29.7" height="8.99" fill="#7f7f7f"/>
<text x="777.8" y="678.8" font-size="3.5" fill="#111" text-anchor="end" stroke="#111" stroke-width="0.12">Agranulocyte Adhesion and Diapedesis</text>
<rect x="778.3" y="676.99" width="1.1" height="1.1" fill="#222"/>
<rect x="783.2" y="683.03" width="29" height="8.99" fill="#ffffff"/>
<text x="777.8" y="688.79" font-size="3.5" fill="#111" text-anchor="end" stroke="#111" stroke-width="0.12">Interleukin-4 and Interleukin-13 signaling</text>
<rect x="778.3" y="686.98" width="1.1" height="1.1" fill="#222"/>
<rect x="783.2" y="693.02" width="27.8" height="8.99" fill="#f9c97f"/>
<text x="777.8" y="698.78" font-size="3.5" fill="#111" text-anchor="end" stroke="#111" stroke-width="0.12">Striated Muscle Contraction</text>
<rect x="778.3" y="696.97" width="1.1" height="1.1" fill="#222"/>
<rect x="783.2" y="703.01" width="27.8" height="8.99" fill="#8a78bd"/>
<text x="777.8" y="708.77" font-size="3.5" fill="#111" text-anchor="end" stroke="#111" stroke-width="0.12">Hepatic Fibrosis Signaling Pathway</text>
<rect x="778.3" y="706.96" width="1.1" height="1.1" fill="#222"/>
<rect x="783.2" y="713" width="27.8" height="8.99" fill="#f7b95a"/>
<text x="777.8" y="718.76" font-size="3.5" fill="#111" text-anchor="end" stroke="#111" stroke-width="0.12">Ion channel transport</text>
<rect x="778.3" y="716.95" width="1.1" height="1.1" fill="#222"/>
<rect x="783.2" y="722.99" width="27.1" height="8.99" fill="#fbe6cb"/>
<text x="777.8" y="728.75" font-size="3.5" fill="#111" text-anchor="end" stroke="#111" stroke-width="0.12">Actin Cytoskeleton Signaling</text>
<rect x="778.3" y="726.94" width="1.1" height="1.1" fill="#222"/>
<rect x="783.2" y="732.98" width="26.6" height="8.99" fill="#e5dcef"/>
<text x="777.8" y="738.74" font-size="3.5" fill="#111" text-anchor="end" stroke="#111" stroke-width="0.12">NGF-stimulated transcription</text>
<rect x="778.3" y="736.93" width="1.1" height="1.1" fill="#222"/>
<rect x="783.2" y="742.97" width="25.8" height="8.99" fill="#8d7bc1"/>
<text x="777.8" y="748.73" font-size="3.5" fill="#111" text-anchor="end" stroke="#111" stroke-width="0.12">IL-17A Signaling in Fibroblasts</text>
<rect x="778.3" y="746.92" width="1.1" height="1.1" fill="#222"/>
<rect x="783.2" y="752.96" width="25.4" height="8.99" fill="#ffffff"/>
<text x="777.8" y="758.72" font-size="3.5" fill="#111" text-anchor="end" stroke="#111" stroke-width="0.12">ILK Signaling</text>
<rect x="778.3" y="756.91" width="1.1" height="1.1" fill="#222"/>
<rect x="783.2" y="762.95" width="24.9" height="8.99" fill="#b7a8d7"/>
<text x="777.8" y="768.71" font-size="3.5" fill="#111" text-anchor="end" stroke="#111" stroke-width="0.12">Cardiac Hypertrophy Signaling (Enhanced)</text>
<rect x="778.3" y="766.9" width="1.1" height="1.1" fill="#222"/>
<rect x="782.65" y="773.8" width="1.1" height="1.1" fill="#222"/>
<text x="782" y="775.5" font-size="3.4" fill="#222" transform="rotate(90 782 775.5)" stroke="#222" stroke-width="0.12">0</text>
<rect x="809.75" y="773.8" width="1.1" height="1.1" fill="#222"/>
<text x="809.1" y="775.5" font-size="3.4" fill="#222" transform="rotate(90 809.1 775.5)" stroke="#222" stroke-width="0.12">5</text>
<rect x="837.55" y="773.8" width="1.1" height="1.1" fill="#222"/>
<text x="836.9" y="775.5" font-size="3.4" fill="#222" transform="rotate(90 836.9 775.5)" stroke="#222" stroke-width="0.12">10</text>
<text x="820.2" y="783.2" font-size="4.9" fill="#111" text-anchor="middle" font-weight="bold" stroke="#111" stroke-width="0.17">log(pval)</text>
<defs><linearGradient id="gz5" x1="0" y1="0" x2="0" y2="1"><stop offset="0" stop-color="#f5a236"/><stop offset="0.25" stop-color="#fbd3a0"/><stop offset="0.5" stop-color="#f8f3f8"/><stop offset="0.75" stop-color="#ac9fd3"/><stop offset="1" stop-color="#3d3a98"/></linearGradient></defs>
<text x="864" y="676.4" font-size="4.6" fill="#111" stroke="#111" stroke-width="0.16">z-score</text>
<rect x="864.2" y="680.3" width="5.8" height="29.8" fill="url(#gz5)"/>
<text x="871.6" y="681.6" font-size="3.7" fill="#222" stroke="#222" stroke-width="0.13">4</text>
<line x1="864.2" y1="680.3" x2="865.2" y2="680.3" stroke="white" stroke-width="0.4"/>
<line x1="869" y1="680.3" x2="870" y2="680.3" stroke="white" stroke-width="0.4"/>
<text x="871.6" y="689.05" font-size="3.7" fill="#222" stroke="#222" stroke-width="0.13">2</text>
<line x1="864.2" y1="687.75" x2="865.2" y2="687.75" stroke="white" stroke-width="0.4"/>
<line x1="869" y1="687.75" x2="870" y2="687.75" stroke="white" stroke-width="0.4"/>
<text x="871.6" y="696.5" font-size="3.7" fill="#222" stroke="#222" stroke-width="0.13">0</text>
<line x1="864.2" y1="695.2" x2="865.2" y2="695.2" stroke="white" stroke-width="0.4"/>
<line x1="869" y1="695.2" x2="870" y2="695.2" stroke="white" stroke-width="0.4"/>
<text x="871.6" y="703.95" font-size="3.7" fill="#222" stroke="#222" stroke-width="0.13">-2</text>
<line x1="864.2" y1="702.65" x2="865.2" y2="702.65" stroke="white" stroke-width="0.4"/>
<line x1="869" y1="702.65" x2="870" y2="702.65" stroke="white" stroke-width="0.4"/>
<text x="871.6" y="711.4" font-size="3.7" fill="#222" stroke="#222" stroke-width="0.13">-4</text>
<line x1="864.2" y1="710.1" x2="865.2" y2="710.1" stroke="white" stroke-width="0.4"/>
<line x1="869" y1="710.1" x2="870" y2="710.1" stroke="white" stroke-width="0.4"/>
<rect x="864.2" y="714.3" width="6.1" height="5.8" fill="#7f7f7f"/>
<text x="871.6" y="719.8" font-size="6" fill="#222" stroke="#222" stroke-width="0.21">NA</text>
<rect x="923.4" y="612" width="108.6" height="163" fill="#ebebeb"/>
<line x1="939.45" y1="612" x2="939.45" y2="775" stroke="#fafafa" stroke-width="0.5"/>
<line x1="962.8" y1="612" x2="962.8" y2="775" stroke="#fafafa" stroke-width="0.5"/>
<line x1="986.25" y1="612" x2="986.25" y2="775" stroke="#fafafa" stroke-width="0.5"/>
<line x1="1009.6" y1="612" x2="1009.6" y2="775" stroke="#fafafa" stroke-width="0.5"/>
<line x1="927.8" y1="612" x2="927.8" y2="775" stroke="white" stroke-width="0.85"/>
<line x1="951.1" y1="612" x2="951.1" y2="775" stroke="white" stroke-width="0.85"/>
<line x1="974.5" y1="612" x2="974.5" y2="775" stroke="white" stroke-width="0.85"/>
<line x1="998" y1="612" x2="998" y2="775" stroke="white" stroke-width="0.85"/>
<line x1="1021.2" y1="612" x2="1021.2" y2="775" stroke="white" stroke-width="0.85"/>
<line x1="923.4" y1="616" x2="1032" y2="616" stroke="white" stroke-width="0.75"/>
<line x1="923.4" y1="622.68" x2="1032" y2="622.68" stroke="white" stroke-width="0.75"/>
<line x1="923.4" y1="629.36" x2="1032" y2="629.36" stroke="white" stroke-width="0.75"/>
<line x1="923.4" y1="636.04" x2="1032" y2="636.04" stroke="white" stroke-width="0.75"/>
<line x1="923.4" y1="642.72" x2="1032" y2="642.72" stroke="white" stroke-width="0.75"/>
<line x1="923.4" y1="649.4" x2="1032" y2="649.4" stroke="white" stroke-width="0.75"/>
<line x1="923.4" y1="656.08" x2="1032" y2="656.08" stroke="white" stroke-width="0.75"/>
<line x1="923.4" y1="662.76" x2="1032" y2="662.76" stroke="white" stroke-width="0.75"/>
<line x1="923.4" y1="669.44" x2="1032" y2="669.44" stroke="white" stroke-width="0.75"/>
<line x1="923.4" y1="676.12" x2="1032" y2="676.12" stroke="white" stroke-width="0.75"/>
<line x1="923.4" y1="682.8" x2="1032" y2="682.8" stroke="white" stroke-width="0.75"/>
<line x1="923.4" y1="689.48" x2="1032" y2="689.48" stroke="white" stroke-width="0.75"/>
<line x1="923.4" y1="696.16" x2="1032" y2="696.16" stroke="white" stroke-width="0.75"/>
<line x1="923.4" y1="702.84" x2="1032" y2="702.84" stroke="white" stroke-width="0.75"/>
<line x1="923.4" y1="709.52" x2="1032" y2="709.52" stroke="white" stroke-width="0.75"/>
<line x1="923.4" y1="716.2" x2="1032" y2="716.2" stroke="white" stroke-width="0.75"/>
<line x1="923.4" y1="722.88" x2="1032" y2="722.88" stroke="white" stroke-width="0.75"/>
<line x1="923.4" y1="729.56" x2="1032" y2="729.56" stroke="white" stroke-width="0.75"/>
<line x1="923.4" y1="736.24" x2="1032" y2="736.24" stroke="white" stroke-width="0.75"/>
<line x1="923.4" y1="742.92" x2="1032" y2="742.92" stroke="white" stroke-width="0.75"/>
<line x1="923.4" y1="749.6" x2="1032" y2="749.6" stroke="white" stroke-width="0.75"/>
<line x1="923.4" y1="756.28" x2="1032" y2="756.28" stroke="white" stroke-width="0.75"/>
<line x1="923.4" y1="762.96" x2="1032" y2="762.96" stroke="white" stroke-width="0.75"/>
<line x1="923.4" y1="769.64" x2="1032" y2="769.64" stroke="white" stroke-width="0.75"/>
<rect x="927.9" y="612.99" width="32.8" height="6.01" fill="#f8a94b"/>
<text x="921" y="617.35" font-size="3.75" fill="#111" text-anchor="end" stroke="#111" stroke-width="0.13">KLF2</text>
<rect x="921.5" y="615.45" width="1.1" height="1.1" fill="#222"/>
<rect x="927.9" y="619.67" width="29.2" height="6.01" fill="#f9c083"/>
<text x="921" y="624.03" font-size="3.75" fill="#111" text-anchor="end" stroke="#111" stroke-width="0.13">ALPHA CATENIN (family)</text>
<rect x="921.5" y="622.13" width="1.1" height="1.1" fill="#222"/>
<rect x="927.9" y="626.35" width="28" height="6.01" fill="#f8b060"/>
<text x="921" y="630.71" font-size="3.75" fill="#111" text-anchor="end" stroke="#111" stroke-width="0.13">CDKN1A</text>
<rect x="921.5" y="628.81" width="1.1" height="1.1" fill="#222"/>
<rect x="927.9" y="633.03" width="16.4" height="6.01" fill="#fac992"/>
<text x="921" y="637.39" font-size="3.75" fill="#111" text-anchor="end" stroke="#111" stroke-width="0.13">MEOX2</text>
<rect x="921.5" y="635.49" width="1.1" height="1.1" fill="#222"/>
<rect x="927.9" y="639.71" width="16.4" height="6.01" fill="#f9c285"/>
<text x="921" y="644.07" font-size="3.75" fill="#111" text-anchor="end" stroke="#111" stroke-width="0.13">SPDEF</text>
<rect x="921.5" y="642.17" width="1.1" height="1.1" fill="#222"/>
<rect x="927.9" y="646.39" width="15.7" height="6.01" fill="#f9bd78"/>
<text x="921" y="650.75" font-size="3.75" fill="#111" text-anchor="end" stroke="#111" stroke-width="0.13">PPARGC1A</text>
<rect x="921.5" y="648.85" width="1.1" height="1.1" fill="#222"/>
<rect x="927.9" y="653.07" width="11.1" height="6.01" fill="#fbcfa0"/>
<text x="921" y="657.43" font-size="3.75" fill="#111" text-anchor="end" stroke="#111" stroke-width="0.13">PRKAA1</text>
<rect x="921.5" y="655.53" width="1.1" height="1.1" fill="#222"/>
<rect x="927.9" y="659.75" width="8.4" height="6.01" fill="#fbd6ad"/>
<text x="921" y="664.11" font-size="3.75" fill="#111" text-anchor="end" stroke="#111" stroke-width="0.13">NR1H (family)</text>
<rect x="921.5" y="662.21" width="1.1" height="1.1" fill="#222"/>
<rect x="927.9" y="666.43" width="7.9" height="6.01" fill="#fbd6ad"/>
<text x="921" y="670.79" font-size="3.75" fill="#111" text-anchor="end" stroke="#111" stroke-width="0.13">STK11</text>
<rect x="921.5" y="668.89" width="1.1" height="1.1" fill="#222"/>
<rect x="927.9" y="673.11" width="7.4" height="6.01" fill="#f9c083"/>
<text x="921" y="677.47" font-size="3.75" fill="#111" text-anchor="end" stroke="#111" stroke-width="0.13">HNF4A</text>
<rect x="921.5" y="675.57" width="1.1" height="1.1" fill="#222"/>
<rect x="927.9" y="679.79" width="96.5" height="6.01" fill="#3f47a6"/>
<text x="921" y="684.15" font-size="3.75" fill="#111" text-anchor="end" stroke="#111" stroke-width="0.13">AGT</text>
<rect x="921.5" y="682.25" width="1.1" height="1.1" fill="#222"/>
<rect x="927.9" y="686.47" width="68.7" height="6.01" fill="#7b6ab8"/>
<text x="921" y="690.83" font-size="3.75" fill="#111" text-anchor="end" stroke="#111" stroke-width="0.13">TNF</text>
<rect x="921.5" y="688.93" width="1.1" height="1.1" fill="#222"/>
<rect x="927.9" y="693.15" width="65.5" height="6.01" fill="#7a69b7"/>
<text x="921" y="697.51" font-size="3.75" fill="#111" text-anchor="end" stroke="#111" stroke-width="0.13">TBX3</text>
<rect x="921.5" y="695.61" width="1.1" height="1.1" fill="#222"/>
<rect x="927.9" y="699.83" width="55.1" height="6.01" fill="#4b46a0"/>
<text x="921" y="704.19" font-size="3.75" fill="#111" text-anchor="end" stroke="#111" stroke-width="0.13">MRTFB</text>
<rect x="921.5" y="702.29" width="1.1" height="1.1" fill="#222"/>
<rect x="927.9" y="706.51" width="43" height="6.01" fill="#6656ac"/>
<text x="921" y="710.87" font-size="3.75" fill="#111" text-anchor="end" stroke="#111" stroke-width="0.13">MRTFA</text>
<rect x="921.5" y="708.97" width="1.1" height="1.1" fill="#222"/>
<rect x="927.9" y="713.19" width="40.1" height="6.01" fill="#8371bc"/>
<text x="921" y="717.55" font-size="3.75" fill="#111" text-anchor="end" stroke="#111" stroke-width="0.13">TEAD3</text>
<rect x="921.5" y="715.65" width="1.1" height="1.1" fill="#222"/>
<rect x="927.9" y="719.87" width="38.9" height="6.01" fill="#7b6ab8"/>
<text x="921" y="724.23" font-size="3.75" fill="#111" text-anchor="end" stroke="#111" stroke-width="0.13">WNT3A</text>
<rect x="921.5" y="722.33" width="1.1" height="1.1" fill="#222"/>
<rect x="927.9" y="726.55" width="36.2" height="6.01" fill="#6b5bae"/>
<text x="921" y="730.91" font-size="3.75" fill="#111" text-anchor="end" stroke="#111" stroke-width="0.13">TEAD2</text>
<rect x="921.5" y="729.01" width="1.1" height="1.1" fill="#222"/>
<rect x="927.9" y="733.23" width="36.2" height="6.01" fill="#6e5eb0"/>
<text x="921" y="737.59" font-size="3.75" fill="#111" text-anchor="end" stroke="#111" stroke-width="0.13">ROCK1</text>
<rect x="921.5" y="735.69" width="1.1" height="1.1" fill="#222"/>
<rect x="927.9" y="739.91" width="21.2" height="6.01" fill="#7a69b7"/>
<text x="921" y="744.27" font-size="3.75" fill="#111" text-anchor="end" stroke="#111" stroke-width="0.13">FGFR1</text>
<rect x="921.5" y="742.37" width="1.1" height="1.1" fill="#222"/>
<rect x="927.9" y="746.59" width="18.6" height="6.01" fill="#7565b5"/>
<text x="921" y="750.95" font-size="3.75" fill="#111" text-anchor="end" stroke="#111" stroke-width="0.13">NFATS</text>
<rect x="921.5" y="749.05" width="1.1" height="1.1" fill="#222"/>
<rect x="927.9" y="753.27" width="15.9" height="6.01" fill="#7b6ab8"/>
<text x="921" y="757.63" font-size="3.75" fill="#111" text-anchor="end" stroke="#111" stroke-width="0.13">MAPK14</text>
<rect x="921.5" y="755.73" width="1.1" height="1.1" fill="#222"/>
<rect x="927.9" y="759.95" width="15.9" height="6.01" fill="#8272bb"/>
<text x="921" y="764.31" font-size="3.75" fill="#111" text-anchor="end" stroke="#111" stroke-width="0.13">NFKB (family)</text>
<rect x="921.5" y="762.41" width="1.1" height="1.1" fill="#222"/>
<rect x="927.9" y="766.63" width="14.7" height="6.01" fill="#8272bb"/>
<text x="921" y="770.99" font-size="3.75" fill="#111" text-anchor="end" stroke="#111" stroke-width="0.13">TNFSF12</text>
<rect x="921.5" y="769.09" width="1.1" height="1.1" fill="#222"/>
<rect x="927.25" y="775.5" width="1.1" height="1.1" fill="#222"/>
<text x="926.6" y="777.2" font-size="3.4" fill="#222" transform="rotate(90 926.6 777.2)" stroke="#222" stroke-width="0.12">0</text>
<rect x="950.55" y="775.5" width="1.1" height="1.1" fill="#222"/>
<text x="949.9" y="777.2" font-size="3.4" fill="#222" transform="rotate(90 949.9 777.2)" stroke="#222" stroke-width="0.12">5</text>
<rect x="973.95" y="775.5" width="1.1" height="1.1" fill="#222"/>
<text x="973.3" y="777.2" font-size="3.4" fill="#222" transform="rotate(90 973.3 777.2)" stroke="#222" stroke-width="0.12">10</text>
<rect x="997.45" y="775.5" width="1.1" height="1.1" fill="#222"/>
<text x="996.8" y="777.2" font-size="3.4" fill="#222" transform="rotate(90 996.8 777.2)" stroke="#222" stroke-width="0.12">15</text>
<rect x="1020.65" y="775.5" width="1.1" height="1.1" fill="#222"/>
<text x="1020" y="777.2" font-size="3.4" fill="#222" transform="rotate(90 1020 777.2)" stroke="#222" stroke-width="0.12">20</text>
<text x="976.2" y="783.2" font-size="4.9" fill="#111" text-anchor="middle" font-weight="bold" stroke="#111" stroke-width="0.17">log(pval)</text>
<defs><linearGradient id="gz6" x1="0" y1="0" x2="0" y2="1"><stop offset="0" stop-color="#f5a236"/><stop offset="0.23" stop-color="#fbd3a0"/><stop offset="0.46" stop-color="#f8f3f8"/><stop offset="0.73" stop-color="#ac9fd3"/><stop offset="1" stop-color="#3d3a98"/></linearGradient></defs>
<text x="1037" y="676.4" font-size="4.6" fill="#111" stroke="#111" stroke-width="0.16">z-score</text>
<rect x="1037.2" y="681" width="5.8" height="30" fill="url(#gz6)"/>
<text x="1044.6" y="687.84" font-size="3.7" fill="#222" stroke="#222" stroke-width="0.13">2.5</text>
<line x1="1037.2" y1="686.54" x2="1038.2" y2="686.54" stroke="white" stroke-width="0.4"/>
<line x1="1042" y1="686.54" x2="1043" y2="686.54" stroke="white" stroke-width="0.4"/>
<text x="1044.6" y="696" font-size="3.7" fill="#222" stroke="#222" stroke-width="0.13">0.0</text>
<line x1="1037.2" y1="694.7" x2="1038.2" y2="694.7" stroke="white" stroke-width="0.4"/>
<line x1="1042" y1="694.7" x2="1043" y2="694.7" stroke="white" stroke-width="0.4"/>
<text x="1044.6" y="704.15" font-size="3.7" fill="#222" stroke="#222" stroke-width="0.13">-2.5</text>
<line x1="1037.2" y1="702.85" x2="1038.2" y2="702.85" stroke="white" stroke-width="0.4"/>
<line x1="1042" y1="702.85" x2="1043" y2="702.85" stroke="white" stroke-width="0.4"/>
<text x="1044.6" y="712.3" font-size="3.7" fill="#222" stroke="#222" stroke-width="0.13">-5.0</text>
<line x1="1037.2" y1="711" x2="1038.2" y2="711" stroke="white" stroke-width="0.4"/>
<line x1="1042" y1="711" x2="1043" y2="711" stroke="white" stroke-width="0.4"/>
</svg>
</body></html>
